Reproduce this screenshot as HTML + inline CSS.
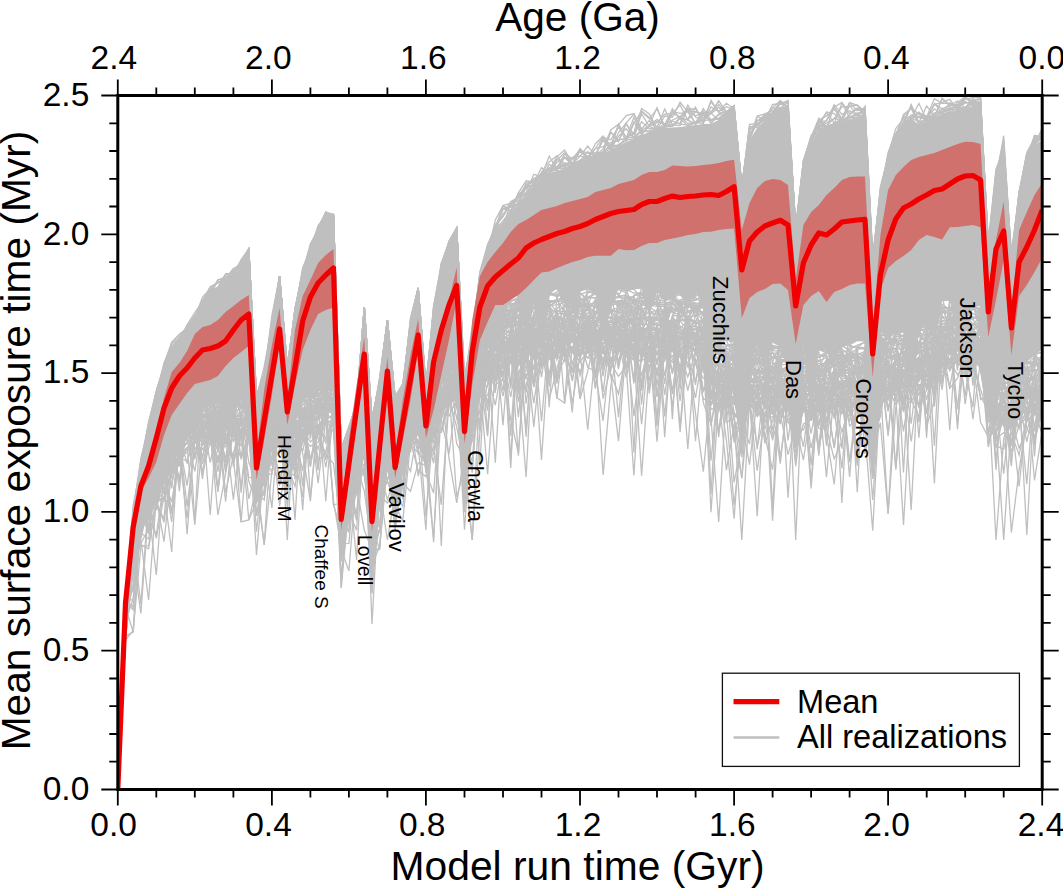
<!DOCTYPE html>
<html><head><meta charset="utf-8"><style>
html,body{margin:0;padding:0;background:#fff;}
svg{display:block;font-family:"Liberation Sans",sans-serif;}
</style></head><body>
<svg width="1063" height="889" viewBox="0 0 1063 889">
<rect width="1063" height="889" fill="#fff"/>
<defs><clipPath id="c"><rect x="117.8" y="95.5" width="924.4000000000001" height="694.0"/></clipPath></defs>
<g clip-path="url(#c)">
<g fill="none" stroke="#bfbfbf" stroke-width="1.3" stroke-linejoin="miter">
<polyline points="117.8,789.5 125.5,599.9 133.2,510.8 140.9,467.0 148.6,426.4 156.3,397.8 164.0,369.0 171.7,348.7 179.4,342.0 187.1,327.3 194.8,318.0 202.5,304.9 210.2,292.4 217.9,281.8 225.6,281.9 233.4,275.6 241.1,263.5 248.8,249.0 256.5,396.7 264.2,374.3 271.9,315.5 279.6,276.0 287.3,366.3 295.0,312.3 302.7,274.8 310.4,249.9 318.1,229.4 325.8,212.0 333.5,215.9 341.2,448.3 348.9,428.0 356.6,406.9 364.3,307.0 372.0,423.0 379.7,381.0 387.4,320.0 395.1,397.7 402.8,388.7 410.5,324.3 418.2,288.0 425.9,387.9 433.6,318.7 441.3,265.0 449.0,244.1 456.7,228.0 464.5,381.7 472.2,335.9 479.9,273.5 487.6,247.0 495.3,228.8 503.0,205.8 510.7,211.8 518.4,201.9 526.1,186.4 533.8,185.7 541.5,174.4 549.2,173.0 556.9,162.5 564.6,157.5 572.3,160.1 580.0,151.3 587.7,157.6 595.4,148.6 603.1,146.6 610.8,142.6 618.5,141.0 626.2,123.0 633.9,114.0 641.6,128.9 649.3,120.5 657.0,129.9 664.7,116.0 672.4,117.2 680.1,102.3 687.8,111.8 695.5,123.1 703.3,120.4 711.0,113.1 718.7,120.0 726.4,111.8 734.1,109.8 741.8,187.9 749.5,139.9 757.2,120.3 764.9,119.8 772.6,113.4 780.3,108.5 788.0,101.9 795.7,230.0 803.4,169.6 811.1,142.0 818.8,120.2 826.5,115.9 834.2,109.1 841.9,120.3 849.6,116.4 857.3,115.6 865.0,106.9 872.7,255.6 880.4,194.8 888.1,159.8 895.8,139.4 903.5,124.2 911.2,114.7 918.9,116.3 926.6,118.6 934.4,117.0 942.1,111.0 949.8,109.8 957.5,105.5 965.2,97.1 972.9,101.2 980.6,102.8 988.3,246.2 996.0,173.1 1003.7,150.9 1011.4,253.9 1019.1,193.9 1026.8,152.4 1034.5,138.6 1042.2,138.1"/>
<polyline points="117.8,789.5 125.5,599.9 133.2,511.0 140.9,467.0 148.6,429.0 156.3,398.6 164.0,368.8 171.7,350.0 179.4,342.0 187.1,329.0 194.8,317.8 202.5,304.9 210.2,292.8 217.9,288.0 225.6,275.1 233.4,272.6 241.1,266.8 248.8,249.0 256.5,398.8 264.2,374.5 271.9,325.8 279.6,276.0 287.3,365.1 295.0,311.3 302.7,273.1 310.4,249.9 318.1,229.9 325.8,215.3 333.5,215.9 341.2,446.6 348.9,429.9 356.6,408.0 364.3,307.0 372.0,421.6 379.7,380.9 387.4,320.0 395.1,400.0 402.8,388.0 410.5,318.3 418.2,288.0 425.9,385.2 433.6,319.0 441.3,268.9 449.0,247.8 456.7,228.0 464.5,382.2 472.2,330.9 479.9,283.4 487.6,254.3 495.3,220.1 503.0,205.6 510.7,203.3 518.4,196.2 526.1,185.0 533.8,178.9 541.5,176.4 549.2,168.2 556.9,168.6 564.6,168.0 572.3,165.0 580.0,160.9 587.7,158.1 595.4,148.7 603.1,136.5 610.8,145.6 618.5,124.9 626.2,115.6 633.9,113.5 641.6,131.4 649.3,130.7 657.0,128.7 664.7,127.2 672.4,126.5 680.1,117.3 687.8,109.0 695.5,108.8 703.3,118.5 711.0,113.6 718.7,107.2 726.4,114.9 734.1,107.2 741.8,184.7 749.5,130.2 757.2,120.7 764.9,117.3 772.6,113.7 780.3,103.8 788.0,107.1 795.7,226.2 803.4,160.7 811.1,143.4 818.8,126.4 826.5,111.9 834.2,113.5 841.9,121.4 849.6,119.7 857.3,117.6 865.0,106.5 872.7,257.4 880.4,194.8 888.1,154.5 895.8,128.5 903.5,118.5 911.2,116.3 918.9,117.5 926.6,119.6 934.4,117.0 942.1,98.0 949.8,105.2 957.5,106.1 965.2,97.5 972.9,104.1 980.6,98.7 988.3,243.2 996.0,179.3 1003.7,149.8 1011.4,261.1 1019.1,199.4 1026.8,156.6 1034.5,144.3 1042.2,137.9"/>
<polyline points="117.8,789.5 125.5,595.9 133.2,513.7 140.9,465.1 148.6,425.9 156.3,391.6 164.0,367.4 171.7,343.4 179.4,339.7 187.1,326.5 194.8,315.5 202.5,305.0 210.2,292.3 217.9,287.7 225.6,282.0 233.4,270.3 241.1,266.7 248.8,249.0 256.5,394.7 264.2,372.6 271.9,324.8 279.6,276.0 287.3,368.5 295.0,308.1 302.7,274.9 310.4,247.8 318.1,229.6 325.8,215.5 333.5,214.8 341.2,448.7 348.9,428.4 356.6,403.4 364.3,307.0 372.0,422.0 379.7,378.7 387.4,320.0 395.1,398.7 402.8,386.6 410.5,323.6 418.2,288.0 425.9,387.7 433.6,306.7 441.3,266.1 449.0,241.9 456.7,228.0 464.5,384.3 472.2,335.3 479.9,271.7 487.6,244.4 495.3,229.7 503.0,224.7 510.7,209.7 518.4,203.9 526.1,194.1 533.8,185.9 541.5,172.1 549.2,161.9 556.9,155.7 564.6,167.6 572.3,157.3 580.0,155.9 587.7,158.7 595.4,143.7 603.1,136.1 610.8,148.9 618.5,124.2 626.2,137.7 633.9,132.4 641.6,108.5 649.3,114.0 657.0,129.3 664.7,123.6 672.4,121.0 680.1,124.1 687.8,125.2 695.5,122.7 703.3,111.5 711.0,123.7 718.7,113.9 726.4,112.1 734.1,110.0 741.8,187.6 749.5,133.8 757.2,124.6 764.9,120.0 772.6,104.3 780.3,103.8 788.0,100.4 795.7,229.9 803.4,171.2 811.1,145.0 818.8,121.9 826.5,126.7 834.2,123.7 841.9,118.1 849.6,102.6 857.3,105.3 865.0,114.3 872.7,261.8 880.4,186.6 888.1,157.4 895.8,134.1 903.5,124.9 911.2,118.0 918.9,113.2 926.6,116.2 934.4,116.9 942.1,99.0 949.8,105.6 957.5,101.0 965.2,107.9 972.9,98.7 980.6,105.0 988.3,242.6 996.0,176.9 1003.7,148.7 1011.4,258.9 1019.1,191.4 1026.8,159.3 1034.5,144.8 1042.2,136.6"/>
<polyline points="117.8,789.5 125.5,599.9 133.2,514.7 140.9,467.0 148.6,428.6 156.3,398.1 164.0,368.2 171.7,345.8 179.4,341.2 187.1,326.7 194.8,317.7 202.5,303.9 210.2,294.0 217.9,287.4 225.6,282.0 233.4,271.2 241.1,264.3 248.8,249.0 256.5,397.7 264.2,366.4 271.9,325.9 279.6,276.0 287.3,369.1 295.0,311.0 302.7,269.4 310.4,248.9 318.1,228.5 325.8,213.2 333.5,214.1 341.2,449.4 348.9,426.5 356.6,404.0 364.3,307.0 372.0,422.2 379.7,380.3 387.4,320.0 395.1,399.9 402.8,390.0 410.5,321.2 418.2,288.0 425.9,389.7 433.6,319.9 441.3,264.3 449.0,241.9 456.7,228.0 464.5,384.2 472.2,339.1 479.9,283.7 487.6,251.8 495.3,229.6 503.0,221.0 510.7,211.2 518.4,192.9 526.1,180.8 533.8,182.1 541.5,176.3 549.2,156.2 556.9,169.2 564.6,165.7 572.3,165.0 580.0,160.0 587.7,155.8 595.4,152.5 603.1,152.3 610.8,144.4 618.5,146.0 626.2,140.1 633.9,138.8 641.6,130.7 649.3,132.0 657.0,130.0 664.7,125.9 672.4,126.2 680.1,118.4 687.8,120.1 695.5,112.0 703.3,113.6 711.0,111.6 718.7,104.5 726.4,112.7 734.1,109.3 741.8,184.1 749.5,139.6 757.2,121.2 764.9,115.0 772.6,114.0 780.3,103.0 788.0,101.6 795.7,227.6 803.4,165.5 811.1,138.4 818.8,127.8 826.5,123.1 834.2,118.9 841.9,106.7 849.6,106.4 857.3,105.0 865.0,111.5 872.7,256.4 880.4,190.3 888.1,156.2 895.8,139.4 903.5,125.0 911.2,117.8 918.9,121.7 926.6,119.8 934.4,103.7 942.1,108.7 949.8,105.7 957.5,104.5 965.2,102.4 972.9,103.6 980.6,105.0 988.3,243.6 996.0,171.6 1003.7,146.0 1011.4,259.1 1019.1,195.7 1026.8,160.0 1034.5,139.6 1042.2,139.2"/>
<polyline points="117.8,789.5 125.5,599.6 133.2,509.7 140.9,466.6 148.6,424.1 156.3,390.4 164.0,366.8 171.7,349.7 179.4,339.9 187.1,324.8 194.8,312.7 202.5,301.6 210.2,290.3 217.9,287.9 225.6,281.8 233.4,275.4 241.1,262.0 248.8,249.0 256.5,396.8 264.2,376.0 271.9,326.0 279.6,276.0 287.3,367.7 295.0,309.2 302.7,271.3 310.4,249.4 318.1,228.4 325.8,214.7 333.5,215.6 341.2,449.9 348.9,426.0 356.6,407.7 364.3,307.0 372.0,418.6 379.7,381.0 387.4,320.0 395.1,396.6 402.8,383.4 410.5,323.6 418.2,288.0 425.9,389.6 433.6,306.6 441.3,269.6 449.0,245.3 456.7,228.0 464.5,382.3 472.2,326.4 479.9,284.7 487.6,244.9 495.3,226.1 503.0,209.3 510.7,206.1 518.4,203.4 526.1,182.9 533.8,182.9 541.5,177.0 549.2,173.0 556.9,166.4 564.6,164.3 572.3,163.6 580.0,161.7 587.7,157.3 595.4,155.0 603.1,140.3 610.8,150.0 618.5,132.5 626.2,123.0 633.9,138.6 641.6,111.8 649.3,118.8 657.0,108.9 664.7,126.1 672.4,124.1 680.1,123.1 687.8,105.1 695.5,117.0 703.3,120.9 711.0,119.4 718.7,118.5 726.4,115.0 734.1,109.9 741.8,185.2 749.5,138.7 757.2,116.6 764.9,119.3 772.6,113.3 780.3,107.4 788.0,107.7 795.7,229.2 803.4,161.0 811.1,137.2 818.8,121.4 826.5,120.8 834.2,107.3 841.9,102.5 849.6,113.7 857.3,108.2 865.0,115.0 872.7,258.2 880.4,193.0 888.1,155.5 895.8,135.0 903.5,123.8 911.2,118.0 918.9,103.5 926.6,119.7 934.4,112.8 942.1,112.0 949.8,110.6 957.5,102.4 965.2,96.6 972.9,105.3 980.6,101.4 988.3,249.1 996.0,175.3 1003.7,148.0 1011.4,261.7 1019.1,199.7 1026.8,159.6 1034.5,136.8 1042.2,137.0"/>
<polyline points="117.8,789.5 125.5,595.9 133.2,505.1 140.9,465.2 148.6,428.8 156.3,398.7 164.0,368.9 171.7,349.9 179.4,341.9 187.1,328.5 194.8,317.4 202.5,302.1 210.2,286.9 217.9,282.9 225.6,280.5 233.4,274.5 241.1,264.5 248.8,249.0 256.5,398.9 264.2,376.0 271.9,325.2 279.6,276.0 287.3,369.9 295.0,311.0 302.7,271.8 310.4,244.8 318.1,229.7 325.8,215.6 333.5,215.9 341.2,449.2 348.9,429.0 356.6,400.7 364.3,307.0 372.0,419.2 379.7,381.0 387.4,320.0 395.1,397.5 402.8,384.4 410.5,323.4 418.2,288.0 425.9,390.0 433.6,317.7 441.3,263.1 449.0,242.5 456.7,228.0 464.5,375.5 472.2,339.1 479.9,284.8 487.6,254.6 495.3,225.9 503.0,215.7 510.7,201.4 518.4,197.7 526.1,188.7 533.8,178.4 541.5,174.7 549.2,167.5 556.9,171.0 564.6,157.0 572.3,164.2 580.0,150.2 587.7,153.2 595.4,155.2 603.1,152.7 610.8,148.6 618.5,136.3 626.2,128.8 633.9,138.6 641.6,134.9 649.3,124.8 657.0,121.2 664.7,124.5 672.4,126.3 680.1,118.0 687.8,126.0 695.5,122.9 703.3,118.9 711.0,101.9 718.7,111.7 726.4,103.3 734.1,108.5 741.8,187.8 749.5,139.0 757.2,116.0 764.9,114.0 772.6,113.1 780.3,110.0 788.0,106.0 795.7,227.3 803.4,169.9 811.1,144.3 818.8,123.5 826.5,112.6 834.2,123.0 841.9,122.0 849.6,117.6 857.3,114.6 865.0,110.2 872.7,261.7 880.4,188.6 888.1,155.6 895.8,136.9 903.5,124.4 911.2,104.8 918.9,122.6 926.6,105.9 934.4,116.0 942.1,113.2 949.8,102.7 957.5,108.8 965.2,97.1 972.9,103.5 980.6,104.7 988.3,249.5 996.0,177.4 1003.7,142.3 1011.4,253.0 1019.1,199.8 1026.8,158.5 1034.5,144.5 1042.2,128.4"/>
<polyline points="117.8,789.5 125.5,600.0 133.2,515.0 140.9,465.6 148.6,421.7 156.3,392.0 164.0,364.2 171.7,342.0 179.4,334.2 187.1,328.0 194.8,317.7 202.5,297.1 210.2,289.0 217.9,288.0 225.6,278.0 233.4,274.7 241.1,265.7 248.8,249.0 256.5,399.7 264.2,376.0 271.9,325.1 279.6,276.0 287.3,365.4 295.0,312.9 302.7,267.6 310.4,249.7 318.1,229.2 325.8,212.0 333.5,214.6 341.2,449.1 348.9,430.0 356.6,406.2 364.3,307.0 372.0,418.8 379.7,380.8 387.4,320.0 395.1,396.0 402.8,390.0 410.5,323.8 418.2,288.0 425.9,384.1 433.6,320.0 441.3,270.0 449.0,248.0 456.7,228.0 464.5,384.3 472.2,331.6 479.9,272.9 487.6,253.3 495.3,228.9 503.0,206.7 510.7,207.4 518.4,203.2 526.1,187.3 533.8,184.7 541.5,176.2 549.2,173.0 556.9,160.2 564.6,152.9 572.3,159.0 580.0,149.5 587.7,159.0 595.4,155.8 603.1,148.9 610.8,129.9 618.5,124.2 626.2,138.0 633.9,137.2 641.6,130.0 649.3,125.7 657.0,107.6 664.7,127.4 672.4,111.7 680.1,113.4 687.8,111.8 695.5,111.3 703.3,115.1 711.0,121.2 718.7,118.0 726.4,113.0 734.1,106.0 741.8,188.0 749.5,139.4 757.2,120.6 764.9,119.3 772.6,114.0 780.3,110.0 788.0,105.6 795.7,229.4 803.4,160.5 811.1,137.2 818.8,118.2 826.5,126.7 834.2,123.9 841.9,121.8 849.6,114.8 857.3,108.4 865.0,112.9 872.7,261.6 880.4,193.3 888.1,156.9 895.8,134.5 903.5,116.6 911.2,108.0 918.9,114.0 926.6,119.7 934.4,103.6 942.1,112.5 949.8,106.9 957.5,108.1 965.2,101.5 972.9,105.6 980.6,104.5 988.3,249.4 996.0,179.6 1003.7,135.7 1011.4,258.7 1019.1,198.9 1026.8,158.4 1034.5,135.2 1042.2,136.9"/>
<polyline points="117.8,789.5 125.5,596.7 133.2,510.7 140.9,458.2 148.6,428.9 156.3,397.0 164.0,363.0 171.7,344.6 179.4,334.5 187.1,329.0 194.8,317.2 202.5,304.9 210.2,293.7 217.9,279.5 225.6,278.9 233.4,268.2 241.1,265.8 248.8,249.0 256.5,398.0 264.2,375.3 271.9,319.3 279.6,276.0 287.3,369.9 295.0,310.2 302.7,271.9 310.4,249.7 318.1,229.2 325.8,215.9 333.5,215.9 341.2,449.7 348.9,428.2 356.6,404.6 364.3,307.0 372.0,423.0 379.7,380.4 387.4,320.0 395.1,399.8 402.8,389.3 410.5,324.7 418.2,288.0 425.9,387.0 433.6,319.9 441.3,269.9 449.0,246.7 456.7,228.0 464.5,380.9 472.2,339.9 479.9,284.6 487.6,247.7 495.3,227.5 503.0,223.4 510.7,210.9 518.4,193.1 526.1,193.5 533.8,181.8 541.5,175.6 549.2,169.9 556.9,156.8 564.6,150.1 572.3,163.0 580.0,161.5 587.7,151.6 595.4,156.0 603.1,153.0 610.8,132.1 618.5,141.7 626.2,123.8 633.9,134.4 641.6,114.0 649.3,126.5 657.0,129.3 664.7,128.2 672.4,120.0 680.1,116.7 687.8,108.6 695.5,124.8 703.3,114.7 711.0,120.4 718.7,114.9 726.4,114.7 734.1,109.5 741.8,186.9 749.5,126.3 757.2,127.8 764.9,117.1 772.6,107.5 780.3,100.7 788.0,107.7 795.7,229.9 803.4,161.3 811.1,135.5 818.8,125.7 826.5,127.9 834.2,106.8 841.9,118.7 849.6,102.8 857.3,110.7 865.0,107.9 872.7,261.8 880.4,188.8 888.1,159.6 895.8,138.0 903.5,114.3 911.2,108.4 918.9,124.2 926.6,119.0 934.4,114.0 942.1,109.4 949.8,109.6 957.5,109.8 965.2,107.3 972.9,100.7 980.6,98.3 988.3,250.0 996.0,175.3 1003.7,139.8 1011.4,262.0 1019.1,193.0 1026.8,159.9 1034.5,141.4 1042.2,136.3"/>
<polyline points="117.8,789.5 125.5,599.5 133.2,513.2 140.9,463.9 148.6,427.4 156.3,395.1 164.0,367.2 171.7,349.3 179.4,342.0 187.1,325.6 194.8,315.8 202.5,304.5 210.2,288.8 217.9,282.5 225.6,280.1 233.4,275.7 241.1,265.0 248.8,249.0 256.5,399.8 264.2,374.0 271.9,325.9 279.6,276.0 287.3,368.7 295.0,313.0 302.7,271.8 310.4,250.0 318.1,226.8 325.8,212.4 333.5,215.5 341.2,450.0 348.9,428.7 356.6,406.9 364.3,307.0 372.0,422.9 379.7,376.6 387.4,320.0 395.1,397.3 402.8,385.4 410.5,324.7 418.2,288.0 425.9,387.6 433.6,306.3 441.3,263.3 449.0,247.8 456.7,228.0 464.5,376.3 472.2,339.9 479.9,283.2 487.6,246.4 495.3,229.6 503.0,208.9 510.7,211.1 518.4,196.0 526.1,194.7 533.8,182.7 541.5,167.7 549.2,172.2 556.9,169.7 564.6,163.4 572.3,163.5 580.0,162.0 587.7,158.5 595.4,156.3 603.1,137.2 610.8,139.8 618.5,126.8 626.2,141.2 633.9,121.8 641.6,134.6 649.3,124.7 657.0,119.5 664.7,125.0 672.4,108.8 680.1,119.3 687.8,118.9 695.5,107.1 703.3,123.7 711.0,100.3 718.7,112.1 726.4,112.7 734.1,105.9 741.8,187.7 749.5,124.3 757.2,123.7 764.9,118.4 772.6,108.2 780.3,108.0 788.0,107.8 795.7,226.7 803.4,172.0 811.1,138.3 818.8,127.4 826.5,120.6 834.2,104.6 841.9,114.4 849.6,110.7 857.3,116.1 865.0,115.0 872.7,262.0 880.4,194.8 888.1,157.0 895.8,137.8 903.5,121.1 911.2,106.8 918.9,124.6 926.6,118.9 934.4,108.9 942.1,114.0 949.8,112.0 957.5,108.2 965.2,107.9 972.9,104.7 980.6,104.6 988.3,246.6 996.0,174.8 1003.7,150.2 1011.4,258.1 1019.1,197.7 1026.8,159.8 1034.5,136.2 1042.2,139.3"/>
<polyline points="117.8,789.5 125.5,600.0 133.2,510.9 140.9,460.2 148.6,423.5 156.3,397.5 164.0,368.4 171.7,351.0 179.4,338.3 187.1,326.2 194.8,316.9 202.5,301.2 210.2,292.2 217.9,280.1 225.6,277.2 233.4,275.4 241.1,259.7 248.8,249.0 256.5,397.2 264.2,374.2 271.9,325.4 279.6,276.0 287.3,367.0 295.0,313.0 302.7,272.6 310.4,243.8 318.1,229.9 325.8,215.8 333.5,215.3 341.2,448.7 348.9,427.9 356.6,402.7 364.3,307.0 372.0,422.5 379.7,380.5 387.4,320.0 395.1,396.0 402.8,385.7 410.5,321.4 418.2,288.0 425.9,382.9 433.6,311.7 441.3,268.3 449.0,243.6 456.7,228.0 464.5,384.5 472.2,339.8 479.9,284.2 487.6,255.0 495.3,228.3 503.0,213.8 510.7,206.2 518.4,195.4 526.1,187.4 533.8,185.1 541.5,173.6 549.2,169.6 556.9,159.2 564.6,163.1 572.3,163.9 580.0,156.2 587.7,146.0 595.4,155.9 603.1,139.1 610.8,150.0 618.5,144.4 626.2,140.5 633.9,123.5 641.6,110.9 649.3,117.5 657.0,127.2 664.7,109.1 672.4,124.9 680.1,125.6 687.8,108.7 695.5,115.9 703.3,112.5 711.0,113.2 718.7,100.8 726.4,111.7 734.1,105.4 741.8,186.1 749.5,128.2 757.2,125.5 764.9,113.7 772.6,110.7 780.3,109.1 788.0,107.6 795.7,227.7 803.4,171.9 811.1,136.7 818.8,127.8 826.5,128.0 834.2,123.8 841.9,103.0 849.6,117.5 857.3,117.6 865.0,115.0 872.7,262.0 880.4,190.2 888.1,156.8 895.8,134.2 903.5,116.9 911.2,117.9 918.9,116.3 926.6,117.2 934.4,104.3 942.1,102.6 949.8,99.3 957.5,109.9 965.2,99.0 972.9,97.6 980.6,97.6 988.3,249.9 996.0,179.4 1003.7,150.8 1011.4,262.0 1019.1,192.8 1026.8,153.4 1034.5,141.0 1042.2,131.7"/>
<polyline points="117.8,789.5 125.5,599.6 133.2,514.9 140.9,466.9 148.6,423.8 156.3,398.6 164.0,368.1 171.7,349.4 179.4,342.0 187.1,328.4 194.8,317.3 202.5,300.4 210.2,292.8 217.9,287.1 225.6,273.6 233.4,273.7 241.1,260.5 248.8,249.0 256.5,400.0 264.2,374.1 271.9,323.9 279.6,276.0 287.3,369.4 295.0,309.0 302.7,272.7 310.4,249.7 318.1,225.5 325.8,216.0 333.5,214.7 341.2,449.9 348.9,430.0 356.6,407.7 364.3,307.0 372.0,418.2 379.7,381.0 387.4,320.0 395.1,398.8 402.8,385.6 410.5,324.8 418.2,288.0 425.9,388.8 433.6,309.6 441.3,269.5 449.0,240.9 456.7,228.0 464.5,384.5 472.2,332.7 479.9,281.3 487.6,254.8 495.3,223.9 503.0,224.9 510.7,204.6 518.4,198.2 526.1,185.7 533.8,180.9 541.5,175.6 549.2,170.1 556.9,168.0 564.6,153.7 572.3,164.9 580.0,150.9 587.7,159.0 595.4,156.0 603.1,151.8 610.8,132.1 618.5,140.0 626.2,138.1 633.9,117.1 641.6,133.5 649.3,126.5 657.0,122.7 664.7,114.1 672.4,113.6 680.1,116.6 687.8,123.4 695.5,122.5 703.3,123.4 711.0,106.9 718.7,111.2 726.4,106.7 734.1,109.8 741.8,187.2 749.5,130.4 757.2,123.6 764.9,119.8 772.6,111.9 780.3,102.2 788.0,107.5 795.7,229.8 803.4,170.9 811.1,140.1 818.8,120.9 826.5,127.6 834.2,123.5 841.9,120.7 849.6,117.8 857.3,112.8 865.0,114.7 872.7,261.2 880.4,194.6 888.1,152.4 895.8,133.6 903.5,124.8 911.2,105.0 918.9,124.7 926.6,116.9 934.4,98.6 942.1,103.3 949.8,103.4 957.5,107.4 965.2,107.5 972.9,101.9 980.6,104.9 988.3,249.6 996.0,177.7 1003.7,151.0 1011.4,260.4 1019.1,193.7 1026.8,155.2 1034.5,142.5 1042.2,135.1"/>
<polyline points="117.8,789.5 125.5,599.9 133.2,511.4 140.9,465.5 148.6,424.1 156.3,391.6 164.0,367.3 171.7,348.0 179.4,336.9 187.1,327.4 194.8,317.5 202.5,300.3 210.2,287.0 217.9,282.6 225.6,277.6 233.4,269.5 241.1,262.8 248.8,249.0 256.5,397.9 264.2,374.9 271.9,321.7 279.6,276.0 287.3,369.1 295.0,308.1 302.7,270.9 310.4,247.2 318.1,229.6 325.8,214.9 333.5,215.6 341.2,448.1 348.9,429.2 356.6,404.4 364.3,307.0 372.0,422.8 379.7,378.4 387.4,320.0 395.1,399.2 402.8,388.3 410.5,318.4 418.2,288.0 425.9,387.0 433.6,319.6 441.3,265.1 449.0,240.9 456.7,228.0 464.5,384.9 472.2,335.0 479.9,280.6 487.6,247.3 495.3,226.1 503.0,216.8 510.7,203.8 518.4,200.7 526.1,192.5 533.8,174.3 541.5,176.5 549.2,164.6 556.9,168.1 564.6,157.5 572.3,164.8 580.0,148.4 587.7,157.2 595.4,156.6 603.1,151.6 610.8,146.5 618.5,146.0 626.2,137.3 633.9,134.0 641.6,121.8 649.3,128.8 657.0,128.2 664.7,127.0 672.4,114.0 680.1,104.9 687.8,120.2 695.5,123.9 703.3,108.6 711.0,120.1 718.7,119.1 726.4,114.7 734.1,106.1 741.8,185.4 749.5,133.6 757.2,125.1 764.9,116.2 772.6,113.5 780.3,100.7 788.0,107.0 795.7,227.6 803.4,164.0 811.1,138.3 818.8,125.8 826.5,126.4 834.2,118.0 841.9,121.7 849.6,105.4 857.3,115.6 865.0,107.5 872.7,261.5 880.4,193.6 888.1,159.5 895.8,137.8 903.5,124.5 911.2,118.0 918.9,112.0 926.6,118.3 934.4,115.9 942.1,112.5 949.8,108.3 957.5,107.4 965.2,103.1 972.9,101.7 980.6,103.9 988.3,241.4 996.0,169.0 1003.7,150.9 1011.4,255.1 1019.1,191.8 1026.8,153.9 1034.5,144.8 1042.2,131.6"/>
<polyline points="117.8,789.5 125.5,606.5 133.2,560.4 140.9,543.3 148.6,528.8 156.3,481.8 164.0,467.1 171.7,452.7 179.4,436.8 187.1,429.4 194.8,423.0 202.5,423.3 210.2,416.9 217.9,415.9 225.6,415.7 233.4,416.9 241.1,487.9 248.8,414.1 256.5,482.1 264.2,495.9 271.9,429.1 279.6,445.8 287.3,447.2 295.0,425.4 302.7,416.3 310.4,458.8 318.1,434.6 325.8,400.6 333.5,398.4 341.2,529.8 348.9,490.9 356.6,482.5 364.3,430.8 372.0,535.1 379.7,483.6 387.4,443.1 395.1,485.3 402.8,451.9 410.5,424.0 418.2,413.2 425.9,444.1 433.6,409.7 441.3,394.8 449.0,385.7 456.7,378.8 464.5,456.9 472.2,398.7 479.9,374.8 487.6,358.1 495.3,344.8 503.0,342.6 510.7,363.3 518.4,337.7 526.1,340.7 533.8,332.4 541.5,333.0 549.2,329.0 556.9,398.8 564.6,331.6 572.3,351.6 580.0,331.7 587.7,333.7 595.4,374.3 603.1,330.0 610.8,328.8 618.5,329.4 626.2,329.5 633.9,383.3 641.6,330.8 649.3,393.3 657.0,333.7 664.7,375.7 672.4,334.2 680.1,382.3 687.8,335.4 695.5,334.7 703.3,350.5 711.0,374.6 718.7,395.6 726.4,380.6 734.1,404.5 741.8,405.6 749.5,390.7 757.2,384.7 764.9,384.7 772.6,520.8 780.3,384.3 788.0,382.4 795.7,413.7 803.4,398.6 811.1,408.4 818.8,390.8 826.5,391.8 834.2,395.4 841.9,385.8 849.6,382.0 857.3,385.8 865.0,411.3 872.7,442.8 880.4,374.6 888.1,370.3 895.8,367.3 903.5,382.7 911.2,367.2 918.9,376.3 926.6,357.7 934.4,352.2 942.1,355.8 949.8,344.3 957.5,342.4 965.2,345.7 972.9,340.7 980.6,345.6 988.3,390.8 996.0,540.0 1003.7,438.7 1011.4,418.4 1019.1,390.5 1026.8,535.0 1034.5,393.1 1042.2,412.7"/>
<polyline points="117.8,789.5 125.5,600.0 133.2,536.1 140.9,499.2 148.6,484.1 156.3,468.6 164.0,490.5 171.7,552.0 179.4,424.6 187.1,417.6 194.8,420.0 202.5,405.2 210.2,409.3 217.9,437.1 225.6,407.1 233.4,402.2 241.1,404.9 248.8,410.2 256.5,470.1 264.2,452.3 271.9,434.2 279.6,421.3 287.3,434.4 295.0,460.2 302.7,496.9 310.4,397.5 318.1,395.7 325.8,387.1 333.5,383.8 341.2,520.6 348.9,502.9 356.6,443.7 364.3,417.9 372.0,524.9 379.7,467.1 387.4,425.1 395.1,472.7 402.8,447.5 410.5,412.9 418.2,396.9 425.9,431.6 433.6,408.8 441.3,383.9 449.0,371.2 456.7,368.3 464.5,473.6 472.2,383.6 479.9,362.8 487.6,343.4 495.3,333.1 503.0,330.5 510.7,324.3 518.4,337.8 526.1,340.6 533.8,323.1 541.5,317.8 549.2,322.1 556.9,319.4 564.6,320.4 572.3,372.8 580.0,318.4 587.7,316.6 595.4,318.0 603.1,320.7 610.8,316.4 618.5,318.7 626.2,342.9 633.9,325.2 641.6,351.0 649.3,319.7 657.0,318.3 664.7,322.1 672.4,319.9 680.1,320.4 687.8,319.1 695.5,323.9 703.3,321.9 711.0,494.2 718.7,366.0 726.4,366.6 734.1,412.1 741.8,427.1 749.5,371.2 757.2,449.3 764.9,376.9 772.6,370.8 780.3,389.5 788.0,369.0 795.7,412.6 803.4,403.6 811.1,387.7 818.8,379.6 826.5,377.3 834.2,377.1 841.9,371.0 849.6,374.3 857.3,373.9 865.0,401.3 872.7,431.1 880.4,371.6 888.1,356.9 895.8,354.2 903.5,360.8 911.2,356.2 918.9,348.0 926.6,345.4 934.4,382.8 942.1,328.7 949.8,328.7 957.5,332.0 965.2,328.6 972.9,329.5 980.6,347.4 988.3,377.0 996.0,394.1 1003.7,387.7 1011.4,393.9 1019.1,384.3 1026.8,379.1 1034.5,379.1 1042.2,379.4"/>
<polyline points="117.8,789.5 125.5,605.1 133.2,542.8 140.9,514.8 148.6,509.6 156.3,507.5 164.0,465.9 171.7,513.6 179.4,438.2 187.1,506.4 194.8,442.6 202.5,419.9 210.2,462.5 217.9,426.0 225.6,417.7 233.4,418.4 241.1,418.9 248.8,416.4 256.5,483.5 264.2,453.7 271.9,508.0 279.6,409.8 287.3,447.7 295.0,429.6 302.7,416.8 310.4,414.1 318.1,406.6 325.8,402.0 333.5,409.6 341.2,553.3 348.9,494.0 356.6,462.0 364.3,430.5 372.0,624.0 379.7,481.4 387.4,438.9 395.1,519.6 402.8,486.4 410.5,427.2 418.2,413.6 425.9,449.7 433.6,412.3 441.3,407.3 449.0,384.5 456.7,380.1 464.5,462.4 472.2,399.6 479.9,379.1 487.6,359.2 495.3,347.9 503.0,341.5 510.7,346.2 518.4,339.6 526.1,429.8 533.8,335.2 541.5,335.7 549.2,336.6 556.9,332.3 564.6,344.6 572.3,403.8 580.0,355.2 587.7,350.1 595.4,355.6 603.1,332.7 610.8,330.7 618.5,347.1 626.2,332.7 633.9,335.0 641.6,331.3 649.3,339.2 657.0,333.7 664.7,334.4 672.4,393.8 680.1,333.5 687.8,338.3 695.5,333.0 703.3,344.0 711.0,460.7 718.7,379.7 726.4,380.9 734.1,482.5 741.8,441.1 749.5,398.7 757.2,386.5 764.9,393.4 772.6,390.5 780.3,386.1 788.0,388.4 795.7,461.4 803.4,390.2 811.1,389.3 818.8,391.6 826.5,389.4 834.2,387.5 841.9,384.7 849.6,388.4 857.3,398.2 865.0,409.2 872.7,443.9 880.4,388.5 888.1,370.4 895.8,368.3 903.5,377.0 911.2,365.4 918.9,358.1 926.6,361.6 934.4,384.6 942.1,341.4 949.8,364.1 957.5,342.7 965.2,350.5 972.9,367.8 980.6,346.4 988.3,390.3 996.0,404.6 1003.7,415.4 1011.4,451.8 1019.1,424.7 1026.8,393.6 1034.5,398.6 1042.2,389.9"/>
<polyline points="117.8,789.5 125.5,633.2 133.2,542.3 140.9,604.1 148.6,499.2 156.3,487.4 164.0,473.2 171.7,464.9 179.4,438.4 187.1,431.3 194.8,423.8 202.5,421.9 210.2,422.1 217.9,491.9 225.6,430.4 233.4,416.7 241.1,416.5 248.8,462.3 256.5,482.5 264.2,456.0 271.9,472.5 279.6,414.0 287.3,449.6 295.0,470.9 302.7,417.6 310.4,466.8 318.1,405.7 325.8,415.6 333.5,402.3 341.2,534.1 348.9,495.4 356.6,474.2 364.3,437.7 372.0,538.1 379.7,490.2 387.4,451.5 395.1,487.2 402.8,453.2 410.5,426.3 418.2,413.5 425.9,449.3 433.6,417.3 441.3,409.0 449.0,384.5 456.7,397.0 464.5,460.4 472.2,540.0 479.9,432.3 487.6,362.4 495.3,346.0 503.0,353.6 510.7,337.5 518.4,338.7 526.1,338.2 533.8,335.8 541.5,331.6 549.2,337.6 556.9,333.7 564.6,356.6 572.3,334.6 580.0,356.6 587.7,343.3 595.4,332.3 603.1,366.8 610.8,333.6 618.5,334.0 626.2,335.5 633.9,338.5 641.6,383.1 649.3,332.4 657.0,338.4 664.7,352.3 672.4,332.4 680.1,337.0 687.8,350.2 695.5,341.6 703.3,335.7 711.0,379.6 718.7,386.5 726.4,385.4 734.1,389.6 741.8,410.4 749.5,386.8 757.2,387.3 764.9,429.4 772.6,397.4 780.3,387.3 788.0,391.6 795.7,422.9 803.4,392.9 811.1,389.9 818.8,391.4 826.5,391.6 834.2,388.0 841.9,384.4 849.6,461.5 857.3,413.5 865.0,384.8 872.7,455.2 880.4,371.1 888.1,392.1 895.8,368.4 903.5,371.1 911.2,369.1 918.9,358.1 926.6,426.5 934.4,400.5 942.1,344.3 949.8,342.2 957.5,348.3 965.2,341.6 972.9,359.8 980.6,347.6 988.3,393.6 996.0,406.3 1003.7,424.0 1011.4,405.2 1019.1,393.9 1026.8,409.8 1034.5,395.2 1042.2,390.7"/>
<polyline points="117.8,789.5 125.5,600.0 133.2,515.0 140.9,474.8 148.6,461.3 156.3,443.1 164.0,428.5 171.7,414.0 179.4,430.6 187.1,393.3 194.8,388.6 202.5,382.9 210.2,382.5 217.9,391.0 225.6,382.9 233.4,380.1 241.1,378.4 248.8,377.5 256.5,460.0 264.2,413.6 271.9,402.2 279.6,374.4 287.3,416.6 295.0,387.6 302.7,401.4 310.4,383.2 318.1,375.4 325.8,376.8 333.5,362.2 341.2,527.1 348.9,456.4 356.6,421.4 364.3,400.4 372.0,501.5 379.7,447.3 387.4,399.1 395.1,451.3 402.8,426.9 410.5,407.7 418.2,374.2 425.9,413.9 433.6,375.8 441.3,355.6 449.0,347.8 456.7,345.0 464.5,423.1 472.2,363.2 479.9,377.8 487.6,330.7 495.3,310.5 503.0,304.3 510.7,301.7 518.4,297.9 526.1,304.2 533.8,299.0 541.5,304.2 549.2,293.6 556.9,296.9 564.6,293.5 572.3,297.4 580.0,293.0 587.7,299.0 595.4,293.5 603.1,296.9 610.8,302.7 618.5,296.3 626.2,294.9 633.9,317.3 641.6,293.6 649.3,295.3 657.0,305.6 664.7,294.3 672.4,297.3 680.1,295.0 687.8,300.0 695.5,316.5 703.3,296.0 711.0,339.7 718.7,342.5 726.4,344.8 734.1,344.2 741.8,368.8 749.5,348.4 757.2,346.1 764.9,349.4 772.6,346.0 780.3,349.4 788.0,346.9 795.7,440.3 803.4,352.7 811.1,357.5 818.8,351.9 826.5,393.7 834.2,350.1 841.9,349.2 849.6,403.6 857.3,346.8 865.0,348.1 872.7,404.3 880.4,367.6 888.1,331.8 895.8,330.4 903.5,330.8 911.2,327.9 918.9,321.6 926.6,322.3 934.4,320.9 942.1,308.9 949.8,307.4 957.5,305.1 965.2,304.6 972.9,304.3 980.6,331.4 988.3,362.3 996.0,368.0 1003.7,363.4 1011.4,368.5 1019.1,355.5 1026.8,353.6 1034.5,354.4 1042.2,384.8"/>
<polyline points="117.8,789.5 125.5,640.0 133.2,559.0 140.9,544.8 148.6,548.8 156.3,501.8 164.0,498.3 171.7,472.2 179.4,455.4 187.1,447.4 194.8,525.0 202.5,437.8 210.2,436.2 217.9,438.5 225.6,456.6 233.4,452.9 241.1,435.7 248.8,481.0 256.5,502.7 264.2,473.9 271.9,474.2 279.6,430.3 287.3,507.0 295.0,446.5 302.7,436.0 310.4,433.1 318.1,432.2 325.8,420.3 333.5,424.6 341.2,549.0 348.9,508.3 356.6,491.1 364.3,453.2 372.0,553.8 379.7,502.2 387.4,453.5 395.1,504.9 402.8,520.8 410.5,443.2 418.2,432.5 425.9,466.2 433.6,429.4 441.3,432.4 449.0,403.2 456.7,398.3 464.5,474.8 472.2,431.2 479.9,394.6 487.6,377.6 495.3,365.8 503.0,396.0 510.7,357.9 518.4,355.9 526.1,376.6 533.8,352.5 541.5,353.4 549.2,372.7 556.9,352.4 564.6,352.9 572.3,371.5 580.0,350.8 587.7,429.8 595.4,351.7 603.1,350.6 610.8,368.0 618.5,350.1 626.2,355.5 633.9,360.1 641.6,360.2 649.3,358.4 657.0,350.8 664.7,350.3 672.4,362.1 680.1,354.4 687.8,377.1 695.5,352.8 703.3,367.3 711.0,404.1 718.7,398.1 726.4,398.2 734.1,417.1 741.8,478.5 749.5,402.1 757.2,402.7 764.9,438.2 772.6,402.5 780.3,413.4 788.0,404.7 795.7,430.7 803.4,411.4 811.1,411.5 818.8,410.6 826.5,411.1 834.2,403.0 841.9,408.8 849.6,405.0 857.3,401.5 865.0,404.8 872.7,458.5 880.4,390.3 888.1,392.0 895.8,395.8 903.5,525.0 911.2,389.9 918.9,376.5 926.6,376.0 934.4,387.1 942.1,363.6 949.8,366.7 957.5,359.5 965.2,361.1 972.9,361.7 980.6,365.1 988.3,409.2 996.0,438.4 1003.7,432.6 1011.4,445.1 1019.1,409.7 1026.8,412.2 1034.5,410.5 1042.2,410.5"/>
<polyline points="117.8,789.5 125.5,600.0 133.2,515.0 140.9,469.4 148.6,456.3 156.3,441.0 164.0,430.2 171.7,447.7 179.4,400.3 187.1,390.4 194.8,382.6 202.5,377.8 210.2,380.2 217.9,447.5 225.6,388.4 233.4,375.7 241.1,374.3 248.8,373.1 256.5,439.3 264.2,413.9 271.9,390.4 279.6,369.6 287.3,404.0 295.0,403.1 302.7,374.1 310.4,369.1 318.1,368.5 325.8,367.1 333.5,359.3 341.2,517.0 348.9,452.8 356.6,421.6 364.3,389.9 372.0,533.9 379.7,438.7 387.4,438.8 395.1,464.6 402.8,429.7 410.5,384.4 418.2,406.0 425.9,404.0 433.6,372.4 441.3,385.5 449.0,342.0 456.7,336.2 464.5,430.5 472.2,396.1 479.9,335.2 487.6,319.9 495.3,393.0 503.0,299.1 510.7,324.7 518.4,294.3 526.1,297.1 533.8,294.4 541.5,290.7 549.2,291.0 556.9,288.6 564.6,290.9 572.3,291.4 580.0,289.7 587.7,289.7 595.4,290.5 603.1,290.0 610.8,288.9 618.5,289.7 626.2,292.7 633.9,302.2 641.6,334.7 649.3,293.1 657.0,291.6 664.7,292.5 672.4,290.5 680.1,294.0 687.8,292.2 695.5,300.5 703.3,295.7 711.0,335.2 718.7,340.5 726.4,339.9 734.1,342.4 741.8,367.3 749.5,341.5 757.2,344.7 764.9,341.0 772.6,389.5 780.3,343.9 788.0,341.2 795.7,373.2 803.4,351.2 811.1,351.5 818.8,349.7 826.5,351.4 834.2,343.0 841.9,344.2 849.6,342.1 857.3,371.0 865.0,351.2 872.7,399.7 880.4,333.0 888.1,352.3 895.8,330.0 903.5,329.5 911.2,365.7 918.9,332.3 926.6,317.7 934.4,311.5 942.1,353.1 949.8,301.6 957.5,305.2 965.2,301.3 972.9,303.9 980.6,304.9 988.3,350.7 996.0,409.2 1003.7,358.7 1011.4,406.7 1019.1,381.2 1026.8,351.6 1034.5,350.5 1042.2,353.3"/>
<polyline points="117.8,789.5 125.5,621.7 133.2,598.5 140.9,530.2 148.6,515.7 156.3,500.7 164.0,522.4 171.7,472.4 179.4,455.3 187.1,448.1 194.8,441.7 202.5,449.4 210.2,438.7 217.9,489.5 225.6,434.4 233.4,436.9 241.1,435.2 248.8,435.4 256.5,515.8 264.2,468.6 271.9,464.8 279.6,448.7 287.3,466.7 295.0,444.3 302.7,434.4 310.4,430.0 318.1,426.2 325.8,467.5 333.5,418.5 341.2,561.3 348.9,512.0 356.6,484.8 364.3,471.1 372.0,554.5 379.7,547.1 387.4,462.9 395.1,513.1 402.8,483.4 410.5,491.3 418.2,462.8 425.9,465.2 433.6,431.1 441.3,432.3 449.0,403.3 456.7,398.3 464.5,509.2 472.2,431.5 479.9,394.2 487.6,375.1 495.3,405.1 503.0,360.3 510.7,357.7 518.4,379.4 526.1,366.0 533.8,354.8 541.5,352.4 549.2,349.9 556.9,358.6 564.6,354.8 572.3,352.3 580.0,350.5 587.7,358.2 595.4,358.0 603.1,352.2 610.8,362.7 618.5,349.3 626.2,352.1 633.9,349.2 641.6,352.5 649.3,353.5 657.0,353.0 664.7,352.8 672.4,350.5 680.1,353.6 687.8,390.6 695.5,358.1 703.3,399.4 711.0,397.8 718.7,396.7 726.4,397.3 734.1,437.2 741.8,424.5 749.5,402.1 757.2,470.7 764.9,414.4 772.6,413.4 780.3,401.0 788.0,401.0 795.7,432.0 803.4,407.1 811.1,407.1 818.8,446.8 826.5,410.5 834.2,402.9 841.9,432.2 849.6,405.9 857.3,465.7 865.0,401.3 872.7,458.6 880.4,391.3 888.1,391.9 895.8,390.5 903.5,387.8 911.2,402.1 918.9,387.4 926.6,376.4 934.4,374.7 942.1,363.5 949.8,369.9 957.5,359.0 965.2,362.5 972.9,362.7 980.6,366.1 988.3,416.8 996.0,422.7 1003.7,421.9 1011.4,427.8 1019.1,411.8 1026.8,412.9 1034.5,411.9 1042.2,416.4"/>
<polyline points="117.8,789.5 125.5,600.0 133.2,538.3 140.9,509.6 148.6,516.8 156.3,479.1 164.0,460.8 171.7,514.0 179.4,435.7 187.1,422.9 194.8,434.2 202.5,415.8 210.2,414.5 217.9,445.6 225.6,446.8 233.4,419.5 241.1,412.6 248.8,411.3 256.5,475.1 264.2,445.0 271.9,426.7 279.6,423.0 287.3,443.2 295.0,420.4 302.7,422.5 310.4,416.6 318.1,403.7 325.8,397.9 333.5,505.0 341.2,530.5 348.9,485.9 356.6,450.8 364.3,429.4 372.0,536.6 379.7,474.8 387.4,430.2 395.1,506.3 402.8,445.5 410.5,420.3 418.2,409.2 425.9,439.7 433.6,407.5 441.3,390.2 449.0,380.7 456.7,406.8 464.5,451.3 472.2,469.8 479.9,373.8 487.6,352.3 495.3,342.4 503.0,339.6 510.7,388.5 518.4,334.0 526.1,333.3 533.8,343.6 541.5,330.6 549.2,329.8 556.9,328.2 564.6,327.3 572.3,326.8 580.0,328.0 587.7,328.4 595.4,329.3 603.1,376.3 610.8,329.0 618.5,369.2 626.2,327.2 633.9,332.5 641.6,351.7 649.3,330.7 657.0,330.7 664.7,330.5 672.4,334.4 680.1,340.0 687.8,331.6 695.5,329.1 703.3,331.6 711.0,373.7 718.7,372.2 726.4,375.3 734.1,376.6 741.8,415.1 749.5,380.0 757.2,415.7 764.9,380.2 772.6,381.9 780.3,392.7 788.0,380.3 795.7,405.6 803.4,387.2 811.1,387.5 818.8,385.4 826.5,391.4 834.2,382.5 841.9,380.7 849.6,380.7 857.3,381.9 865.0,379.9 872.7,435.3 880.4,369.6 888.1,364.8 895.8,376.8 903.5,363.0 911.2,361.9 918.9,352.2 926.6,351.4 934.4,347.9 942.1,336.9 949.8,339.7 957.5,343.9 965.2,355.3 972.9,338.7 980.6,342.1 988.3,404.4 996.0,401.5 1003.7,394.8 1011.4,398.4 1019.1,386.5 1026.8,385.4 1034.5,396.3 1042.2,407.5"/>
<polyline points="117.8,789.5 125.5,600.0 133.2,533.3 140.9,489.4 148.6,472.3 156.3,461.6 164.0,467.6 171.7,435.4 179.4,420.1 187.1,409.9 194.8,400.8 202.5,399.7 210.2,413.9 217.9,396.7 225.6,398.1 233.4,393.2 241.1,397.3 248.8,395.6 256.5,458.4 264.2,429.3 271.9,407.4 279.6,403.9 287.3,540.0 295.0,404.6 302.7,395.3 310.4,387.2 318.1,385.7 325.8,378.2 333.5,377.1 341.2,507.8 348.9,471.8 356.6,469.0 364.3,420.7 372.0,525.4 379.7,457.2 387.4,432.1 395.1,465.0 402.8,429.1 410.5,402.1 418.2,388.2 425.9,424.6 433.6,389.5 441.3,398.3 449.0,361.1 456.7,401.8 464.5,439.5 472.2,397.1 479.9,352.9 487.6,334.0 495.3,323.3 503.0,319.9 510.7,316.5 518.4,318.9 526.1,312.7 533.8,324.7 541.5,308.9 549.2,340.0 556.9,310.4 564.6,351.7 572.3,412.5 580.0,321.9 587.7,308.5 595.4,321.9 603.1,311.3 610.8,310.3 618.5,322.7 626.2,310.2 633.9,312.1 641.6,404.5 649.3,327.5 657.0,316.1 664.7,311.3 672.4,309.3 680.1,312.3 687.8,312.9 695.5,309.8 703.3,313.4 711.0,399.8 718.7,365.9 726.4,368.2 734.1,361.9 741.8,383.2 749.5,360.8 757.2,372.4 764.9,360.6 772.6,367.4 780.3,359.4 788.0,363.8 795.7,388.8 803.4,377.4 811.1,366.1 818.8,412.8 826.5,369.9 834.2,363.3 841.9,363.6 849.6,361.0 857.3,385.7 865.0,363.0 872.7,421.4 880.4,377.1 888.1,350.4 895.8,361.2 903.5,347.6 911.2,345.6 918.9,437.8 926.6,342.6 934.4,340.2 942.1,321.2 949.8,319.8 957.5,321.2 965.2,319.4 972.9,331.2 980.6,323.0 988.3,376.2 996.0,401.2 1003.7,378.2 1011.4,417.6 1019.1,368.0 1026.8,371.1 1034.5,409.6 1042.2,372.9"/>
<polyline points="117.8,789.5 125.5,607.8 133.2,538.5 140.9,506.0 148.6,506.2 156.3,479.3 164.0,470.6 171.7,451.5 179.4,434.0 187.1,428.0 194.8,422.6 202.5,433.3 210.2,413.5 217.9,440.5 225.6,412.8 233.4,415.8 241.1,438.7 248.8,429.1 256.5,478.5 264.2,464.0 271.9,443.7 279.6,416.0 287.3,444.4 295.0,422.7 302.7,415.5 310.4,430.8 318.1,404.6 325.8,400.7 333.5,393.5 341.2,529.9 348.9,489.6 356.6,471.0 364.3,426.3 372.0,551.5 379.7,479.2 387.4,431.7 395.1,487.7 402.8,455.4 410.5,471.4 418.2,425.3 425.9,445.3 433.6,408.2 441.3,400.6 449.0,382.4 456.7,418.0 464.5,451.4 472.2,398.7 479.9,373.2 487.6,353.6 495.3,361.6 503.0,345.1 510.7,336.9 518.4,394.3 526.1,331.9 533.8,359.0 541.5,337.3 549.2,334.4 556.9,360.0 564.6,327.9 572.3,330.3 580.0,327.1 587.7,329.9 595.4,329.5 603.1,344.8 610.8,327.7 618.5,326.5 626.2,327.8 633.9,328.1 641.6,330.9 649.3,327.6 657.0,330.9 664.7,416.5 672.4,330.5 680.1,329.7 687.8,332.2 695.5,333.7 703.3,329.7 711.0,375.8 718.7,373.2 726.4,375.8 734.1,377.8 741.8,419.6 749.5,382.3 757.2,382.3 764.9,379.4 772.6,414.4 780.3,382.0 788.0,410.0 795.7,415.5 803.4,386.7 811.1,481.7 818.8,385.0 826.5,387.0 834.2,409.2 841.9,382.9 849.6,399.7 857.3,412.9 865.0,383.8 872.7,437.7 880.4,375.5 888.1,366.2 895.8,364.3 903.5,364.6 911.2,361.6 918.9,357.8 926.6,388.6 934.4,351.6 942.1,377.3 949.8,360.2 957.5,341.3 965.2,341.6 972.9,341.5 980.6,341.6 988.3,402.8 996.0,407.8 1003.7,398.4 1011.4,415.1 1019.1,389.4 1026.8,397.2 1034.5,386.7 1042.2,402.7"/>
<polyline points="117.8,789.5 125.5,635.8 133.2,632.0 140.9,518.7 148.6,502.7 156.3,484.4 164.0,471.9 171.7,455.4 179.4,444.4 187.1,433.7 194.8,430.7 202.5,427.4 210.2,432.8 217.9,422.7 225.6,422.3 233.4,434.2 241.1,420.5 248.8,420.2 256.5,493.5 264.2,455.5 271.9,463.6 279.6,484.7 287.3,466.3 295.0,441.2 302.7,420.2 310.4,417.0 318.1,419.8 325.8,408.0 333.5,403.6 341.2,535.4 348.9,499.3 356.6,459.3 364.3,451.8 372.0,541.1 379.7,485.5 387.4,440.4 395.1,493.3 402.8,462.9 410.5,431.7 418.2,421.9 425.9,450.5 433.6,422.0 441.3,417.2 449.0,387.7 456.7,388.3 464.5,477.5 472.2,404.3 479.9,383.4 487.6,474.1 495.3,370.2 503.0,349.4 510.7,345.1 518.4,341.7 526.1,342.5 533.8,335.8 541.5,345.3 549.2,334.6 556.9,337.1 564.6,335.5 572.3,340.0 580.0,334.9 587.7,338.7 595.4,336.9 603.1,335.4 610.8,334.0 618.5,361.4 626.2,337.9 633.9,336.5 641.6,344.6 649.3,339.5 657.0,339.6 664.7,342.8 672.4,407.1 680.1,339.8 687.8,336.2 695.5,338.5 703.3,339.5 711.0,380.7 718.7,385.5 726.4,392.4 734.1,385.0 741.8,412.7 749.5,389.8 757.2,409.0 764.9,387.0 772.6,386.5 780.3,424.0 788.0,386.1 795.7,437.5 803.4,395.6 811.1,433.5 818.8,393.1 826.5,394.9 834.2,391.1 841.9,408.7 849.6,415.8 857.3,405.2 865.0,423.4 872.7,448.4 880.4,375.8 888.1,376.5 895.8,373.5 903.5,372.0 911.2,423.6 918.9,361.4 926.6,359.0 934.4,359.4 942.1,345.4 949.8,370.2 957.5,344.9 965.2,345.1 972.9,369.1 980.6,351.0 988.3,435.1 996.0,431.2 1003.7,414.0 1011.4,445.6 1019.1,396.1 1026.8,394.9 1034.5,394.8 1042.2,396.8"/>
<polyline points="117.8,789.5 125.5,613.7 133.2,547.0 140.9,520.5 148.6,513.9 156.3,490.6 164.0,492.2 171.7,461.8 179.4,444.1 187.1,443.3 194.8,431.2 202.5,457.8 210.2,425.7 217.9,440.4 225.6,438.6 233.4,432.3 241.1,436.0 248.8,422.3 256.5,531.7 264.2,459.6 271.9,440.8 279.6,418.3 287.3,453.0 295.0,432.7 302.7,450.8 310.4,417.5 318.1,412.0 325.8,409.8 333.5,408.1 341.2,539.9 348.9,516.5 356.6,478.1 364.3,469.1 372.0,544.4 379.7,489.3 387.4,540.0 395.1,492.8 402.8,506.5 410.5,433.5 418.2,416.8 425.9,516.7 433.6,424.2 441.3,402.8 449.0,394.4 456.7,386.6 464.5,462.3 472.2,438.5 479.9,385.1 487.6,364.2 495.3,365.2 503.0,349.3 510.7,345.5 518.4,364.6 526.1,340.6 533.8,339.7 541.5,365.9 549.2,358.7 556.9,337.6 564.6,340.6 572.3,339.0 580.0,340.5 587.7,338.2 595.4,344.9 603.1,339.0 610.8,342.8 618.5,338.1 626.2,342.8 633.9,416.2 641.6,354.3 649.3,337.8 657.0,396.5 664.7,341.7 672.4,339.2 680.1,340.8 687.8,339.4 695.5,346.3 703.3,389.3 711.0,390.8 718.7,394.0 726.4,388.9 734.1,417.0 741.8,416.4 749.5,389.0 757.2,406.4 764.9,390.9 772.6,389.9 780.3,392.5 788.0,389.2 795.7,417.1 803.4,398.9 811.1,448.1 818.8,414.2 826.5,395.7 834.2,409.7 841.9,391.3 849.6,390.8 857.3,395.3 865.0,393.1 872.7,478.4 880.4,398.2 888.1,380.2 895.8,375.7 903.5,411.2 911.2,375.4 918.9,366.4 926.6,364.7 934.4,372.5 942.1,356.4 949.8,350.0 957.5,358.4 965.2,365.3 972.9,348.4 980.6,352.8 988.3,400.0 996.0,448.4 1003.7,413.8 1011.4,411.5 1019.1,400.6 1026.8,408.5 1034.5,404.5 1042.2,400.2"/>
<polyline points="117.8,789.5 125.5,600.0 133.2,515.0 140.9,499.8 148.6,466.6 156.3,454.0 164.0,441.2 171.7,424.2 179.4,412.4 187.1,406.2 194.8,395.8 202.5,393.9 210.2,393.1 217.9,441.5 225.6,393.1 233.4,391.6 241.1,388.1 248.8,391.8 256.5,457.0 264.2,425.9 271.9,403.4 279.6,400.5 287.3,435.0 295.0,416.1 302.7,389.8 310.4,384.8 318.1,404.9 325.8,388.3 333.5,371.8 341.2,503.0 348.9,464.4 356.6,432.2 364.3,436.0 372.0,507.0 379.7,452.6 387.4,407.6 395.1,528.3 402.8,446.4 410.5,398.8 418.2,385.3 425.9,419.5 433.6,385.6 441.3,366.3 449.0,374.5 456.7,350.6 464.5,426.9 472.2,373.6 479.9,354.8 487.6,347.9 495.3,319.0 503.0,312.2 510.7,338.5 518.4,307.4 526.1,319.5 533.8,307.4 541.5,308.9 549.2,304.7 556.9,329.1 564.6,347.1 572.3,305.7 580.0,304.7 587.7,307.3 595.4,305.3 603.1,324.1 610.8,346.8 618.5,304.8 626.2,304.2 633.9,317.4 641.6,320.2 649.3,303.2 657.0,303.6 664.7,304.6 672.4,304.0 680.1,311.8 687.8,307.2 695.5,307.2 703.3,315.4 711.0,350.5 718.7,360.5 726.4,355.2 734.1,390.6 741.8,376.6 749.5,358.3 757.2,354.7 764.9,354.3 772.6,440.0 780.3,355.6 788.0,356.8 795.7,417.7 803.4,377.7 811.1,397.9 818.8,365.8 826.5,361.8 834.2,358.9 841.9,359.3 849.6,394.9 857.3,358.5 865.0,454.0 872.7,414.2 880.4,362.5 888.1,342.5 895.8,385.0 903.5,339.1 911.2,357.2 918.9,333.8 926.6,341.1 934.4,380.1 942.1,316.1 949.8,320.2 957.5,316.1 965.2,314.4 972.9,313.2 980.6,318.8 988.3,383.3 996.0,376.2 1003.7,386.0 1011.4,388.9 1019.1,362.5 1026.8,361.4 1034.5,362.7 1042.2,364.2"/>
<polyline points="117.8,789.5 125.5,602.8 133.2,542.3 140.9,512.4 148.6,496.7 156.3,499.5 164.0,469.4 171.7,454.9 179.4,436.3 187.1,427.3 194.8,423.0 202.5,418.9 210.2,415.8 217.9,471.6 225.6,417.4 233.4,415.0 241.1,414.9 248.8,412.5 256.5,490.8 264.2,448.7 271.9,443.0 279.6,477.8 287.3,458.0 295.0,425.0 302.7,420.8 310.4,432.4 318.1,416.1 325.8,400.0 333.5,398.8 341.2,533.9 348.9,529.6 356.6,456.4 364.3,433.1 372.0,535.6 379.7,482.2 387.4,443.0 395.1,503.0 402.8,451.2 410.5,437.6 418.2,432.9 425.9,447.8 433.6,408.4 441.3,394.5 449.0,388.7 456.7,378.9 464.5,454.4 472.2,398.6 479.9,373.5 487.6,357.0 495.3,391.7 503.0,339.8 510.7,336.9 518.4,392.6 526.1,331.7 533.8,330.5 541.5,338.2 549.2,332.7 556.9,378.8 564.6,330.3 572.3,329.5 580.0,330.0 587.7,352.2 595.4,331.6 603.1,330.6 610.8,329.4 618.5,334.5 626.2,370.3 633.9,344.9 641.6,355.9 649.3,346.4 657.0,441.6 664.7,348.2 672.4,332.3 680.1,339.8 687.8,335.9 695.5,332.1 703.3,332.0 711.0,379.3 718.7,431.1 726.4,377.8 734.1,380.4 741.8,410.2 749.5,383.8 757.2,393.6 764.9,381.3 772.6,381.8 780.3,396.3 788.0,380.8 795.7,412.5 803.4,389.9 811.1,398.4 818.8,447.3 826.5,391.8 834.2,409.6 841.9,468.4 849.6,384.6 857.3,459.8 865.0,395.6 872.7,439.3 880.4,413.0 888.1,367.6 895.8,369.1 903.5,409.9 911.2,371.9 918.9,358.8 926.6,368.4 934.4,395.7 942.1,344.2 949.8,344.3 957.5,362.6 965.2,342.9 972.9,343.5 980.6,344.7 988.3,397.2 996.0,405.4 1003.7,402.6 1011.4,414.0 1019.1,390.9 1026.8,389.1 1034.5,389.5 1042.2,390.0"/>
<polyline points="117.8,789.5 125.5,600.0 133.2,522.6 140.9,497.1 148.6,520.4 156.3,461.2 164.0,493.6 171.7,430.1 179.4,491.3 187.1,406.4 194.8,404.3 202.5,399.0 210.2,396.4 217.9,399.3 225.6,398.0 233.4,397.7 241.1,396.2 248.8,395.3 256.5,459.9 264.2,444.7 271.9,411.8 279.6,391.5 287.3,427.9 295.0,405.5 302.7,398.7 310.4,391.3 318.1,384.5 325.8,388.0 333.5,419.5 341.2,513.2 348.9,472.2 356.6,434.1 364.3,430.8 372.0,513.3 379.7,460.3 387.4,415.3 395.1,467.1 402.8,438.9 410.5,405.2 418.2,403.8 425.9,434.0 433.6,390.8 441.3,373.4 449.0,364.7 456.7,359.4 464.5,454.5 472.2,376.6 479.9,353.6 487.6,337.1 495.3,380.5 503.0,322.2 510.7,315.8 518.4,317.6 526.1,403.6 533.8,348.9 541.5,313.4 549.2,309.5 556.9,330.2 564.6,322.3 572.3,312.9 580.0,312.8 587.7,339.1 595.4,311.0 603.1,313.1 610.8,310.6 618.5,310.9 626.2,329.5 633.9,378.8 641.6,309.2 649.3,320.1 657.0,310.7 664.7,312.5 672.4,311.8 680.1,315.2 687.8,325.6 695.5,335.7 703.3,312.1 711.0,357.1 718.7,364.8 726.4,387.7 734.1,360.2 741.8,403.1 749.5,366.1 757.2,363.7 764.9,360.9 772.6,386.8 780.3,403.6 788.0,364.3 795.7,392.6 803.4,367.7 811.1,371.1 818.8,371.4 826.5,368.9 834.2,382.0 841.9,364.7 849.6,368.1 857.3,391.4 865.0,382.4 872.7,478.9 880.4,353.5 888.1,348.4 895.8,348.1 903.5,361.6 911.2,348.7 918.9,380.9 926.6,348.9 934.4,344.0 942.1,323.3 949.8,323.2 957.5,323.2 965.2,338.3 972.9,339.5 980.6,329.0 988.3,372.6 996.0,419.3 1003.7,382.9 1011.4,384.1 1019.1,371.1 1026.8,370.8 1034.5,369.0 1042.2,373.2"/>
<polyline points="117.8,789.5 125.5,626.9 133.2,527.3 140.9,507.0 148.6,480.0 156.3,465.9 164.0,453.1 171.7,436.0 179.4,421.3 187.1,414.8 194.8,407.6 202.5,401.7 210.2,429.8 217.9,401.4 225.6,405.2 233.4,403.2 241.1,399.0 248.8,405.2 256.5,466.4 264.2,438.3 271.9,418.0 279.6,396.2 287.3,430.8 295.0,418.2 302.7,399.4 310.4,396.5 318.1,396.0 325.8,386.0 333.5,385.5 341.2,520.8 348.9,475.3 356.6,464.2 364.3,415.8 372.0,523.7 379.7,466.9 387.4,420.5 395.1,473.6 402.8,436.3 410.5,439.1 418.2,393.7 425.9,440.0 433.6,397.5 441.3,380.6 449.0,393.2 456.7,363.5 464.5,440.5 472.2,381.5 479.9,361.9 487.6,360.9 495.3,329.7 503.0,323.6 510.7,324.9 518.4,325.9 526.1,338.1 533.8,317.3 541.5,317.4 549.2,378.8 556.9,313.6 564.6,313.7 572.3,315.5 580.0,336.6 587.7,316.3 595.4,378.0 603.1,314.7 610.8,328.9 618.5,317.4 626.2,316.1 633.9,328.2 641.6,317.4 649.3,321.5 657.0,333.7 664.7,336.5 672.4,316.1 680.1,328.7 687.8,348.8 695.5,340.4 703.3,320.0 711.0,359.8 718.7,380.6 726.4,372.0 734.1,436.7 741.8,477.5 749.5,368.7 757.2,374.9 764.9,366.8 772.6,378.2 780.3,369.4 788.0,367.3 795.7,397.5 803.4,377.0 811.1,377.0 818.8,373.1 826.5,422.8 834.2,367.8 841.9,380.4 849.6,383.7 857.3,368.7 865.0,367.5 872.7,425.5 880.4,354.3 888.1,353.2 895.8,351.5 903.5,363.4 911.2,352.4 918.9,352.3 926.6,390.8 934.4,352.1 942.1,389.7 949.8,328.4 957.5,429.3 965.2,325.1 972.9,344.3 980.6,330.6 988.3,373.8 996.0,388.5 1003.7,385.9 1011.4,388.1 1019.1,373.7 1026.8,374.0 1034.5,428.2 1042.2,378.3"/>
<polyline points="117.8,789.5 125.5,640.0 133.2,515.0 140.9,475.5 148.6,461.2 156.3,441.6 164.0,431.9 171.7,415.5 179.4,408.3 187.1,414.3 194.8,383.2 202.5,379.5 210.2,382.6 217.9,378.0 225.6,379.6 233.4,377.3 241.1,409.2 248.8,379.9 256.5,443.3 264.2,413.8 271.9,393.5 279.6,376.1 287.3,409.5 295.0,479.4 302.7,378.4 310.4,374.5 318.1,388.0 325.8,362.0 333.5,360.9 341.2,516.1 348.9,455.0 356.6,418.1 364.3,394.6 372.0,499.2 379.7,443.5 387.4,400.6 395.1,449.2 402.8,413.4 410.5,413.2 418.2,373.1 425.9,415.7 433.6,423.1 441.3,410.7 449.0,345.9 456.7,344.7 464.5,416.0 472.2,371.4 479.9,431.3 487.6,326.3 495.3,309.5 503.0,307.0 510.7,302.0 518.4,338.1 526.1,298.9 533.8,296.1 541.5,365.1 549.2,294.3 556.9,295.4 564.6,331.3 572.3,330.0 580.0,305.5 587.7,292.7 595.4,292.6 603.1,312.9 610.8,292.6 618.5,308.8 626.2,305.5 633.9,295.2 641.6,292.4 649.3,306.4 657.0,296.8 664.7,293.9 672.4,294.3 680.1,302.0 687.8,300.9 695.5,300.0 703.3,295.9 711.0,338.0 718.7,339.9 726.4,380.1 734.1,342.2 741.8,368.6 749.5,346.9 757.2,364.2 764.9,345.3 772.6,349.7 780.3,346.4 788.0,343.0 795.7,384.6 803.4,351.0 811.1,356.7 818.8,357.4 826.5,353.9 834.2,347.5 841.9,349.0 849.6,355.3 857.3,348.1 865.0,402.1 872.7,405.4 880.4,362.2 888.1,330.3 895.8,330.2 903.5,337.1 911.2,330.0 918.9,321.2 926.6,318.6 934.4,354.9 942.1,311.7 949.8,309.1 957.5,305.1 965.2,333.5 972.9,306.4 980.6,308.5 988.3,353.7 996.0,368.4 1003.7,361.2 1011.4,366.2 1019.1,354.0 1026.8,378.3 1034.5,398.5 1042.2,357.3"/>
<polyline points="117.8,789.5 125.5,623.7 133.2,543.0 140.9,512.3 148.6,533.6 156.3,484.6 164.0,469.1 171.7,454.2 179.4,439.3 187.1,439.9 194.8,471.4 202.5,422.2 210.2,424.2 217.9,420.8 225.6,420.6 233.4,420.0 241.1,424.7 248.8,415.8 256.5,501.2 264.2,452.3 271.9,434.0 279.6,442.3 287.3,450.5 295.0,426.2 302.7,415.4 310.4,412.9 318.1,419.3 325.8,400.7 333.5,413.4 341.2,533.4 348.9,493.7 356.6,465.2 364.3,444.7 372.0,549.6 379.7,484.7 387.4,437.2 395.1,486.6 402.8,454.1 410.5,426.8 418.2,412.7 425.9,447.1 433.6,413.7 441.3,396.0 449.0,385.9 456.7,377.3 464.5,458.8 472.2,407.3 479.9,378.8 487.6,359.1 495.3,354.0 503.0,340.6 510.7,347.2 518.4,335.6 526.1,337.4 533.8,347.4 541.5,333.0 549.2,335.0 556.9,339.9 564.6,355.0 572.3,335.2 580.0,338.5 587.7,331.2 595.4,348.6 603.1,333.0 610.8,331.7 618.5,333.7 626.2,332.9 633.9,358.6 641.6,361.7 649.3,335.7 657.0,335.7 664.7,351.5 672.4,337.3 680.1,346.9 687.8,333.3 695.5,334.7 703.3,337.6 711.0,380.1 718.7,411.1 726.4,382.9 734.1,402.7 741.8,410.2 749.5,387.4 757.2,398.5 764.9,384.0 772.6,386.9 780.3,410.7 788.0,422.7 795.7,423.7 803.4,390.4 811.1,488.5 818.8,389.6 826.5,392.1 834.2,388.2 841.9,385.5 849.6,388.1 857.3,396.1 865.0,388.1 872.7,443.6 880.4,372.3 888.1,400.6 895.8,367.9 903.5,405.1 911.2,374.9 918.9,360.2 926.6,355.7 934.4,377.0 942.1,345.5 949.8,387.0 957.5,344.5 965.2,355.8 972.9,347.2 980.6,356.8 988.3,392.4 996.0,413.9 1003.7,417.9 1011.4,404.9 1019.1,428.7 1026.8,392.5 1034.5,390.8 1042.2,395.5"/>
<polyline points="117.8,789.5 125.5,602.9 133.2,543.5 140.9,509.9 148.6,497.0 156.3,483.9 164.0,465.7 171.7,448.8 179.4,478.7 187.1,427.7 194.8,429.8 202.5,434.4 210.2,417.3 217.9,417.5 225.6,419.9 233.4,413.3 241.1,412.7 248.8,440.9 256.5,479.6 264.2,449.3 271.9,451.4 279.6,413.0 287.3,447.0 295.0,435.9 302.7,471.0 310.4,409.5 318.1,404.6 325.8,402.5 333.5,399.1 341.2,531.5 348.9,491.7 356.6,460.0 364.3,432.1 372.0,538.6 379.7,477.9 387.4,437.1 395.1,484.2 402.8,451.2 410.5,426.5 418.2,412.4 425.9,446.8 433.6,437.3 441.3,391.2 449.0,406.1 456.7,378.6 464.5,457.5 472.2,399.2 479.9,373.0 487.6,361.5 495.3,371.5 503.0,338.2 510.7,337.0 518.4,335.1 526.1,351.3 533.8,333.1 541.5,330.1 549.2,331.2 556.9,329.6 564.6,343.6 572.3,381.2 580.0,331.2 587.7,328.6 595.4,331.7 603.1,328.7 610.8,331.8 618.5,331.9 626.2,336.8 633.9,345.8 641.6,331.1 649.3,333.2 657.0,332.1 664.7,333.1 672.4,334.4 680.1,340.9 687.8,333.6 695.5,345.3 703.3,332.5 711.0,379.3 718.7,382.1 726.4,376.6 734.1,381.2 741.8,434.9 749.5,405.8 757.2,410.4 764.9,397.0 772.6,382.6 780.3,382.7 788.0,382.1 795.7,411.7 803.4,446.8 811.1,390.5 818.8,390.8 826.5,429.2 834.2,381.8 841.9,390.6 849.6,381.0 857.3,386.0 865.0,383.7 872.7,440.2 880.4,382.0 888.1,369.4 895.8,395.9 903.5,376.5 911.2,365.5 918.9,386.4 926.6,411.9 934.4,351.7 942.1,382.1 949.8,351.4 957.5,342.7 965.2,342.4 972.9,342.1 980.6,347.3 988.3,403.1 996.0,424.0 1003.7,398.6 1011.4,420.2 1019.1,391.2 1026.8,392.5 1034.5,388.9 1042.2,390.0"/>
<polyline points="117.8,789.5 125.5,600.0 133.2,537.3 140.9,509.6 148.6,487.3 156.3,467.8 164.0,463.6 171.7,439.3 179.4,427.1 187.1,418.9 194.8,418.3 202.5,410.5 210.2,408.0 217.9,407.7 225.6,408.5 233.4,408.1 241.1,457.5 248.8,402.5 256.5,469.1 264.2,470.9 271.9,428.1 279.6,411.1 287.3,455.9 295.0,416.6 302.7,486.1 310.4,399.5 318.1,395.0 325.8,392.4 333.5,393.6 341.2,522.1 348.9,491.2 356.6,456.0 364.3,422.3 372.0,525.2 379.7,472.0 387.4,499.6 395.1,475.6 402.8,440.2 410.5,415.0 418.2,398.4 425.9,460.5 433.6,402.4 441.3,407.2 449.0,392.0 456.7,379.1 464.5,447.5 472.2,412.5 479.9,365.3 487.6,404.1 495.3,332.7 503.0,328.2 510.7,326.8 518.4,323.8 526.1,325.6 533.8,370.1 541.5,320.5 549.2,317.8 556.9,356.8 564.6,344.7 572.3,325.8 580.0,332.1 587.7,322.5 595.4,387.9 603.1,321.5 610.8,322.7 618.5,320.2 626.2,321.0 633.9,322.9 641.6,327.7 649.3,389.2 657.0,323.5 664.7,361.5 672.4,322.7 680.1,333.0 687.8,328.1 695.5,321.7 703.3,369.9 711.0,377.3 718.7,376.9 726.4,369.6 734.1,383.1 741.8,394.3 749.5,400.2 757.2,371.2 764.9,373.8 772.6,377.0 780.3,372.2 788.0,370.8 795.7,404.3 803.4,380.9 811.1,382.4 818.8,453.6 826.5,388.2 834.2,380.4 841.9,374.6 849.6,382.9 857.3,410.8 865.0,373.5 872.7,430.4 880.4,360.0 888.1,357.8 895.8,359.9 903.5,357.0 911.2,355.8 918.9,347.1 926.6,347.7 934.4,344.2 942.1,331.9 949.8,328.9 957.5,332.9 965.2,404.1 972.9,348.6 980.6,337.3 988.3,380.9 996.0,391.1 1003.7,393.9 1011.4,395.0 1019.1,408.7 1026.8,382.4 1034.5,414.7 1042.2,380.8"/>
<polyline points="117.8,789.5 125.5,600.0 133.2,609.8 140.9,501.4 148.6,532.5 156.3,469.6 164.0,456.4 171.7,456.4 179.4,429.3 187.1,435.7 194.8,421.1 202.5,422.0 210.2,431.7 217.9,432.4 225.6,409.3 233.4,404.6 241.1,406.8 248.8,405.0 256.5,469.6 264.2,466.1 271.9,421.6 279.6,402.3 287.3,435.6 295.0,414.4 302.7,408.7 310.4,429.0 318.1,395.1 325.8,392.0 333.5,414.6 341.2,521.4 348.9,490.3 356.6,520.6 364.3,422.1 372.0,526.4 379.7,485.3 387.4,426.4 395.1,490.5 402.8,440.4 410.5,418.2 418.2,400.1 425.9,435.3 433.6,401.2 441.3,390.1 449.0,458.4 456.7,502.8 464.5,454.7 472.2,388.8 479.9,368.1 487.6,410.7 495.3,337.0 503.0,425.2 510.7,327.5 518.4,342.7 526.1,322.0 533.8,344.4 541.5,324.6 549.2,322.7 556.9,322.3 564.6,322.8 572.3,321.9 580.0,325.1 587.7,323.0 595.4,320.2 603.1,335.7 610.8,319.1 618.5,347.5 626.2,321.7 633.9,321.5 641.6,334.8 649.3,324.4 657.0,322.6 664.7,437.3 672.4,321.3 680.1,321.1 687.8,329.6 695.5,325.2 703.3,334.1 711.0,365.1 718.7,377.8 726.4,369.5 734.1,368.9 741.8,395.5 749.5,372.2 757.2,372.3 764.9,372.1 772.6,372.8 780.3,372.2 788.0,373.5 795.7,403.2 803.4,381.1 811.1,378.6 818.8,379.4 826.5,381.7 834.2,372.4 841.9,397.9 849.6,388.2 857.3,375.0 865.0,413.1 872.7,430.6 880.4,359.2 888.1,368.3 895.8,362.1 903.5,355.6 911.2,356.3 918.9,350.5 926.6,348.4 934.4,483.4 942.1,334.1 949.8,332.8 957.5,343.0 965.2,396.5 972.9,332.6 980.6,335.2 988.3,380.1 996.0,392.8 1003.7,392.7 1011.4,394.2 1019.1,385.7 1026.8,380.2 1034.5,379.9 1042.2,425.7"/>
<polyline points="117.8,789.5 125.5,609.8 133.2,532.8 140.9,501.0 148.6,493.3 156.3,471.7 164.0,472.9 171.7,444.0 179.4,443.1 187.1,425.6 194.8,416.0 202.5,413.7 210.2,515.0 217.9,410.0 225.6,407.2 233.4,416.0 241.1,406.1 248.8,404.8 256.5,471.6 264.2,443.8 271.9,441.6 279.6,402.7 287.3,439.9 295.0,452.1 302.7,410.6 310.4,402.4 318.1,399.1 325.8,394.8 333.5,389.7 341.2,524.0 348.9,485.6 356.6,514.5 364.3,421.2 372.0,546.5 379.7,486.8 387.4,428.5 395.1,478.3 402.8,459.5 410.5,416.3 418.2,405.4 425.9,439.9 433.6,401.2 441.3,388.1 449.0,374.7 456.7,371.8 464.5,455.8 472.2,390.3 479.9,396.2 487.6,353.2 495.3,338.2 503.0,332.6 510.7,467.9 518.4,327.2 526.1,329.5 533.8,350.4 541.5,337.6 549.2,328.4 556.9,325.3 564.6,321.9 572.3,321.3 580.0,357.4 587.7,322.3 595.4,323.8 603.1,326.7 610.8,324.3 618.5,325.7 626.2,323.4 633.9,324.1 641.6,338.9 649.3,323.7 657.0,324.8 664.7,323.2 672.4,349.9 680.1,370.4 687.8,323.4 695.5,384.8 703.3,324.6 711.0,382.6 718.7,368.2 726.4,371.5 734.1,373.2 741.8,434.9 749.5,377.2 757.2,380.8 764.9,387.2 772.6,374.4 780.3,375.6 788.0,373.2 795.7,403.3 803.4,380.9 811.1,381.8 818.8,387.7 826.5,421.5 834.2,376.5 841.9,375.4 849.6,376.1 857.3,374.1 865.0,375.0 872.7,435.7 880.4,394.9 888.1,374.5 895.8,358.3 903.5,388.0 911.2,358.2 918.9,349.2 926.6,413.8 934.4,365.6 942.1,336.0 949.8,332.1 957.5,333.0 965.2,335.2 972.9,336.3 980.6,340.7 988.3,383.6 996.0,406.8 1003.7,397.5 1011.4,398.0 1019.1,384.2 1026.8,383.3 1034.5,406.4 1042.2,394.4"/>
<polyline points="117.8,789.5 125.5,600.0 133.2,515.0 140.9,471.8 148.6,457.3 156.3,445.2 164.0,429.1 171.7,477.8 179.4,398.7 187.1,409.2 194.8,384.1 202.5,378.9 210.2,381.8 217.9,382.7 225.6,378.3 233.4,382.8 241.1,379.6 248.8,406.5 256.5,441.1 264.2,425.4 271.9,395.5 279.6,372.4 287.3,406.8 295.0,392.4 302.7,378.7 310.4,438.8 318.1,369.1 325.8,397.6 333.5,361.4 341.2,517.3 348.9,451.8 356.6,417.5 364.3,393.2 372.0,504.4 379.7,509.6 387.4,416.2 395.1,450.0 402.8,415.4 410.5,399.6 418.2,385.9 425.9,407.9 433.6,388.9 441.3,358.7 449.0,347.5 456.7,337.7 464.5,419.7 472.2,359.0 479.9,465.9 487.6,318.6 495.3,313.4 503.0,319.1 510.7,309.9 518.4,296.6 526.1,296.6 533.8,386.8 541.5,295.4 549.2,293.4 556.9,294.3 564.6,291.9 572.3,322.5 580.0,294.8 587.7,291.5 595.4,293.4 603.1,292.8 610.8,293.9 618.5,293.1 626.2,306.8 633.9,302.1 641.6,292.8 649.3,312.1 657.0,310.4 664.7,326.3 672.4,298.6 680.1,302.7 687.8,295.3 695.5,297.7 703.3,303.8 711.0,341.3 718.7,338.4 726.4,340.1 734.1,358.8 741.8,436.4 749.5,346.3 757.2,360.6 764.9,343.2 772.6,345.8 780.3,350.5 788.0,359.9 795.7,370.9 803.4,353.2 811.1,357.1 818.8,349.7 826.5,352.6 834.2,348.1 841.9,344.9 849.6,351.0 857.3,406.6 865.0,346.2 872.7,406.1 880.4,334.1 888.1,337.6 895.8,329.0 903.5,348.4 911.2,325.7 918.9,318.8 926.6,319.1 934.4,353.3 942.1,363.3 949.8,316.2 957.5,304.7 965.2,304.7 972.9,305.3 980.6,305.7 988.3,359.6 996.0,383.8 1003.7,364.9 1011.4,395.3 1019.1,354.2 1026.8,397.8 1034.5,353.5 1042.2,384.3"/>
<polyline points="117.8,789.5 125.5,600.0 133.2,607.0 140.9,497.9 148.6,527.4 156.3,468.6 164.0,451.3 171.7,438.8 179.4,483.2 187.1,413.1 194.8,430.3 202.5,406.3 210.2,402.8 217.9,490.6 225.6,409.2 233.4,408.9 241.1,403.5 248.8,400.8 256.5,467.1 264.2,435.3 271.9,415.7 279.6,406.0 287.3,436.8 295.0,414.7 302.7,510.1 310.4,396.3 318.1,392.8 325.8,416.8 333.5,383.8 341.2,518.5 348.9,476.3 356.6,454.3 364.3,476.1 372.0,522.0 379.7,468.8 387.4,441.1 395.1,471.0 402.8,437.8 410.5,411.8 418.2,395.1 425.9,430.5 433.6,399.7 441.3,382.2 449.0,370.2 456.7,362.2 464.5,443.2 472.2,413.8 479.9,363.0 487.6,342.9 495.3,358.8 503.0,329.8 510.7,333.0 518.4,334.4 526.1,318.9 533.8,318.8 541.5,318.8 549.2,319.5 556.9,328.9 564.6,316.6 572.3,315.2 580.0,327.6 587.7,319.9 595.4,316.8 603.1,319.8 610.8,339.6 618.5,317.4 626.2,319.9 633.9,319.0 641.6,316.5 649.3,371.6 657.0,326.3 664.7,316.9 672.4,332.2 680.1,374.5 687.8,320.4 695.5,338.0 703.3,392.4 711.0,361.7 718.7,366.1 726.4,366.5 734.1,378.9 741.8,390.1 749.5,369.3 757.2,381.2 764.9,367.5 772.6,398.9 780.3,376.3 788.0,376.3 795.7,436.0 803.4,379.3 811.1,420.8 818.8,378.4 826.5,403.1 834.2,379.7 841.9,371.7 849.6,369.6 857.3,372.6 865.0,370.4 872.7,434.0 880.4,356.0 888.1,356.7 895.8,356.4 903.5,352.8 911.2,380.0 918.9,342.7 926.6,342.2 934.4,341.3 942.1,328.9 949.8,330.9 957.5,409.1 965.2,326.3 972.9,330.7 980.6,334.7 988.3,378.7 996.0,440.8 1003.7,418.4 1011.4,418.6 1019.1,378.1 1026.8,379.1 1034.5,377.3 1042.2,376.8"/>
<polyline points="117.8,789.5 125.5,640.0 133.2,630.5 140.9,546.1 148.6,545.7 156.3,501.3 164.0,480.2 171.7,501.9 179.4,453.1 187.1,442.5 194.8,435.3 202.5,433.3 210.2,431.1 217.9,515.0 225.6,473.7 233.4,430.7 241.1,431.7 248.8,430.2 256.5,555.0 264.2,464.1 271.9,446.5 279.6,436.7 287.3,489.3 295.0,440.4 302.7,429.2 310.4,442.2 318.1,432.5 325.8,414.9 333.5,417.8 341.2,588.0 348.9,505.0 356.6,487.1 364.3,530.0 372.0,550.5 379.7,498.4 387.4,460.1 395.1,498.9 402.8,466.0 410.5,441.3 418.2,422.9 425.9,459.9 433.6,453.8 441.3,406.7 449.0,395.5 456.7,391.7 464.5,473.7 472.2,413.0 479.9,425.4 487.6,383.0 495.3,359.4 503.0,368.1 510.7,350.4 518.4,348.9 526.1,351.1 533.8,347.1 541.5,363.9 549.2,347.3 556.9,344.6 564.6,343.2 572.3,346.9 580.0,375.7 587.7,346.0 595.4,342.9 603.1,342.6 610.8,346.5 618.5,346.2 626.2,351.5 633.9,347.1 641.6,424.1 649.3,345.7 657.0,345.4 664.7,349.1 672.4,356.4 680.1,348.7 687.8,348.7 695.5,349.4 703.3,350.3 711.0,417.9 718.7,522.0 726.4,393.1 734.1,414.0 741.8,420.9 749.5,464.6 757.2,398.3 764.9,397.3 772.6,397.0 780.3,396.9 788.0,419.2 795.7,424.4 803.4,403.4 811.1,406.2 818.8,411.4 826.5,434.5 834.2,484.5 841.9,398.4 849.6,399.1 857.3,401.0 865.0,399.8 872.7,465.8 880.4,394.5 888.1,383.6 895.8,383.1 903.5,404.0 911.2,379.4 918.9,372.3 926.6,369.0 934.4,367.4 942.1,356.0 949.8,358.6 957.5,358.0 965.2,356.7 972.9,419.1 980.6,359.5 988.3,414.3 996.0,424.8 1003.7,540.0 1011.4,419.5 1019.1,426.0 1026.8,416.6 1034.5,430.4 1042.2,405.7"/>
<polyline points="117.8,789.5 125.5,616.0 133.2,559.7 140.9,511.0 148.6,498.4 156.3,483.4 164.0,467.1 171.7,451.9 179.4,436.2 187.1,463.5 194.8,425.6 202.5,417.2 210.2,418.6 217.9,446.2 225.6,417.5 233.4,425.8 241.1,423.6 248.8,414.0 256.5,480.9 264.2,481.1 271.9,433.5 279.6,506.1 287.3,455.0 295.0,440.1 302.7,418.6 310.4,412.9 318.1,407.1 325.8,402.5 333.5,398.2 341.2,546.6 348.9,501.9 356.6,462.3 364.3,442.2 372.0,535.6 379.7,507.0 387.4,435.1 395.1,491.2 402.8,481.9 410.5,428.5 418.2,411.1 425.9,445.2 433.6,436.0 441.3,393.1 449.0,383.7 456.7,376.4 464.5,456.7 472.2,399.8 479.9,388.2 487.6,356.4 495.3,347.8 503.0,374.9 510.7,344.4 518.4,337.6 526.1,392.6 533.8,346.3 541.5,333.1 549.2,333.3 556.9,343.1 564.6,331.9 572.3,329.3 580.0,358.4 587.7,332.0 595.4,332.9 603.1,350.8 610.8,330.0 618.5,336.4 626.2,330.3 633.9,332.0 641.6,330.1 649.3,334.0 657.0,333.8 664.7,351.7 672.4,336.5 680.1,380.3 687.8,335.4 695.5,354.2 703.3,336.7 711.0,378.4 718.7,378.7 726.4,380.5 734.1,417.3 741.8,457.1 749.5,384.6 757.2,386.5 764.9,436.4 772.6,469.7 780.3,381.5 788.0,409.3 795.7,411.3 803.4,391.0 811.1,409.3 818.8,391.8 826.5,388.3 834.2,387.4 841.9,382.5 849.6,382.7 857.3,384.2 865.0,388.7 872.7,441.3 880.4,373.5 888.1,411.1 895.8,370.1 903.5,369.4 911.2,367.3 918.9,356.8 926.6,364.5 934.4,394.1 942.1,341.6 949.8,342.7 957.5,341.7 965.2,343.8 972.9,344.9 980.6,347.9 988.3,404.1 996.0,402.8 1003.7,425.1 1011.4,406.4 1019.1,391.4 1026.8,394.1 1034.5,480.3 1042.2,430.3"/>
<polyline points="117.8,789.5 125.5,600.0 133.2,515.6 140.9,485.5 148.6,467.9 156.3,455.3 164.0,453.0 171.7,430.9 179.4,408.3 187.1,399.1 194.8,393.6 202.5,389.1 210.2,405.0 217.9,390.1 225.6,387.7 233.4,390.3 241.1,416.4 248.8,383.8 256.5,453.1 264.2,487.0 271.9,411.2 279.6,444.4 287.3,424.7 295.0,406.2 302.7,389.3 310.4,384.8 318.1,383.6 325.8,406.1 333.5,505.0 341.2,502.6 348.9,478.3 356.6,427.4 364.3,404.5 372.0,506.5 379.7,461.1 387.4,408.6 395.1,455.7 402.8,422.9 410.5,439.9 418.2,382.1 425.9,421.4 433.6,384.4 441.3,366.4 449.0,374.7 456.7,384.3 464.5,427.1 472.2,370.5 479.9,350.0 487.6,329.4 495.3,318.5 503.0,312.6 510.7,308.6 518.4,311.1 526.1,303.8 533.8,328.0 541.5,304.3 549.2,301.3 556.9,301.4 564.6,301.2 572.3,302.4 580.0,304.9 587.7,305.4 595.4,302.6 603.1,309.9 610.8,303.2 618.5,301.1 626.2,304.2 633.9,310.4 641.6,305.0 649.3,305.2 657.0,421.4 664.7,303.2 672.4,304.7 680.1,304.9 687.8,317.5 695.5,307.7 703.3,312.4 711.0,355.2 718.7,357.9 726.4,353.3 734.1,362.7 741.8,388.2 749.5,383.5 757.2,352.9 764.9,353.0 772.6,369.1 780.3,357.8 788.0,353.6 795.7,383.6 803.4,377.9 811.1,362.4 818.8,376.8 826.5,364.1 834.2,396.3 841.9,355.2 849.6,359.4 857.3,357.2 865.0,359.1 872.7,432.3 880.4,343.0 888.1,358.8 895.8,340.4 903.5,340.8 911.2,359.9 918.9,408.1 926.6,326.3 934.4,333.7 942.1,328.4 949.8,430.3 957.5,316.7 965.2,313.4 972.9,343.4 980.6,324.8 988.3,362.8 996.0,377.4 1003.7,394.7 1011.4,390.0 1019.1,360.8 1026.8,384.5 1034.5,375.4 1042.2,362.3"/>
<polyline points="117.8,789.5 125.5,600.0 133.2,525.8 140.9,495.9 148.6,481.0 156.3,465.0 164.0,450.5 171.7,436.0 179.4,435.2 187.1,416.8 194.8,410.2 202.5,430.2 210.2,404.7 217.9,402.4 225.6,470.3 233.4,403.6 241.1,403.3 248.8,399.0 256.5,468.6 264.2,436.3 271.9,414.3 279.6,398.3 287.3,431.4 295.0,413.3 302.7,415.2 310.4,400.3 318.1,389.2 325.8,386.5 333.5,381.3 341.2,532.6 348.9,476.5 356.6,440.2 364.3,417.3 372.0,521.1 379.7,466.0 387.4,442.3 395.1,473.2 402.8,434.2 410.5,413.4 418.2,421.3 425.9,441.4 433.6,412.1 441.3,381.3 449.0,387.5 456.7,361.8 464.5,442.5 472.2,433.9 479.9,359.9 487.6,343.7 495.3,329.7 503.0,327.9 510.7,322.0 518.4,321.0 526.1,361.9 533.8,318.3 541.5,350.4 549.2,315.8 556.9,352.3 564.6,315.3 572.3,315.1 580.0,317.8 587.7,351.5 595.4,314.5 603.1,316.9 610.8,318.2 618.5,318.3 626.2,366.9 633.9,318.0 641.6,317.5 649.3,321.9 657.0,320.2 664.7,320.2 672.4,327.7 680.1,340.3 687.8,317.8 695.5,342.7 703.3,318.3 711.0,369.4 718.7,362.4 726.4,367.8 734.1,387.0 741.8,392.8 749.5,370.9 757.2,376.7 764.9,385.9 772.6,378.5 780.3,370.6 788.0,366.7 795.7,395.3 803.4,375.2 811.1,385.8 818.8,388.9 826.5,390.2 834.2,369.2 841.9,369.9 849.6,370.0 857.3,375.4 865.0,424.4 872.7,426.7 880.4,362.7 888.1,433.7 895.8,354.2 903.5,360.6 911.2,351.3 918.9,343.4 926.6,344.1 934.4,339.7 942.1,327.6 949.8,327.2 957.5,330.1 965.2,354.6 972.9,350.6 980.6,330.4 988.3,375.5 996.0,460.7 1003.7,391.9 1011.4,389.9 1019.1,385.0 1026.8,397.4 1034.5,390.2 1042.2,374.8"/>
<polyline points="117.8,789.5 125.5,603.3 133.2,542.3 140.9,531.4 148.6,514.2 156.3,483.4 164.0,465.7 171.7,454.1 179.4,441.2 187.1,433.2 194.8,427.8 202.5,457.2 210.2,419.0 217.9,417.7 225.6,492.7 233.4,455.2 241.1,416.4 248.8,442.4 256.5,483.7 264.2,454.9 271.9,430.2 279.6,429.7 287.3,445.7 295.0,447.6 302.7,415.5 310.4,413.4 318.1,408.9 325.8,414.6 333.5,400.9 341.2,533.4 348.9,490.3 356.6,457.7 364.3,432.4 372.0,534.7 379.7,483.1 387.4,436.7 395.1,513.7 402.8,451.0 410.5,428.7 418.2,435.4 425.9,446.4 433.6,412.2 441.3,407.7 449.0,383.4 456.7,382.9 464.5,459.0 472.2,400.1 479.9,393.9 487.6,373.5 495.3,345.7 503.0,355.5 510.7,344.6 518.4,347.7 526.1,335.5 533.8,336.0 541.5,421.1 549.2,334.2 556.9,333.7 564.6,340.9 572.3,333.1 580.0,334.0 587.7,334.6 595.4,331.7 603.1,333.8 610.8,359.9 618.5,342.7 626.2,377.4 633.9,343.0 641.6,333.8 649.3,335.9 657.0,340.7 664.7,333.2 672.4,332.9 680.1,368.6 687.8,336.3 695.5,335.8 703.3,372.4 711.0,376.3 718.7,381.6 726.4,382.7 734.1,387.8 741.8,452.6 749.5,382.0 757.2,381.9 764.9,386.4 772.6,429.6 780.3,406.8 788.0,393.1 795.7,413.4 803.4,393.2 811.1,395.3 818.8,424.7 826.5,392.6 834.2,388.8 841.9,386.7 849.6,426.0 857.3,418.3 865.0,386.7 872.7,448.7 880.4,382.7 888.1,399.2 895.8,369.3 903.5,399.5 911.2,364.7 918.9,359.7 926.6,355.7 934.4,357.4 942.1,345.2 949.8,342.4 957.5,342.6 965.2,349.8 972.9,343.3 980.6,362.0 988.3,421.7 996.0,405.6 1003.7,401.2 1011.4,407.3 1019.1,407.1 1026.8,393.2 1034.5,410.6 1042.2,392.8"/>
<polyline points="117.8,789.5 125.5,640.0 133.2,536.8 140.9,506.1 148.6,493.2 156.3,479.6 164.0,472.9 171.7,456.2 179.4,431.7 187.1,424.4 194.8,418.3 202.5,445.8 210.2,412.9 217.9,413.3 225.6,426.3 233.4,434.5 241.1,411.3 248.8,411.0 256.5,484.5 264.2,457.7 271.9,439.8 279.6,408.6 287.3,443.2 295.0,420.2 302.7,409.4 310.4,420.4 318.1,401.2 325.8,397.8 333.5,407.1 341.2,526.4 348.9,486.8 356.6,452.5 364.3,426.6 372.0,532.1 379.7,475.7 387.4,434.0 395.1,484.7 402.8,454.1 410.5,420.4 418.2,454.3 425.9,446.7 433.6,404.3 441.3,402.9 449.0,382.6 456.7,373.7 464.5,452.7 472.2,407.0 479.9,374.2 487.6,352.5 495.3,373.5 503.0,345.7 510.7,335.6 518.4,336.6 526.1,436.6 533.8,329.2 541.5,328.0 549.2,327.7 556.9,328.5 564.6,336.6 572.3,327.2 580.0,328.5 587.7,325.6 595.4,342.4 603.1,325.3 610.8,328.1 618.5,326.0 626.2,368.9 633.9,329.5 641.6,329.5 649.3,328.5 657.0,327.6 664.7,336.0 672.4,333.6 680.1,427.6 687.8,331.6 695.5,329.4 703.3,330.6 711.0,382.3 718.7,387.9 726.4,403.4 734.1,378.0 741.8,412.4 749.5,380.3 757.2,377.3 764.9,389.7 772.6,379.8 780.3,378.4 788.0,380.0 795.7,407.8 803.4,385.3 811.1,387.3 818.8,387.2 826.5,383.3 834.2,379.4 841.9,414.4 849.6,377.6 857.3,383.3 865.0,381.2 872.7,435.6 880.4,365.1 888.1,365.9 895.8,364.7 903.5,363.9 911.2,362.1 918.9,375.0 926.6,353.2 934.4,350.6 942.1,337.1 949.8,338.4 957.5,343.4 965.2,335.4 972.9,338.0 980.6,341.6 988.3,385.5 996.0,400.9 1003.7,412.8 1011.4,400.0 1019.1,419.8 1026.8,401.9 1034.5,415.1 1042.2,386.4"/>
<polyline points="117.8,789.5 125.5,600.0 133.2,529.4 140.9,502.0 148.6,469.2 156.3,503.9 164.0,440.6 171.7,426.3 179.4,411.3 187.1,400.5 194.8,394.8 202.5,391.7 210.2,400.0 217.9,402.8 225.6,444.5 233.4,403.0 241.1,396.7 248.8,388.6 256.5,454.1 264.2,422.5 271.9,413.8 279.6,385.5 287.3,419.4 295.0,399.1 302.7,418.3 310.4,392.6 318.1,400.6 325.8,387.9 333.5,389.8 341.2,504.6 348.9,466.5 356.6,488.1 364.3,402.5 372.0,507.8 379.7,525.1 387.4,409.5 395.1,461.8 402.8,423.1 410.5,398.9 418.2,388.6 425.9,447.3 433.6,383.8 441.3,369.0 449.0,355.7 456.7,353.6 464.5,428.6 472.2,392.1 479.9,350.4 487.6,333.7 495.3,321.1 503.0,313.7 510.7,309.0 518.4,307.4 526.1,349.7 533.8,311.8 541.5,306.8 549.2,342.3 556.9,311.7 564.6,306.4 572.3,303.9 580.0,321.6 587.7,305.7 595.4,307.0 603.1,316.5 610.8,304.8 618.5,303.4 626.2,303.9 633.9,303.0 641.6,302.8 649.3,304.1 657.0,304.3 664.7,304.9 672.4,307.8 680.1,309.0 687.8,311.9 695.5,307.2 703.3,305.2 711.0,348.6 718.7,350.3 726.4,361.7 734.1,442.5 741.8,392.9 749.5,354.1 757.2,355.0 764.9,356.1 772.6,383.8 780.3,357.7 788.0,357.6 795.7,392.6 803.4,361.2 811.1,361.5 818.8,405.0 826.5,364.1 834.2,358.0 841.9,377.4 849.6,356.0 857.3,356.9 865.0,391.0 872.7,422.1 880.4,363.5 888.1,341.8 895.8,339.8 903.5,349.1 911.2,341.5 918.9,330.4 926.6,346.1 934.4,353.7 942.1,324.3 949.8,320.5 957.5,315.6 965.2,322.7 972.9,317.9 980.6,317.0 988.3,364.7 996.0,377.4 1003.7,408.8 1011.4,466.2 1019.1,363.3 1026.8,362.6 1034.5,364.5 1042.2,362.9"/>
<polyline points="117.8,789.5 125.5,611.5 133.2,546.5 140.9,518.8 148.6,502.5 156.3,496.4 164.0,475.1 171.7,513.1 179.4,451.7 187.1,434.5 194.8,431.8 202.5,434.9 210.2,444.1 217.9,427.9 225.6,501.8 233.4,425.1 241.1,433.2 248.8,429.2 256.5,486.2 264.2,460.0 271.9,436.5 279.6,416.4 287.3,458.0 295.0,431.4 302.7,421.5 310.4,419.9 318.1,437.6 325.8,453.1 333.5,403.5 341.2,536.7 348.9,499.1 356.6,484.0 364.3,440.4 372.0,543.9 379.7,489.0 387.4,445.6 395.1,499.2 402.8,459.4 410.5,435.1 418.2,432.5 425.9,451.4 433.6,432.1 441.3,402.0 449.0,389.1 456.7,386.3 464.5,463.9 472.2,407.3 479.9,385.0 487.6,366.4 495.3,360.9 503.0,350.0 510.7,346.7 518.4,375.3 526.1,348.4 533.8,338.5 541.5,343.6 549.2,399.3 556.9,369.0 564.6,340.4 572.3,339.5 580.0,338.4 587.7,338.8 595.4,336.7 603.1,339.6 610.8,347.0 618.5,338.7 626.2,337.3 633.9,339.7 641.6,338.1 649.3,341.4 657.0,340.7 664.7,340.6 672.4,338.7 680.1,342.9 687.8,342.3 695.5,363.1 703.3,390.1 711.0,381.4 718.7,384.2 726.4,385.2 734.1,387.1 741.8,412.5 749.5,388.0 757.2,391.0 764.9,443.3 772.6,420.7 780.3,392.2 788.0,401.5 795.7,435.3 803.4,396.2 811.1,396.2 818.8,398.5 826.5,422.5 834.2,393.4 841.9,401.0 849.6,398.3 857.3,450.7 865.0,393.1 872.7,450.3 880.4,422.8 888.1,513.8 895.8,407.8 903.5,375.1 911.2,393.0 918.9,363.9 926.6,385.2 934.4,361.1 942.1,351.4 949.8,369.9 957.5,348.5 965.2,348.5 972.9,348.1 980.6,370.2 988.3,402.6 996.0,409.9 1003.7,409.2 1011.4,422.5 1019.1,408.7 1026.8,397.1 1034.5,396.9 1042.2,414.5"/>
<polyline points="117.8,789.5 125.5,600.0 133.2,529.0 140.9,498.6 148.6,482.7 156.3,466.8 164.0,455.1 171.7,437.5 179.4,423.1 187.1,429.4 194.8,417.2 202.5,404.7 210.2,406.2 217.9,406.7 225.6,411.1 233.4,403.8 241.1,403.1 248.8,401.3 256.5,475.3 264.2,436.1 271.9,419.0 279.6,396.8 287.3,430.4 295.0,413.8 302.7,401.5 310.4,398.6 318.1,391.2 325.8,387.0 333.5,384.8 341.2,517.3 348.9,479.2 356.6,560.0 364.3,417.5 372.0,522.0 379.7,465.8 387.4,440.8 395.1,474.1 402.8,461.6 410.5,420.9 418.2,417.0 425.9,431.5 433.6,463.1 441.3,381.6 449.0,380.5 456.7,365.9 464.5,442.7 472.2,461.2 479.9,367.0 487.6,345.2 495.3,334.1 503.0,327.9 510.7,459.8 518.4,322.6 526.1,318.0 533.8,317.9 541.5,318.8 549.2,329.3 556.9,320.3 564.6,325.6 572.3,318.4 580.0,318.4 587.7,318.2 595.4,351.6 603.1,317.4 610.8,371.4 618.5,316.8 626.2,315.6 633.9,321.7 641.6,317.5 649.3,317.9 657.0,316.9 664.7,318.5 672.4,350.1 680.1,320.1 687.8,319.8 695.5,322.2 703.3,327.5 711.0,364.1 718.7,366.2 726.4,365.8 734.1,368.4 741.8,398.0 749.5,384.9 757.2,394.2 764.9,371.2 772.6,371.5 780.3,371.5 788.0,369.6 795.7,416.3 803.4,376.4 811.1,374.4 818.8,376.6 826.5,445.8 834.2,375.2 841.9,371.8 849.6,368.1 857.3,370.4 865.0,369.6 872.7,457.2 880.4,357.4 888.1,356.2 895.8,356.4 903.5,351.7 911.2,355.5 918.9,344.9 926.6,341.0 934.4,343.2 942.1,329.3 949.8,328.9 957.5,334.3 965.2,326.9 972.9,334.5 980.6,333.6 988.3,374.7 996.0,388.0 1003.7,389.2 1011.4,397.1 1019.1,382.8 1026.8,381.1 1034.5,375.2 1042.2,375.7"/>
<polyline points="117.8,789.5 125.5,609.1 133.2,588.1 140.9,515.2 148.6,498.1 156.3,484.5 164.0,475.0 171.7,469.4 179.4,443.8 187.1,432.3 194.8,428.5 202.5,424.4 210.2,419.7 217.9,421.7 225.6,472.3 233.4,423.6 241.1,422.1 248.8,416.9 256.5,486.3 264.2,460.3 271.9,434.7 279.6,415.2 287.3,448.1 295.0,431.7 302.7,421.1 310.4,414.4 318.1,410.6 325.8,404.8 333.5,403.6 341.2,534.0 348.9,494.9 356.6,458.4 364.3,433.4 372.0,544.8 379.7,482.9 387.4,442.2 395.1,490.1 402.8,460.3 410.5,428.3 418.2,414.1 425.9,454.5 433.6,415.5 441.3,403.9 449.0,392.5 456.7,382.8 464.5,466.7 472.2,411.8 479.9,384.2 487.6,363.6 495.3,355.1 503.0,390.5 510.7,343.9 518.4,402.0 526.1,350.8 533.8,353.6 541.5,337.7 549.2,334.1 556.9,336.5 564.6,336.8 572.3,352.6 580.0,350.8 587.7,342.1 595.4,336.8 603.1,360.2 610.8,335.2 618.5,361.3 626.2,334.7 633.9,341.0 641.6,333.2 649.3,338.0 657.0,362.7 664.7,338.9 672.4,391.7 680.1,337.9 687.8,334.9 695.5,340.0 703.3,340.1 711.0,392.6 718.7,380.0 726.4,407.1 734.1,384.9 741.8,408.2 749.5,392.6 757.2,389.0 764.9,387.5 772.6,385.2 780.3,458.4 788.0,400.8 795.7,419.5 803.4,403.6 811.1,417.3 818.8,404.6 826.5,395.9 834.2,388.0 841.9,389.5 849.6,421.6 857.3,388.2 865.0,385.9 872.7,444.6 880.4,389.0 888.1,387.7 895.8,376.0 903.5,386.4 911.2,371.2 918.9,364.3 926.6,358.4 934.4,368.8 942.1,353.2 949.8,345.3 957.5,356.1 965.2,344.3 972.9,343.8 980.6,347.2 988.3,400.7 996.0,407.7 1003.7,418.6 1011.4,441.7 1019.1,393.3 1026.8,421.9 1034.5,395.3 1042.2,395.6"/>
<polyline points="117.8,789.5 125.5,607.2 133.2,632.0 140.9,512.2 148.6,509.0 156.3,575.0 164.0,468.3 171.7,455.1 179.4,450.4 187.1,429.7 194.8,426.0 202.5,464.0 210.2,433.4 217.9,422.1 225.6,417.9 233.4,418.3 241.1,418.7 248.8,417.8 256.5,482.0 264.2,452.0 271.9,431.2 279.6,411.9 287.3,494.5 295.0,426.0 302.7,440.9 310.4,411.0 318.1,405.9 325.8,501.2 333.5,400.3 341.2,537.3 348.9,500.2 356.6,457.4 364.3,441.5 372.0,542.1 379.7,487.7 387.4,445.3 395.1,489.7 402.8,455.3 410.5,435.6 418.2,411.5 425.9,449.9 433.6,412.4 441.3,413.6 449.0,384.3 456.7,400.3 464.5,484.3 472.2,397.8 479.9,379.7 487.6,370.2 495.3,348.0 503.0,341.3 510.7,342.6 518.4,337.4 526.1,344.9 533.8,337.1 541.5,363.8 549.2,359.2 556.9,352.1 564.6,335.7 572.3,333.1 580.0,339.1 587.7,344.6 595.4,331.6 603.1,391.8 610.8,334.5 618.5,335.2 626.2,350.1 633.9,334.8 641.6,334.3 649.3,338.6 657.0,426.3 664.7,336.7 672.4,333.7 680.1,351.1 687.8,335.9 695.5,337.0 703.3,336.2 711.0,378.5 718.7,410.0 726.4,380.6 734.1,381.5 741.8,419.2 749.5,384.1 757.2,399.6 764.9,383.0 772.6,400.7 780.3,384.7 788.0,410.6 795.7,411.0 803.4,394.2 811.1,393.6 818.8,389.9 826.5,389.5 834.2,418.3 841.9,387.3 849.6,386.0 857.3,386.1 865.0,384.4 872.7,456.3 880.4,371.2 888.1,369.9 895.8,369.0 903.5,371.3 911.2,366.9 918.9,357.8 926.6,364.6 934.4,392.7 942.1,368.6 949.8,341.5 957.5,424.0 965.2,344.7 972.9,344.6 980.6,346.1 988.3,394.9 996.0,406.6 1003.7,411.6 1011.4,406.5 1019.1,394.2 1026.8,393.9 1034.5,391.5 1042.2,392.3"/>
<polyline points="117.8,789.5 125.5,600.0 133.2,517.6 140.9,495.8 148.6,471.6 156.3,458.2 164.0,443.5 171.7,440.8 179.4,435.1 187.1,432.4 194.8,433.9 202.5,407.5 210.2,405.5 217.9,390.8 225.6,404.6 233.4,393.9 241.1,391.7 248.8,390.4 256.5,468.5 264.2,427.3 271.9,412.7 279.6,386.9 287.3,425.7 295.0,401.8 302.7,389.6 310.4,386.3 318.1,382.1 325.8,375.5 333.5,373.8 341.2,506.9 348.9,465.4 356.6,429.3 364.3,406.1 372.0,512.1 379.7,461.0 387.4,415.2 395.1,463.7 402.8,428.7 410.5,452.4 418.2,388.9 425.9,423.5 433.6,384.1 441.3,369.4 449.0,358.9 456.7,350.7 464.5,429.9 472.2,371.8 479.9,350.3 487.6,334.2 495.3,325.8 503.0,329.8 510.7,312.2 518.4,308.7 526.1,325.7 533.8,306.7 541.5,305.5 549.2,312.1 556.9,310.0 564.6,315.5 572.3,311.3 580.0,310.7 587.7,304.6 595.4,326.0 603.1,311.3 610.8,327.4 618.5,322.7 626.2,304.1 633.9,307.3 641.6,331.4 649.3,381.0 657.0,344.2 664.7,305.8 672.4,312.0 680.1,308.4 687.8,306.3 695.5,309.5 703.3,307.1 711.0,350.2 718.7,355.2 726.4,355.2 734.1,355.3 741.8,389.6 749.5,359.9 757.2,359.3 764.9,366.8 772.6,358.2 780.3,359.3 788.0,360.3 795.7,414.6 803.4,367.2 811.1,366.5 818.8,365.3 826.5,367.4 834.2,359.5 841.9,357.4 849.6,361.3 857.3,359.6 865.0,357.5 872.7,429.8 880.4,347.9 888.1,343.7 895.8,345.4 903.5,342.4 911.2,351.2 918.9,376.3 926.6,328.9 934.4,327.7 942.1,326.5 949.8,323.8 957.5,315.0 965.2,319.5 972.9,316.7 980.6,319.4 988.3,385.2 996.0,377.3 1003.7,373.7 1011.4,377.0 1019.1,364.6 1026.8,367.2 1034.5,385.6 1042.2,374.5"/>
<polyline points="117.8,789.5 125.5,621.0 133.2,584.3 140.9,525.8 148.6,518.8 156.3,534.6 164.0,481.0 171.7,465.6 179.4,455.0 187.1,518.2 194.8,440.2 202.5,434.6 210.2,436.3 217.9,433.2 225.6,434.3 233.4,435.3 241.1,458.7 248.8,434.6 256.5,516.0 264.2,469.1 271.9,447.1 279.6,434.2 287.3,461.6 295.0,444.5 302.7,431.9 310.4,426.9 318.1,449.1 325.8,419.4 333.5,432.1 341.2,549.3 348.9,513.6 356.6,479.4 364.3,466.7 372.0,579.0 379.7,499.6 387.4,454.6 395.1,529.6 402.8,466.3 410.5,441.8 418.2,470.5 425.9,476.5 433.6,445.8 441.3,504.8 449.0,402.9 456.7,397.3 464.5,473.1 472.2,415.0 479.9,395.1 487.6,373.3 495.3,362.4 503.0,359.9 510.7,352.7 518.4,350.9 526.1,352.4 533.8,387.1 541.5,350.7 549.2,345.6 556.9,354.0 564.6,361.4 572.3,347.9 580.0,349.1 587.7,357.6 595.4,348.6 603.1,369.4 610.8,350.1 618.5,348.4 626.2,350.3 633.9,350.0 641.6,375.0 649.3,347.8 657.0,354.4 664.7,347.9 672.4,358.6 680.1,374.9 687.8,350.7 695.5,413.3 703.3,471.6 711.0,391.8 718.7,394.9 726.4,470.1 734.1,424.5 741.8,421.2 749.5,400.9 757.2,446.5 764.9,413.6 772.6,439.3 780.3,413.7 788.0,454.7 795.7,426.7 803.4,404.4 811.1,415.0 818.8,410.0 826.5,405.3 834.2,398.8 841.9,399.0 849.6,462.1 857.3,399.6 865.0,401.6 872.7,500.0 880.4,388.7 888.1,386.0 895.8,383.1 903.5,384.3 911.2,391.0 918.9,376.2 926.6,375.3 934.4,369.2 942.1,372.5 949.8,361.0 957.5,374.9 965.2,364.0 972.9,358.4 980.6,364.8 988.3,406.6 996.0,419.4 1003.7,418.2 1011.4,420.6 1019.1,418.6 1026.8,407.3 1034.5,409.9 1042.2,434.7"/>
<polyline points="117.8,789.5 125.5,600.0 133.2,515.0 140.9,469.9 148.6,455.8 156.3,441.2 164.0,425.2 171.7,413.9 179.4,406.7 187.1,389.2 194.8,382.4 202.5,378.2 210.2,426.7 217.9,391.4 225.6,379.2 233.4,375.8 241.1,392.8 248.8,395.3 256.5,439.9 264.2,410.5 271.9,389.2 279.6,372.4 287.3,405.5 295.0,393.1 302.7,373.8 310.4,372.1 318.1,366.8 325.8,399.1 333.5,359.5 341.2,490.2 348.9,465.0 356.6,457.4 364.3,397.0 372.0,494.6 379.7,452.3 387.4,396.9 395.1,458.8 402.8,411.1 410.5,389.9 418.2,371.4 425.9,406.5 433.6,384.9 441.3,355.2 449.0,341.1 456.7,346.2 464.5,418.0 472.2,357.8 479.9,337.4 487.6,319.6 495.3,305.1 503.0,327.5 510.7,321.3 518.4,300.5 526.1,292.9 533.8,290.8 541.5,289.9 549.2,289.5 556.9,288.7 564.6,301.4 572.3,288.5 580.0,323.7 587.7,289.0 595.4,291.8 603.1,297.0 610.8,292.8 618.5,331.9 626.2,289.4 633.9,293.2 641.6,292.8 649.3,311.3 657.0,289.5 664.7,292.0 672.4,293.9 680.1,293.8 687.8,304.3 695.5,292.1 703.3,295.7 711.0,336.9 718.7,348.0 726.4,357.5 734.1,342.4 741.8,365.2 749.5,340.7 757.2,340.1 764.9,341.8 772.6,386.1 780.3,342.0 788.0,343.4 795.7,371.4 803.4,363.6 811.1,356.7 818.8,377.5 826.5,368.5 834.2,379.3 841.9,346.1 849.6,349.5 857.3,345.2 865.0,342.4 872.7,402.2 880.4,328.3 888.1,330.1 895.8,334.0 903.5,325.9 911.2,327.8 918.9,319.4 926.6,325.6 934.4,317.3 942.1,311.9 949.8,313.3 957.5,344.9 965.2,372.6 972.9,407.1 980.6,306.0 988.3,395.6 996.0,365.2 1003.7,366.9 1011.4,365.4 1019.1,348.7 1026.8,351.7 1034.5,352.9 1042.2,365.0"/>
<polyline points="117.8,789.5 125.5,600.0 133.2,530.7 140.9,511.4 148.6,479.3 156.3,461.8 164.0,454.6 171.7,455.7 179.4,418.1 187.1,410.8 194.8,407.9 202.5,397.9 210.2,431.0 217.9,397.5 225.6,397.5 233.4,395.4 241.1,395.5 248.8,393.1 256.5,466.4 264.2,434.9 271.9,411.3 279.6,413.5 287.3,427.2 295.0,404.8 302.7,398.1 310.4,389.2 318.1,395.5 325.8,381.6 333.5,376.8 341.2,516.9 348.9,469.1 356.6,435.4 364.3,409.0 372.0,588.7 379.7,463.2 387.4,421.5 395.1,473.2 402.8,432.6 410.5,426.9 418.2,419.4 425.9,424.9 433.6,392.1 441.3,372.1 449.0,388.5 456.7,356.6 464.5,434.0 472.2,377.6 479.9,357.0 487.6,337.5 495.3,325.4 503.0,323.1 510.7,319.9 518.4,325.4 526.1,313.6 533.8,383.5 541.5,314.0 549.2,326.7 556.9,311.5 564.6,311.7 572.3,309.8 580.0,311.1 587.7,309.7 595.4,312.4 603.1,313.9 610.8,309.7 618.5,308.2 626.2,313.5 633.9,311.4 641.6,314.9 649.3,313.4 657.0,314.0 664.7,313.8 672.4,339.9 680.1,432.2 687.8,344.4 695.5,315.5 703.3,312.9 711.0,365.9 718.7,377.7 726.4,358.6 734.1,360.2 741.8,426.3 749.5,370.1 757.2,362.5 764.9,363.6 772.6,362.3 780.3,373.7 788.0,364.8 795.7,389.1 803.4,377.5 811.1,367.2 818.8,368.2 826.5,370.7 834.2,364.4 841.9,391.9 849.6,373.0 857.3,366.9 865.0,366.4 872.7,419.2 880.4,384.9 888.1,359.9 895.8,469.7 903.5,387.4 911.2,352.7 918.9,348.9 926.6,338.4 934.4,332.9 942.1,330.4 949.8,325.6 957.5,322.4 965.2,343.5 972.9,323.4 980.6,324.0 988.3,368.4 996.0,382.2 1003.7,382.3 1011.4,384.7 1019.1,372.5 1026.8,387.3 1034.5,368.8 1042.2,410.4"/>
<polyline points="117.8,789.5 125.5,600.0 133.2,599.6 140.9,500.2 148.6,482.9 156.3,470.9 164.0,453.5 171.7,436.8 179.4,423.6 187.1,416.1 194.8,408.6 202.5,416.4 210.2,433.7 217.9,417.0 225.6,403.3 233.4,403.9 241.1,405.0 248.8,403.4 256.5,468.3 264.2,472.5 271.9,430.8 279.6,398.4 287.3,464.0 295.0,413.6 302.7,405.0 310.4,398.9 318.1,395.9 325.8,390.4 333.5,387.1 341.2,517.4 348.9,479.6 356.6,444.1 364.3,427.9 372.0,525.8 379.7,549.9 387.4,422.5 395.1,479.9 402.8,437.6 410.5,412.8 418.2,450.3 425.9,432.7 433.6,416.1 441.3,402.4 449.0,371.0 456.7,365.0 464.5,444.1 472.2,392.2 479.9,374.2 487.6,436.2 495.3,332.7 503.0,327.5 510.7,325.4 518.4,323.4 526.1,319.8 533.8,346.8 541.5,318.8 549.2,354.4 556.9,382.0 564.6,321.1 572.3,320.4 580.0,354.4 587.7,317.3 595.4,340.3 603.1,321.2 610.8,321.2 618.5,316.5 626.2,318.4 633.9,319.5 641.6,318.2 649.3,317.7 657.0,325.9 664.7,322.7 672.4,321.8 680.1,319.2 687.8,323.1 695.5,323.2 703.3,366.2 711.0,368.4 718.7,363.8 726.4,396.5 734.1,366.5 741.8,392.2 749.5,370.0 757.2,369.7 764.9,372.0 772.6,399.8 780.3,393.1 788.0,379.2 795.7,402.0 803.4,378.0 811.1,377.8 818.8,378.6 826.5,379.3 834.2,375.3 841.9,391.5 849.6,379.5 857.3,372.6 865.0,373.7 872.7,429.7 880.4,361.2 888.1,357.8 895.8,356.9 903.5,376.8 911.2,363.4 918.9,346.5 926.6,347.5 934.4,352.5 942.1,328.3 949.8,353.6 957.5,330.2 965.2,327.7 972.9,330.6 980.6,335.6 988.3,380.4 996.0,391.1 1003.7,386.9 1011.4,390.0 1019.1,380.2 1026.8,428.6 1034.5,438.7 1042.2,396.5"/>
<polyline points="117.8,789.5 125.5,614.2 133.2,556.6 140.9,613.5 148.6,507.7 156.3,509.8 164.0,477.1 171.7,465.5 179.4,446.6 187.1,436.7 194.8,437.1 202.5,442.0 210.2,429.0 217.9,431.6 225.6,428.7 233.4,426.9 241.1,446.0 248.8,423.9 256.5,489.1 264.2,460.1 271.9,440.9 279.6,433.8 287.3,455.1 295.0,433.6 302.7,431.9 310.4,421.3 318.1,416.9 325.8,409.6 333.5,406.6 341.2,543.1 348.9,499.0 356.6,473.8 364.3,442.2 372.0,543.8 379.7,488.0 387.4,444.3 395.1,492.9 402.8,462.3 410.5,439.3 418.2,422.4 425.9,467.1 433.6,447.7 441.3,401.3 449.0,392.7 456.7,389.1 464.5,529.7 472.2,419.4 479.9,386.4 487.6,367.4 495.3,377.2 503.0,363.5 510.7,346.9 518.4,364.8 526.1,361.7 533.8,341.0 541.5,347.2 549.2,344.2 556.9,339.3 564.6,342.2 572.3,340.5 580.0,342.1 587.7,341.4 595.4,341.0 603.1,339.7 610.8,338.1 618.5,349.4 626.2,341.2 633.9,340.7 641.6,339.5 649.3,339.4 657.0,341.3 664.7,348.4 672.4,343.1 680.1,349.6 687.8,342.3 695.5,342.2 703.3,345.1 711.0,403.9 718.7,385.8 726.4,388.4 734.1,399.5 741.8,423.7 749.5,394.3 757.2,394.7 764.9,390.3 772.6,393.2 780.3,390.6 788.0,390.7 795.7,466.3 803.4,399.7 811.1,399.8 818.8,403.1 826.5,399.7 834.2,395.1 841.9,392.2 849.6,390.9 857.3,394.6 865.0,400.3 872.7,450.7 880.4,403.4 888.1,398.6 895.8,381.5 903.5,374.3 911.2,375.3 918.9,368.1 926.6,399.9 934.4,361.1 942.1,351.0 949.8,350.0 957.5,351.1 965.2,353.2 972.9,353.7 980.6,352.8 988.3,401.9 996.0,413.2 1003.7,413.6 1011.4,413.7 1019.1,398.3 1026.8,402.5 1034.5,400.8 1042.2,400.1"/>
<polyline points="117.8,789.5 125.5,617.5 133.2,543.2 140.9,512.9 148.6,497.6 156.3,482.8 164.0,467.4 171.7,453.8 179.4,456.5 187.1,431.5 194.8,439.2 202.5,422.6 210.2,423.3 217.9,421.2 225.6,421.5 233.4,421.3 241.1,419.7 248.8,416.2 256.5,486.9 264.2,454.4 271.9,435.1 279.6,421.4 287.3,449.4 295.0,430.0 302.7,419.2 310.4,414.4 318.1,411.8 325.8,406.0 333.5,400.8 341.2,536.3 348.9,492.6 356.6,466.3 364.3,436.2 372.0,538.1 379.7,482.4 387.4,443.5 395.1,488.9 402.8,455.9 410.5,430.9 418.2,416.4 425.9,470.2 433.6,412.9 441.3,396.1 449.0,403.8 456.7,388.3 464.5,460.5 472.2,402.6 479.9,382.2 487.6,361.5 495.3,349.1 503.0,345.1 510.7,343.4 518.4,341.8 526.1,338.8 533.8,336.8 541.5,361.5 549.2,335.1 556.9,337.1 564.6,339.3 572.3,335.0 580.0,399.1 587.7,371.5 595.4,334.8 603.1,352.5 610.8,335.7 618.5,417.1 626.2,337.8 633.9,358.9 641.6,339.7 649.3,334.0 657.0,365.1 664.7,336.0 672.4,335.8 680.1,401.0 687.8,336.8 695.5,363.8 703.3,378.3 711.0,381.1 718.7,381.3 726.4,382.1 734.1,383.3 741.8,432.8 749.5,387.0 757.2,385.5 764.9,387.6 772.6,406.8 780.3,385.6 788.0,406.8 795.7,419.8 803.4,395.2 811.1,393.2 818.8,423.4 826.5,393.9 834.2,398.5 841.9,407.7 849.6,388.0 857.3,387.8 865.0,385.9 872.7,467.3 880.4,373.0 888.1,371.9 895.8,370.5 903.5,369.6 911.2,370.3 918.9,360.0 926.6,380.5 934.4,376.7 942.1,344.9 949.8,348.0 957.5,354.3 965.2,357.7 972.9,351.5 980.6,399.5 988.3,395.7 996.0,409.9 1003.7,406.0 1011.4,409.3 1019.1,392.3 1026.8,392.5 1034.5,392.7 1042.2,420.4"/>
<polyline points="117.8,789.5 125.5,600.0 133.2,516.1 140.9,487.1 148.6,487.0 156.3,505.6 164.0,518.6 171.7,428.2 179.4,416.2 187.1,406.6 194.8,398.7 202.5,399.3 210.2,430.7 217.9,429.0 225.6,396.9 233.4,394.7 241.1,391.1 248.8,390.2 256.5,486.3 264.2,433.3 271.9,409.1 279.6,416.2 287.3,422.9 295.0,520.0 302.7,389.4 310.4,386.7 318.1,384.1 325.8,374.8 333.5,373.9 341.2,533.8 348.9,485.9 356.6,430.8 364.3,408.7 372.0,513.5 379.7,527.9 387.4,450.4 395.1,487.7 402.8,424.9 410.5,400.5 418.2,385.0 425.9,422.2 433.6,442.9 441.3,371.6 449.0,358.5 456.7,374.3 464.5,433.2 472.2,374.8 479.9,392.9 487.6,332.0 495.3,319.5 503.0,315.5 510.7,313.7 518.4,363.4 526.1,322.6 533.8,308.2 541.5,305.7 549.2,308.2 556.9,358.0 564.6,316.1 572.3,305.4 580.0,306.7 587.7,305.6 595.4,312.5 603.1,304.8 610.8,311.8 618.5,343.7 626.2,311.7 633.9,309.8 641.6,306.2 649.3,332.5 657.0,308.9 664.7,310.5 672.4,309.5 680.1,309.1 687.8,310.4 695.5,311.5 703.3,320.6 711.0,352.4 718.7,352.8 726.4,354.3 734.1,358.2 741.8,382.1 749.5,360.3 757.2,357.9 764.9,366.7 772.6,356.4 780.3,356.9 788.0,440.5 795.7,386.0 803.4,367.0 811.1,365.8 818.8,378.3 826.5,368.2 834.2,361.3 841.9,362.2 849.6,389.0 857.3,360.0 865.0,367.0 872.7,430.4 880.4,347.2 888.1,376.6 895.8,468.4 903.5,344.3 911.2,341.0 918.9,335.6 926.6,336.1 934.4,329.5 942.1,316.6 949.8,325.9 957.5,315.5 965.2,316.5 972.9,343.5 980.6,337.3 988.3,368.0 996.0,379.1 1003.7,377.7 1011.4,381.0 1019.1,368.1 1026.8,370.0 1034.5,381.3 1042.2,365.1"/>
<polyline points="117.8,789.5 125.5,600.0 133.2,515.0 140.9,485.3 148.6,483.9 156.3,451.2 164.0,450.5 171.7,429.0 179.4,433.0 187.1,417.9 194.8,397.9 202.5,409.0 210.2,390.5 217.9,428.7 225.6,390.6 233.4,396.1 241.1,393.1 248.8,386.1 256.5,494.8 264.2,447.0 271.9,439.0 279.6,390.3 287.3,483.5 295.0,399.9 302.7,388.0 310.4,383.4 318.1,377.5 325.8,385.8 333.5,371.8 341.2,502.5 348.9,494.8 356.6,438.2 364.3,407.5 372.0,528.9 379.7,457.9 387.4,410.4 395.1,457.3 402.8,448.9 410.5,399.4 418.2,417.5 425.9,417.8 433.6,385.0 441.3,366.6 449.0,358.3 456.7,371.3 464.5,426.9 472.2,383.4 479.9,350.3 487.6,340.4 495.3,318.0 503.0,315.2 510.7,435.7 518.4,320.6 526.1,357.5 533.8,324.8 541.5,306.0 549.2,305.3 556.9,304.9 564.6,302.0 572.3,309.1 580.0,304.6 587.7,319.3 595.4,313.6 603.1,306.6 610.8,304.3 618.5,304.0 626.2,303.0 633.9,303.7 641.6,309.8 649.3,306.1 657.0,303.2 664.7,329.3 672.4,306.3 680.1,389.4 687.8,305.0 695.5,307.9 703.3,307.6 711.0,350.0 718.7,352.5 726.4,351.5 734.1,379.6 741.8,378.6 749.5,360.7 757.2,357.3 764.9,355.1 772.6,353.1 780.3,363.7 788.0,355.3 795.7,406.7 803.4,393.4 811.1,363.6 818.8,369.8 826.5,362.5 834.2,354.8 841.9,356.3 849.6,357.5 857.3,356.0 865.0,360.4 872.7,412.0 880.4,343.8 888.1,343.4 895.8,341.0 903.5,339.8 911.2,343.3 918.9,330.5 926.6,328.6 934.4,328.8 942.1,330.0 949.8,314.8 957.5,370.3 965.2,312.3 972.9,319.4 980.6,332.7 988.3,363.0 996.0,376.7 1003.7,411.4 1011.4,373.9 1019.1,362.3 1026.8,369.1 1034.5,362.6 1042.2,364.4"/>
<polyline points="117.8,789.5 125.5,621.0 133.2,561.0 140.9,529.6 148.6,513.1 156.3,499.4 164.0,497.9 171.7,467.8 179.4,456.4 187.1,452.5 194.8,440.3 202.5,445.7 210.2,434.8 217.9,458.3 225.6,436.7 233.4,433.6 241.1,432.5 248.8,435.0 256.5,500.3 264.2,468.9 271.9,447.7 279.6,426.5 287.3,466.0 295.0,443.5 302.7,433.1 310.4,427.3 318.1,424.7 325.8,459.9 333.5,413.9 341.2,546.3 348.9,510.3 356.6,475.7 364.3,450.9 372.0,592.3 379.7,499.7 387.4,480.8 395.1,505.2 402.8,466.3 410.5,443.3 418.2,427.3 425.9,465.0 433.6,538.1 441.3,409.5 449.0,402.0 456.7,394.3 464.5,512.2 472.2,415.3 479.9,395.7 487.6,375.7 495.3,363.8 503.0,356.8 510.7,356.4 518.4,386.4 526.1,351.3 533.8,379.7 541.5,347.6 549.2,348.1 556.9,350.6 564.6,350.2 572.3,346.8 580.0,350.7 587.7,346.2 595.4,351.0 603.1,346.3 610.8,374.0 618.5,394.0 626.2,352.7 633.9,359.5 641.6,348.4 649.3,361.1 657.0,370.4 664.7,349.3 672.4,349.3 680.1,352.4 687.8,362.9 695.5,397.8 703.3,351.3 711.0,395.4 718.7,400.4 726.4,407.2 734.1,401.5 741.8,424.5 749.5,398.2 757.2,402.5 764.9,401.6 772.6,401.5 780.3,402.7 788.0,402.6 795.7,427.9 803.4,406.6 811.1,408.4 818.8,406.5 826.5,407.9 834.2,399.7 841.9,399.7 849.6,411.1 857.3,402.3 865.0,404.1 872.7,460.4 880.4,406.7 888.1,388.2 895.8,384.0 903.5,388.3 911.2,385.4 918.9,406.8 926.6,390.1 934.4,370.6 942.1,357.6 949.8,359.2 957.5,357.4 965.2,361.7 972.9,359.1 980.6,397.1 988.3,409.4 996.0,421.5 1003.7,425.2 1011.4,441.9 1019.1,406.8 1026.8,411.3 1034.5,437.9 1042.2,408.5"/>
<polyline points="117.8,789.5 125.5,600.0 133.2,519.4 140.9,500.9 148.6,478.9 156.3,463.3 164.0,445.4 171.7,433.1 179.4,419.0 187.1,409.0 194.8,401.9 202.5,419.6 210.2,400.5 217.9,413.5 225.6,396.2 233.4,413.7 241.1,396.9 248.8,394.5 256.5,468.6 264.2,430.2 271.9,425.9 279.6,392.2 287.3,424.6 295.0,415.0 302.7,395.4 310.4,407.6 318.1,387.6 325.8,381.0 333.5,379.5 341.2,517.4 348.9,532.2 356.6,434.9 364.3,410.6 372.0,524.9 379.7,460.8 387.4,465.5 395.1,465.2 402.8,433.2 410.5,407.0 418.2,393.3 425.9,427.4 433.6,399.5 441.3,376.6 449.0,364.3 456.7,360.3 464.5,440.9 472.2,379.8 479.9,378.7 487.6,347.9 495.3,327.8 503.0,323.7 510.7,318.8 518.4,314.5 526.1,352.0 533.8,315.3 541.5,315.2 549.2,386.7 556.9,314.3 564.6,321.7 572.3,309.9 580.0,314.3 587.7,315.0 595.4,320.9 603.1,324.8 610.8,311.4 618.5,311.8 626.2,314.1 633.9,316.2 641.6,332.1 649.3,315.0 657.0,332.5 664.7,384.0 672.4,315.0 680.1,316.5 687.8,316.5 695.5,323.7 703.3,320.0 711.0,358.2 718.7,358.7 726.4,362.7 734.1,375.6 741.8,388.4 749.5,362.0 757.2,362.2 764.9,404.9 772.6,363.4 780.3,363.0 788.0,388.3 795.7,391.9 803.4,372.4 811.1,370.5 818.8,378.6 826.5,372.2 834.2,363.3 841.9,369.7 849.6,364.1 857.3,368.1 865.0,364.5 872.7,424.0 880.4,361.8 888.1,372.6 895.8,348.7 903.5,373.3 911.2,357.5 918.9,340.9 926.6,337.2 934.4,332.5 942.1,320.9 949.8,320.4 957.5,321.6 965.2,323.5 972.9,324.5 980.6,334.2 988.3,377.3 996.0,386.1 1003.7,383.4 1011.4,402.2 1019.1,370.0 1026.8,371.6 1034.5,369.6 1042.2,371.3"/>
<polyline points="117.8,789.5 125.5,600.0 133.2,515.0 140.9,488.4 148.6,474.6 156.3,458.4 164.0,440.2 171.7,426.3 179.4,466.7 187.1,405.2 194.8,397.4 202.5,392.0 210.2,394.4 217.9,393.4 225.6,391.9 233.4,392.2 241.1,390.2 248.8,405.6 256.5,453.6 264.2,442.9 271.9,415.1 279.6,388.2 287.3,420.3 295.0,447.5 302.7,392.6 310.4,385.5 318.1,419.5 325.8,377.8 333.5,373.3 341.2,542.0 348.9,467.3 356.6,464.2 364.3,408.2 372.0,530.5 379.7,454.1 387.4,408.6 395.1,475.1 402.8,426.9 410.5,408.9 418.2,411.6 425.9,422.5 433.6,391.3 441.3,546.0 449.0,377.3 456.7,394.3 464.5,461.1 472.2,371.7 479.9,351.7 487.6,335.1 495.3,321.9 503.0,317.9 510.7,313.0 518.4,316.7 526.1,309.6 533.8,307.7 541.5,318.2 549.2,307.3 556.9,313.3 564.6,326.2 572.3,331.3 580.0,304.5 587.7,333.0 595.4,325.8 603.1,306.0 610.8,339.9 618.5,305.0 626.2,304.6 633.9,307.8 641.6,304.6 649.3,305.4 657.0,306.4 664.7,306.0 672.4,342.7 680.1,309.7 687.8,322.3 695.5,310.5 703.3,336.2 711.0,350.0 718.7,353.9 726.4,357.3 734.1,358.6 741.8,379.7 749.5,405.4 757.2,358.9 764.9,360.0 772.6,374.1 780.3,361.8 788.0,360.3 795.7,387.8 803.4,362.7 811.1,365.2 818.8,363.3 826.5,364.7 834.2,359.5 841.9,357.1 849.6,360.9 857.3,360.6 865.0,358.4 872.7,416.7 880.4,343.7 888.1,344.2 895.8,342.8 903.5,352.6 911.2,342.7 918.9,332.3 926.6,335.6 934.4,406.7 942.1,332.8 949.8,318.8 957.5,315.4 965.2,317.8 972.9,317.2 980.6,320.6 988.3,373.0 996.0,389.4 1003.7,374.7 1011.4,423.1 1019.1,385.7 1026.8,370.2 1034.5,371.1 1042.2,368.4"/>
<polyline points="117.8,789.5 125.5,615.7 133.2,539.4 140.9,518.7 148.6,502.2 156.3,477.9 164.0,461.1 171.7,444.1 179.4,434.3 187.1,427.4 194.8,420.2 202.5,412.7 210.2,423.9 217.9,412.9 225.6,410.4 233.4,415.4 241.1,425.6 248.8,477.3 256.5,478.2 264.2,447.2 271.9,427.9 279.6,408.8 287.3,440.7 295.0,458.1 302.7,409.2 310.4,408.8 318.1,400.2 325.8,394.2 333.5,397.5 341.2,531.4 348.9,522.6 356.6,451.4 364.3,425.6 372.0,532.8 379.7,475.9 387.4,442.9 395.1,479.2 402.8,444.4 410.5,433.4 418.2,407.3 425.9,444.6 433.6,409.0 441.3,400.1 449.0,390.5 456.7,375.9 464.5,453.1 472.2,394.8 479.9,371.0 487.6,362.3 495.3,339.7 503.0,341.8 510.7,349.2 518.4,455.8 526.1,327.6 533.8,330.9 541.5,338.2 549.2,327.9 556.9,325.7 564.6,327.9 572.3,325.7 580.0,337.2 587.7,324.0 595.4,336.7 603.1,326.9 610.8,347.3 618.5,325.7 626.2,326.8 633.9,338.6 641.6,389.9 649.3,328.1 657.0,329.2 664.7,327.2 672.4,327.6 680.1,370.7 687.8,328.0 695.5,329.8 703.3,330.1 711.0,371.8 718.7,381.1 726.4,376.9 734.1,374.0 741.8,415.3 749.5,377.4 757.2,382.4 764.9,378.2 772.6,379.5 780.3,378.3 788.0,378.8 795.7,405.1 803.4,387.0 811.1,387.8 818.8,387.8 826.5,422.6 834.2,380.8 841.9,384.7 849.6,377.4 857.3,389.7 865.0,381.7 872.7,441.8 880.4,366.3 888.1,436.0 895.8,361.5 903.5,365.1 911.2,378.4 918.9,377.9 926.6,353.3 934.4,391.4 942.1,336.6 949.8,335.1 957.5,346.7 965.2,338.4 972.9,336.4 980.6,342.5 988.3,445.4 996.0,401.7 1003.7,473.7 1011.4,399.4 1019.1,388.9 1026.8,388.6 1034.5,384.4 1042.2,388.2"/>
<polyline points="117.8,789.5 125.5,600.0 133.2,563.6 140.9,506.8 148.6,508.5 156.3,494.2 164.0,461.4 171.7,445.3 179.4,431.8 187.1,421.7 194.8,415.6 202.5,413.6 210.2,421.3 217.9,412.8 225.6,440.3 233.4,411.7 241.1,408.9 248.8,405.6 256.5,474.3 264.2,450.5 271.9,429.0 279.6,440.6 287.3,442.6 295.0,420.7 302.7,408.8 310.4,406.9 318.1,402.0 325.8,397.1 333.5,406.1 341.2,527.1 348.9,487.1 356.6,450.7 364.3,425.9 372.0,531.6 379.7,501.1 387.4,454.0 395.1,481.2 402.8,470.5 410.5,420.6 418.2,476.1 425.9,442.2 433.6,417.3 441.3,399.5 449.0,375.6 456.7,373.6 464.5,474.2 472.2,393.3 479.9,382.6 487.6,353.4 495.3,340.7 503.0,338.3 510.7,333.6 518.4,334.6 526.1,336.2 533.8,332.4 541.5,323.5 549.2,323.8 556.9,333.0 564.6,325.6 572.3,324.9 580.0,331.3 587.7,344.3 595.4,336.9 603.1,334.8 610.8,348.9 618.5,325.6 626.2,322.9 633.9,323.5 641.6,390.7 649.3,331.2 657.0,355.1 664.7,325.3 672.4,325.9 680.1,326.0 687.8,331.1 695.5,327.9 703.3,327.7 711.0,368.0 718.7,376.9 726.4,373.1 734.1,374.7 741.8,421.7 749.5,444.1 757.2,378.7 764.9,376.8 772.6,379.2 780.3,374.5 788.0,375.3 795.7,406.2 803.4,383.7 811.1,383.9 818.8,386.2 826.5,382.9 834.2,417.5 841.9,379.1 849.6,377.2 857.3,389.2 865.0,378.5 872.7,442.5 880.4,366.9 888.1,375.1 895.8,360.1 903.5,361.7 911.2,358.9 918.9,351.0 926.6,361.7 934.4,347.1 942.1,342.5 949.8,338.0 957.5,336.9 965.2,347.2 972.9,336.5 980.6,342.0 988.3,389.6 996.0,423.2 1003.7,393.5 1011.4,396.8 1019.1,382.8 1026.8,410.0 1034.5,395.6 1042.2,384.0"/>
<polyline points="117.8,789.5 125.5,600.0 133.2,515.0 140.9,481.1 148.6,468.0 156.3,453.7 164.0,437.4 171.7,431.7 179.4,421.3 187.1,399.2 194.8,393.4 202.5,390.6 210.2,402.3 217.9,388.7 225.6,429.6 233.4,398.4 241.1,388.5 248.8,384.8 256.5,451.1 264.2,420.6 271.9,403.3 279.6,390.6 287.3,434.6 295.0,398.2 302.7,386.6 310.4,379.6 318.1,381.5 325.8,371.8 333.5,406.5 341.2,504.3 348.9,464.5 356.6,428.9 364.3,459.3 372.0,514.0 379.7,449.4 387.4,434.2 395.1,457.7 402.8,420.5 410.5,396.0 418.2,433.4 425.9,420.0 433.6,379.5 441.3,367.0 449.0,376.9 456.7,354.5 464.5,425.6 472.2,368.7 479.9,347.7 487.6,374.6 495.3,315.5 503.0,312.2 510.7,309.8 518.4,308.4 526.1,325.6 533.8,303.1 541.5,303.1 549.2,301.7 556.9,299.8 564.6,312.4 572.3,302.2 580.0,299.8 587.7,353.3 595.4,301.0 603.1,302.1 610.8,301.9 618.5,301.4 626.2,302.5 633.9,300.7 641.6,300.3 649.3,305.1 657.0,301.7 664.7,315.5 672.4,303.4 680.1,301.9 687.8,304.7 695.5,309.2 703.3,306.5 711.0,346.3 718.7,349.3 726.4,350.8 734.1,396.3 741.8,379.1 749.5,355.4 757.2,355.4 764.9,355.2 772.6,353.2 780.3,352.9 788.0,356.0 795.7,384.1 803.4,359.3 811.1,358.5 818.8,373.3 826.5,359.4 834.2,388.5 841.9,360.1 849.6,353.5 857.3,378.8 865.0,353.6 872.7,424.1 880.4,404.8 888.1,342.3 895.8,341.4 903.5,355.0 911.2,335.5 918.9,330.8 926.6,329.1 934.4,326.8 942.1,369.4 949.8,345.8 957.5,334.8 965.2,314.2 972.9,324.4 980.6,315.7 988.3,366.4 996.0,388.4 1003.7,370.7 1011.4,376.7 1019.1,360.8 1026.8,363.8 1034.5,361.1 1042.2,371.0"/>
<polyline points="117.8,789.5 125.5,609.7 133.2,573.8 140.9,533.5 148.6,505.2 156.3,490.9 164.0,472.9 171.7,459.5 179.4,446.7 187.1,436.8 194.8,458.3 202.5,426.4 210.2,428.8 217.9,426.3 225.6,438.9 233.4,425.5 241.1,422.0 248.8,421.5 256.5,487.2 264.2,460.8 271.9,443.5 279.6,428.1 287.3,453.0 295.0,444.4 302.7,421.6 310.4,419.4 318.1,483.2 325.8,420.2 333.5,422.4 341.2,543.7 348.9,543.4 356.6,462.0 364.3,440.8 372.0,568.2 379.7,490.8 387.4,444.6 395.1,492.3 402.8,457.6 410.5,431.3 418.2,442.2 425.9,454.8 433.6,420.6 441.3,401.4 449.0,405.0 456.7,385.4 464.5,465.6 472.2,403.5 479.9,397.7 487.6,363.2 495.3,380.4 503.0,347.5 510.7,346.5 518.4,365.9 526.1,350.7 533.8,338.4 541.5,341.1 549.2,337.8 556.9,340.9 564.6,338.5 572.3,338.9 580.0,346.0 587.7,338.7 595.4,388.6 603.1,342.6 610.8,341.1 618.5,338.2 626.2,337.6 633.9,337.1 641.6,341.7 649.3,361.4 657.0,338.9 664.7,394.8 672.4,341.8 680.1,347.9 687.8,366.9 695.5,340.7 703.3,350.7 711.0,398.6 718.7,390.6 726.4,402.7 734.1,387.4 741.8,429.7 749.5,396.1 757.2,414.7 764.9,408.4 772.6,389.4 780.3,392.7 788.0,397.3 795.7,429.3 803.4,409.6 811.1,397.1 818.8,403.1 826.5,399.5 834.2,401.7 841.9,395.2 849.6,390.1 857.3,391.6 865.0,390.3 872.7,465.8 880.4,386.1 888.1,513.8 895.8,377.6 903.5,374.2 911.2,373.9 918.9,390.3 926.6,373.3 934.4,360.2 942.1,359.8 949.8,348.0 957.5,349.3 965.2,355.8 972.9,371.9 980.6,352.2 988.3,447.0 996.0,410.9 1003.7,411.0 1011.4,414.1 1019.1,400.1 1026.8,397.7 1034.5,400.8 1042.2,397.7"/>
<polyline points="117.8,789.5 125.5,601.0 133.2,515.0 140.9,476.6 148.6,470.4 156.3,462.7 164.0,429.7 171.7,449.7 179.4,405.7 187.1,438.7 194.8,395.5 202.5,386.1 210.2,384.4 217.9,383.4 225.6,383.0 233.4,379.7 241.1,383.5 248.8,380.5 256.5,460.6 264.2,414.9 271.9,403.6 279.6,375.3 287.3,437.1 295.0,391.3 302.7,380.9 310.4,497.8 318.1,424.4 325.8,439.0 333.5,363.0 341.2,504.4 348.9,457.9 356.6,422.3 364.3,396.9 372.0,508.0 379.7,469.3 387.4,403.2 395.1,522.3 402.8,453.7 410.5,392.5 418.2,377.6 425.9,410.8 433.6,375.4 441.3,357.6 449.0,350.5 456.7,387.2 464.5,419.2 472.2,364.1 479.9,342.3 487.6,322.4 495.3,312.0 503.0,305.9 510.7,304.2 518.4,302.1 526.1,347.4 533.8,297.4 541.5,298.7 549.2,306.3 556.9,301.4 564.6,294.1 572.3,295.8 580.0,305.4 587.7,297.4 595.4,297.9 603.1,294.8 610.8,297.4 618.5,296.7 626.2,297.2 633.9,300.3 641.6,297.5 649.3,299.2 657.0,299.6 664.7,301.2 672.4,296.0 680.1,306.0 687.8,318.1 695.5,322.8 703.3,298.6 711.0,356.4 718.7,342.8 726.4,350.9 734.1,355.5 741.8,370.1 749.5,408.3 757.2,372.3 764.9,347.6 772.6,350.8 780.3,350.9 788.0,350.4 795.7,377.6 803.4,379.5 811.1,358.0 818.8,357.2 826.5,355.1 834.2,393.2 841.9,351.6 849.6,365.0 857.3,492.3 865.0,348.8 872.7,406.0 880.4,335.2 888.1,357.8 895.8,332.6 903.5,330.5 911.2,330.8 918.9,321.4 926.6,328.6 934.4,445.6 942.1,306.7 949.8,309.1 957.5,308.1 965.2,307.2 972.9,385.8 980.6,309.7 988.3,388.5 996.0,367.2 1003.7,368.8 1011.4,371.6 1019.1,357.7 1026.8,361.3 1034.5,445.2 1042.2,356.2"/>
<polyline points="117.8,789.5 125.5,600.0 133.2,587.9 140.9,497.7 148.6,468.4 156.3,447.7 164.0,430.7 171.7,421.0 179.4,407.0 187.1,394.7 194.8,522.7 202.5,385.6 210.2,383.6 217.9,385.1 225.6,384.4 233.4,382.3 241.1,379.6 248.8,391.7 256.5,446.3 264.2,426.9 271.9,394.5 279.6,377.8 287.3,425.5 295.0,389.2 302.7,381.0 310.4,374.0 318.1,371.4 325.8,363.9 333.5,364.5 341.2,525.8 348.9,490.5 356.6,419.9 364.3,393.9 372.0,504.5 379.7,447.4 387.4,480.4 395.1,452.1 402.8,417.0 410.5,389.5 418.2,373.8 425.9,412.6 433.6,387.6 441.3,361.2 449.0,379.6 456.7,343.2 464.5,424.9 472.2,361.6 479.9,395.7 487.6,342.0 495.3,311.2 503.0,307.8 510.7,300.5 518.4,299.5 526.1,333.4 533.8,314.4 541.5,299.9 549.2,407.2 556.9,295.8 564.6,294.1 572.3,295.6 580.0,304.8 587.7,297.3 595.4,293.5 603.1,295.4 610.8,298.3 618.5,305.1 626.2,309.4 633.9,311.6 641.6,324.1 649.3,295.2 657.0,295.1 664.7,296.4 672.4,298.6 680.1,307.6 687.8,298.8 695.5,311.9 703.3,296.9 711.0,340.4 718.7,387.4 726.4,345.7 734.1,348.2 741.8,400.2 749.5,377.3 757.2,348.0 764.9,383.1 772.6,345.4 780.3,347.4 788.0,350.3 795.7,390.2 803.4,360.6 811.1,361.2 818.8,354.2 826.5,357.3 834.2,368.5 841.9,349.8 849.6,374.9 857.3,400.3 865.0,347.4 872.7,407.7 880.4,335.3 888.1,332.9 895.8,331.6 903.5,472.5 911.2,330.9 918.9,325.0 926.6,320.6 934.4,318.9 942.1,308.2 949.8,308.0 957.5,313.2 965.2,308.3 972.9,307.2 980.6,319.2 988.3,353.8 996.0,387.4 1003.7,367.1 1011.4,367.3 1019.1,356.4 1026.8,361.6 1034.5,368.1 1042.2,354.9"/>
<polyline points="117.8,789.5 125.5,600.0 133.2,529.1 140.9,501.0 148.6,484.5 156.3,467.0 164.0,452.7 171.7,447.0 179.4,427.5 187.1,419.3 194.8,414.2 202.5,405.9 210.2,415.9 217.9,406.6 225.6,404.8 233.4,406.5 241.1,404.8 248.8,404.2 256.5,470.4 264.2,436.9 271.9,418.7 279.6,419.8 287.3,434.9 295.0,435.8 302.7,417.4 310.4,400.3 318.1,402.7 325.8,418.9 333.5,384.2 341.2,588.0 348.9,481.5 356.6,444.8 364.3,421.4 372.0,526.7 379.7,478.3 387.4,422.6 395.1,475.7 402.8,499.0 410.5,413.4 418.2,397.0 425.9,442.7 433.6,542.1 441.3,381.4 449.0,369.4 456.7,365.8 464.5,451.6 472.2,388.2 479.9,368.2 487.6,344.4 495.3,334.7 503.0,369.0 510.7,327.9 518.4,323.2 526.1,320.6 533.8,321.1 541.5,322.3 549.2,325.6 556.9,318.9 564.6,330.1 572.3,319.5 580.0,337.9 587.7,319.6 595.4,320.9 603.1,319.4 610.8,317.7 618.5,321.7 626.2,321.4 633.9,318.5 641.6,317.6 649.3,318.8 657.0,318.9 664.7,321.5 672.4,322.8 680.1,328.0 687.8,321.1 695.5,336.1 703.3,319.9 711.0,363.2 718.7,364.6 726.4,381.3 734.1,370.3 741.8,394.3 749.5,372.8 757.2,369.4 764.9,371.5 772.6,368.9 780.3,373.0 788.0,402.8 795.7,411.2 803.4,387.7 811.1,377.8 818.8,385.5 826.5,376.3 834.2,371.4 841.9,370.3 849.6,372.8 857.3,372.2 865.0,372.5 872.7,426.8 880.4,363.7 888.1,398.0 895.8,355.4 903.5,353.3 911.2,399.9 918.9,417.1 926.6,346.1 934.4,340.7 942.1,327.5 949.8,331.5 957.5,335.4 965.2,328.0 972.9,330.4 980.6,335.2 988.3,387.6 996.0,391.8 1003.7,394.2 1011.4,459.4 1019.1,405.8 1026.8,377.3 1034.5,413.4 1042.2,415.7"/>
<polyline points="117.8,789.5 125.5,600.0 133.2,523.3 140.9,501.4 148.6,491.0 156.3,462.7 164.0,447.0 171.7,430.9 179.4,416.8 187.1,410.3 194.8,458.5 202.5,426.0 210.2,412.2 217.9,427.7 225.6,430.9 233.4,397.2 241.1,396.3 248.8,406.5 256.5,465.7 264.2,434.6 271.9,410.5 279.6,394.2 287.3,463.7 295.0,408.7 302.7,397.1 310.4,394.9 318.1,470.3 325.8,384.0 333.5,378.3 341.2,517.5 348.9,499.5 356.6,439.4 364.3,413.3 372.0,517.0 379.7,471.5 387.4,415.1 395.1,468.4 402.8,431.8 410.5,408.5 418.2,411.9 425.9,425.2 433.6,392.3 441.3,374.3 449.0,365.3 456.7,359.9 464.5,442.0 472.2,387.2 479.9,377.7 487.6,340.4 495.3,327.5 503.0,322.7 510.7,318.4 518.4,317.3 526.1,329.3 533.8,320.8 541.5,317.5 549.2,313.2 556.9,344.0 564.6,312.0 572.3,312.1 580.0,317.0 587.7,312.9 595.4,313.5 603.1,313.1 610.8,311.7 618.5,320.7 626.2,328.1 633.9,313.7 641.6,316.1 649.3,310.9 657.0,315.1 664.7,315.1 672.4,328.6 680.1,315.8 687.8,316.7 695.5,316.1 703.3,313.5 711.0,357.9 718.7,357.4 726.4,363.3 734.1,364.4 741.8,411.2 749.5,365.4 757.2,370.5 764.9,363.5 772.6,367.3 780.3,364.9 788.0,364.2 795.7,391.5 803.4,370.2 811.1,370.3 818.8,371.0 826.5,370.5 834.2,365.8 841.9,366.9 849.6,365.1 857.3,367.4 865.0,367.4 872.7,440.8 880.4,351.1 888.1,349.7 895.8,349.2 903.5,348.6 911.2,346.0 918.9,346.9 926.6,340.5 934.4,336.2 942.1,332.2 949.8,328.1 957.5,323.5 965.2,325.1 972.9,323.7 980.6,327.0 988.3,370.3 996.0,386.6 1003.7,380.2 1011.4,387.4 1019.1,370.6 1026.8,416.4 1034.5,373.2 1042.2,373.9"/>
<polyline points="117.8,789.5 125.5,604.4 133.2,542.9 140.9,529.1 148.6,498.4 156.3,482.7 164.0,465.7 171.7,469.3 179.4,440.3 187.1,431.3 194.8,425.5 202.5,478.8 210.2,420.2 217.9,443.0 225.6,416.3 233.4,416.3 241.1,492.7 248.8,422.5 256.5,482.9 264.2,451.5 271.9,434.2 279.6,412.6 287.3,444.9 295.0,455.3 302.7,416.3 310.4,411.2 318.1,410.8 325.8,401.3 333.5,399.7 341.2,578.6 348.9,493.9 356.6,459.0 364.3,432.1 372.0,560.9 379.7,528.7 387.4,434.9 395.1,488.3 402.8,451.6 410.5,425.2 418.2,414.5 425.9,446.5 433.6,410.2 441.3,396.5 449.0,386.0 456.7,443.9 464.5,458.6 472.2,441.2 479.9,410.4 487.6,360.6 495.3,346.4 503.0,348.1 510.7,340.6 518.4,336.7 526.1,337.4 533.8,334.0 541.5,332.5 549.2,358.0 556.9,334.8 564.6,334.2 572.3,333.3 580.0,344.4 587.7,332.4 595.4,330.1 603.1,353.0 610.8,332.7 618.5,342.4 626.2,330.1 633.9,351.4 641.6,330.7 649.3,350.5 657.0,335.5 664.7,352.4 672.4,332.7 680.1,333.3 687.8,333.4 695.5,336.9 703.3,332.7 711.0,397.0 718.7,381.7 726.4,379.3 734.1,384.4 741.8,411.2 749.5,382.9 757.2,411.8 764.9,413.3 772.6,395.7 780.3,384.0 788.0,385.6 795.7,410.4 803.4,403.1 811.1,390.4 818.8,389.1 826.5,390.4 834.2,384.9 841.9,386.6 849.6,476.9 857.3,387.3 865.0,388.2 872.7,441.8 880.4,372.4 888.1,369.9 895.8,371.3 903.5,383.3 911.2,510.0 918.9,357.8 926.6,358.5 934.4,353.1 942.1,344.9 949.8,354.1 957.5,345.4 965.2,341.2 972.9,340.9 980.6,371.5 988.3,417.0 996.0,406.5 1003.7,402.2 1011.4,405.2 1019.1,394.4 1026.8,400.1 1034.5,392.9 1042.2,392.2"/>
<polyline points="117.8,789.5 125.5,612.9 133.2,548.8 140.9,538.6 148.6,504.4 156.3,538.3 164.0,496.4 171.7,511.3 179.4,443.5 187.1,485.6 194.8,430.8 202.5,425.3 210.2,431.6 217.9,462.9 225.6,425.0 233.4,460.4 241.1,522.0 248.8,520.0 256.5,487.9 264.2,472.3 271.9,455.7 279.6,417.7 287.3,452.9 295.0,462.3 302.7,423.1 310.4,459.5 318.1,430.4 325.8,409.5 333.5,405.7 341.2,540.2 348.9,503.5 356.6,465.0 364.3,491.4 372.0,548.5 379.7,530.5 387.4,449.2 395.1,509.6 402.8,461.1 410.5,431.3 418.2,418.8 425.9,453.2 433.6,416.0 441.3,400.5 449.0,399.1 456.7,386.7 464.5,471.2 472.2,405.4 479.9,384.2 487.6,386.8 495.3,354.8 503.0,373.2 510.7,345.4 518.4,362.2 526.1,349.7 533.8,358.0 541.5,340.2 549.2,344.8 556.9,340.5 564.6,337.3 572.3,336.5 580.0,340.6 587.7,335.9 595.4,350.6 603.1,475.0 610.8,386.1 618.5,348.1 626.2,343.5 633.9,336.6 641.6,354.4 649.3,339.4 657.0,338.4 664.7,341.2 672.4,340.6 680.1,338.2 687.8,347.0 695.5,342.2 703.3,402.7 711.0,424.2 718.7,386.5 726.4,440.2 734.1,518.7 741.8,411.3 749.5,391.4 757.2,389.9 764.9,389.1 772.6,390.0 780.3,423.3 788.0,392.3 795.7,426.2 803.4,396.8 811.1,399.4 818.8,399.7 826.5,399.8 834.2,447.6 841.9,389.0 849.6,390.3 857.3,392.5 865.0,392.7 872.7,446.5 880.4,380.8 888.1,377.6 895.8,373.9 903.5,411.0 911.2,399.6 918.9,365.6 926.6,361.8 934.4,361.0 942.1,356.1 949.8,347.4 957.5,347.2 965.2,355.0 972.9,349.3 980.6,362.2 988.3,398.5 996.0,411.6 1003.7,417.4 1011.4,532.4 1019.1,469.8 1026.8,419.8 1034.5,397.4 1042.2,399.8"/>
<polyline points="117.8,789.5 125.5,613.0 133.2,515.0 140.9,479.1 148.6,471.3 156.3,463.0 164.0,437.5 171.7,440.5 179.4,420.8 187.1,401.1 194.8,390.9 202.5,386.6 210.2,387.2 217.9,389.6 225.6,428.0 233.4,387.2 241.1,388.1 248.8,391.8 256.5,452.5 264.2,426.8 271.9,404.4 279.6,426.2 287.3,428.6 295.0,397.5 302.7,386.2 310.4,419.4 318.1,406.9 325.8,410.6 333.5,368.5 341.2,505.6 348.9,511.8 356.6,530.2 364.3,405.1 372.0,506.8 379.7,465.3 387.4,426.4 395.1,466.5 402.8,418.9 410.5,400.8 418.2,382.8 425.9,431.7 433.6,414.1 441.3,363.9 449.0,358.7 456.7,346.6 464.5,438.5 472.2,365.3 479.9,347.8 487.6,328.1 495.3,314.8 503.0,309.4 510.7,306.9 518.4,341.1 526.1,302.3 533.8,300.2 541.5,304.0 549.2,303.2 556.9,300.7 564.6,299.1 572.3,299.0 580.0,302.0 587.7,325.3 595.4,302.8 603.1,308.8 610.8,301.8 618.5,301.2 626.2,300.9 633.9,358.2 641.6,300.4 649.3,301.4 657.0,302.4 664.7,333.2 672.4,300.4 680.1,305.1 687.8,303.5 695.5,306.6 703.3,302.7 711.0,353.0 718.7,346.9 726.4,351.9 734.1,383.5 741.8,378.1 749.5,352.4 757.2,351.0 764.9,352.6 772.6,510.1 780.3,354.9 788.0,355.0 795.7,540.0 803.4,362.9 811.1,361.6 818.8,392.8 826.5,361.9 834.2,356.0 841.9,354.0 849.6,360.1 857.3,353.9 865.0,413.6 872.7,439.2 880.4,352.9 888.1,341.1 895.8,340.4 903.5,335.0 911.2,388.4 918.9,325.6 926.6,324.3 934.4,322.4 942.1,310.1 949.8,313.8 957.5,310.1 965.2,310.2 972.9,318.4 980.6,318.2 988.3,435.0 996.0,384.4 1003.7,368.3 1011.4,375.0 1019.1,363.1 1026.8,380.5 1034.5,358.2 1042.2,362.1"/>
<polyline points="117.8,789.5 125.5,600.0 133.2,515.0 140.9,476.9 148.6,475.2 156.3,448.8 164.0,439.6 171.7,456.7 179.4,407.5 187.1,432.0 194.8,387.8 202.5,385.2 210.2,391.2 217.9,419.0 225.6,462.6 233.4,383.1 241.1,383.4 248.8,399.7 256.5,466.8 264.2,417.4 271.9,398.3 279.6,384.4 287.3,410.9 295.0,393.0 302.7,380.9 310.4,375.4 318.1,376.9 325.8,393.3 333.5,364.2 341.2,495.7 348.9,455.1 356.6,431.1 364.3,396.4 372.0,523.0 379.7,446.2 387.4,403.9 395.1,454.2 402.8,471.9 410.5,394.1 418.2,406.9 425.9,413.3 433.6,378.9 441.3,361.9 449.0,352.1 456.7,348.8 464.5,420.7 472.2,390.9 479.9,383.3 487.6,322.2 495.3,311.0 503.0,307.6 510.7,305.5 518.4,301.8 526.1,298.5 533.8,297.1 541.5,303.5 549.2,307.1 556.9,299.7 564.6,299.1 572.3,330.8 580.0,296.8 587.7,310.5 595.4,299.3 603.1,328.5 610.8,362.1 618.5,339.6 626.2,301.9 633.9,452.5 641.6,298.7 649.3,296.2 657.0,296.8 664.7,297.9 672.4,419.1 680.1,300.0 687.8,297.4 695.5,316.2 703.3,301.6 711.0,344.1 718.7,346.6 726.4,345.9 734.1,345.1 741.8,374.1 749.5,350.7 757.2,348.2 764.9,346.9 772.6,348.2 780.3,347.7 788.0,348.8 795.7,380.2 803.4,358.2 811.1,358.6 818.8,455.6 826.5,361.2 834.2,351.7 841.9,372.1 849.6,362.4 857.3,374.2 865.0,381.2 872.7,409.7 880.4,367.1 888.1,341.3 895.8,336.7 903.5,335.6 911.2,374.8 918.9,328.6 926.6,323.4 934.4,324.0 942.1,307.1 949.8,327.9 957.5,306.1 965.2,310.6 972.9,309.3 980.6,313.3 988.3,360.8 996.0,370.3 1003.7,366.7 1011.4,368.4 1019.1,359.3 1026.8,363.8 1034.5,357.1 1042.2,358.3"/>
<polyline points="117.8,789.5 125.5,600.0 133.2,520.5 140.9,482.9 148.6,464.9 156.3,485.0 164.0,436.7 171.7,422.3 179.4,410.8 187.1,400.1 194.8,392.7 202.5,397.9 210.2,390.8 217.9,390.2 225.6,386.5 233.4,385.3 241.1,399.7 248.8,385.4 256.5,497.0 264.2,421.9 271.9,405.8 279.6,383.0 287.3,415.5 295.0,413.8 302.7,387.8 310.4,382.7 318.1,374.2 325.8,373.9 333.5,370.2 341.2,499.4 348.9,461.6 356.6,465.7 364.3,401.7 372.0,505.6 379.7,457.1 387.4,407.4 395.1,456.4 402.8,426.7 410.5,397.8 418.2,386.4 425.9,414.5 433.6,379.3 441.3,362.6 449.0,397.0 456.7,346.1 464.5,428.0 472.2,378.3 479.9,347.6 487.6,329.1 495.3,316.8 503.0,310.2 510.7,318.7 518.4,307.9 526.1,318.6 533.8,317.8 541.5,300.4 549.2,302.8 556.9,311.5 564.6,403.3 572.3,302.9 580.0,299.3 587.7,299.6 595.4,330.1 603.1,301.4 610.8,302.6 618.5,301.0 626.2,300.2 633.9,299.8 641.6,300.7 649.3,307.4 657.0,302.8 664.7,341.7 672.4,317.4 680.1,302.8 687.8,305.4 695.5,302.8 703.3,351.1 711.0,358.8 718.7,351.5 726.4,348.1 734.1,353.6 741.8,377.6 749.5,365.0 757.2,353.9 764.9,355.5 772.6,408.5 780.3,354.6 788.0,352.3 795.7,411.3 803.4,360.4 811.1,360.5 818.8,451.3 826.5,362.2 834.2,355.3 841.9,369.4 849.6,355.0 857.3,353.8 865.0,354.9 872.7,464.3 880.4,340.4 888.1,338.5 895.8,342.8 903.5,338.2 911.2,338.3 918.9,328.4 926.6,326.8 934.4,365.8 942.1,311.4 949.8,313.6 957.5,311.4 965.2,311.8 972.9,337.5 980.6,333.9 988.3,361.2 996.0,470.0 1003.7,370.3 1011.4,385.0 1019.1,362.9 1026.8,361.0 1034.5,366.1 1042.2,362.2"/>
<polyline points="117.8,789.5 125.5,600.0 133.2,515.8 140.9,493.9 148.6,504.0 156.3,461.1 164.0,440.5 171.7,488.5 179.4,412.1 187.1,401.3 194.8,394.3 202.5,391.0 210.2,393.4 217.9,389.4 225.6,394.0 233.4,387.0 241.1,402.4 248.8,393.2 256.5,459.8 264.2,423.5 271.9,405.2 279.6,383.5 287.3,416.5 295.0,466.6 302.7,387.8 310.4,381.5 318.1,385.2 325.8,375.1 333.5,378.6 341.2,514.4 348.9,465.4 356.6,428.1 364.3,408.9 372.0,521.6 379.7,456.2 387.4,480.6 395.1,457.4 402.8,461.6 410.5,445.6 418.2,385.7 425.9,435.6 433.6,384.4 441.3,367.5 449.0,354.3 456.7,352.2 464.5,432.5 472.2,389.1 479.9,422.8 487.6,331.7 495.3,372.1 503.0,338.1 510.7,311.0 518.4,324.8 526.1,306.7 533.8,308.1 541.5,303.8 549.2,303.0 556.9,330.0 564.6,304.2 572.3,323.3 580.0,305.2 587.7,306.5 595.4,322.8 603.1,305.8 610.8,307.2 618.5,365.3 626.2,321.5 633.9,321.0 641.6,302.2 649.3,306.7 657.0,311.9 664.7,323.2 672.4,374.0 680.1,311.1 687.8,319.1 695.5,304.8 703.3,307.4 711.0,350.2 718.7,437.2 726.4,353.4 734.1,357.5 741.8,380.7 749.5,355.2 757.2,362.8 764.9,355.7 772.6,409.8 780.3,356.7 788.0,497.6 795.7,382.6 803.4,364.8 811.1,361.6 818.8,375.1 826.5,365.1 834.2,357.2 841.9,355.5 849.6,354.6 857.3,357.3 865.0,355.0 872.7,429.1 880.4,341.9 888.1,343.2 895.8,338.9 903.5,347.5 911.2,339.3 918.9,329.9 926.6,329.0 934.4,348.2 942.1,384.0 949.8,314.9 957.5,328.0 965.2,314.1 972.9,329.9 980.6,316.5 988.3,361.6 996.0,378.2 1003.7,376.2 1011.4,420.4 1019.1,372.2 1026.8,397.0 1034.5,361.9 1042.2,363.7"/>
<polyline points="117.8,789.5 125.5,600.0 133.2,515.0 140.9,472.2 148.6,469.2 156.3,443.4 164.0,451.9 171.7,412.0 179.4,417.6 187.1,390.8 194.8,383.8 202.5,384.2 210.2,382.2 217.9,381.3 225.6,382.1 233.4,383.5 241.1,416.1 248.8,374.7 256.5,442.6 264.2,415.7 271.9,392.0 279.6,373.4 287.3,407.6 295.0,388.8 302.7,400.9 310.4,377.8 318.1,369.7 325.8,362.3 333.5,368.0 341.2,510.4 348.9,461.3 356.6,418.8 364.3,394.0 372.0,496.6 379.7,444.2 387.4,397.6 395.1,451.4 402.8,433.0 410.5,403.7 418.2,374.9 425.9,407.5 433.6,373.8 441.3,356.2 449.0,347.5 456.7,342.0 464.5,420.7 472.2,472.6 479.9,358.0 487.6,319.3 495.3,306.7 503.0,305.4 510.7,301.1 518.4,297.5 526.1,333.6 533.8,298.1 541.5,310.8 549.2,294.1 556.9,294.2 564.6,295.7 572.3,293.9 580.0,336.1 587.7,292.0 595.4,291.8 603.1,312.3 610.8,297.8 618.5,302.8 626.2,327.4 633.9,295.5 641.6,294.7 649.3,295.0 657.0,300.6 664.7,356.2 672.4,342.7 680.1,300.7 687.8,319.9 695.5,294.8 703.3,296.5 711.0,339.1 718.7,347.9 726.4,354.7 734.1,362.5 741.8,410.8 749.5,354.4 757.2,351.6 764.9,378.5 772.6,347.9 780.3,347.3 788.0,346.6 795.7,412.6 803.4,353.5 811.1,354.3 818.8,357.3 826.5,351.2 834.2,364.1 841.9,502.9 849.6,362.1 857.3,349.0 865.0,348.7 872.7,433.8 880.4,331.7 888.1,331.6 895.8,329.2 903.5,342.2 911.2,329.8 918.9,320.0 926.6,437.7 934.4,315.4 942.1,352.8 949.8,306.5 957.5,337.0 965.2,307.2 972.9,302.5 980.6,314.1 988.3,359.1 996.0,374.7 1003.7,381.6 1011.4,364.5 1019.1,352.9 1026.8,352.7 1034.5,354.7 1042.2,352.1"/>
<polyline points="117.8,789.5 125.5,612.1 133.2,540.1 140.9,512.7 148.6,525.1 156.3,507.3 164.0,467.5 171.7,463.8 179.4,439.7 187.1,427.6 194.8,422.6 202.5,472.3 210.2,434.2 217.9,415.8 225.6,414.2 233.4,466.6 241.1,414.9 248.8,418.1 256.5,480.8 264.2,451.2 271.9,431.6 279.6,484.5 287.3,448.7 295.0,433.9 302.7,413.7 310.4,411.6 318.1,468.8 325.8,401.8 333.5,396.8 341.2,531.8 348.9,488.1 356.6,516.0 364.3,432.3 372.0,535.6 379.7,478.3 387.4,434.3 395.1,487.6 402.8,457.2 410.5,436.1 418.2,408.0 425.9,445.9 433.6,408.0 441.3,399.8 449.0,385.0 456.7,378.9 464.5,491.8 472.2,395.6 479.9,373.6 487.6,358.1 495.3,344.4 503.0,342.4 510.7,340.8 518.4,381.3 526.1,477.0 533.8,332.2 541.5,329.8 549.2,332.6 556.9,329.3 564.6,339.0 572.3,329.3 580.0,346.8 587.7,331.6 595.4,328.2 603.1,365.1 610.8,332.4 618.5,332.6 626.2,329.4 633.9,351.9 641.6,328.8 649.3,329.1 657.0,376.3 664.7,332.3 672.4,338.9 680.1,334.6 687.8,334.7 695.5,342.3 703.3,353.1 711.0,425.9 718.7,377.7 726.4,377.8 734.1,387.9 741.8,403.8 749.5,387.6 757.2,395.9 764.9,387.4 772.6,380.4 780.3,380.2 788.0,380.2 795.7,411.8 803.4,408.8 811.1,419.7 818.8,394.8 826.5,394.5 834.2,395.1 841.9,383.4 849.6,381.6 857.3,385.1 865.0,381.4 872.7,473.7 880.4,369.6 888.1,369.7 895.8,369.6 903.5,366.2 911.2,364.9 918.9,358.8 926.6,353.8 934.4,357.3 942.1,342.8 949.8,343.9 957.5,342.8 965.2,342.6 972.9,343.7 980.6,345.4 988.3,405.7 996.0,405.0 1003.7,405.7 1011.4,410.5 1019.1,404.7 1026.8,390.0 1034.5,388.1 1042.2,400.4"/>
<polyline points="117.8,789.5 125.5,609.5 133.2,548.2 140.9,515.7 148.6,500.3 156.3,493.7 164.0,473.0 171.7,522.0 179.4,445.2 187.1,432.6 194.8,429.9 202.5,428.5 210.2,426.0 217.9,429.0 225.6,422.9 233.4,423.1 241.1,421.8 248.8,421.0 256.5,488.3 264.2,456.2 271.9,437.1 279.6,417.5 287.3,469.8 295.0,430.7 302.7,420.4 310.4,416.8 318.1,412.8 325.8,405.0 333.5,416.2 341.2,545.6 348.9,495.2 356.6,461.4 364.3,438.4 372.0,543.3 379.7,487.5 387.4,449.2 395.1,505.2 402.8,455.8 410.5,434.5 418.2,416.5 425.9,449.0 433.6,433.8 441.3,420.2 449.0,389.4 456.7,385.3 464.5,459.6 472.2,426.6 479.9,383.8 487.6,380.0 495.3,361.7 503.0,348.3 510.7,342.7 518.4,417.1 526.1,341.4 533.8,336.8 541.5,341.2 549.2,337.8 556.9,346.7 564.6,338.0 572.3,363.9 580.0,336.9 587.7,335.2 595.4,375.2 603.1,343.5 610.8,335.0 618.5,334.9 626.2,348.6 633.9,339.3 641.6,337.9 649.3,338.1 657.0,337.2 664.7,338.1 672.4,336.5 680.1,338.0 687.8,339.3 695.5,341.3 703.3,339.7 711.0,382.8 718.7,386.2 726.4,385.1 734.1,435.8 741.8,418.4 749.5,386.3 757.2,396.8 764.9,387.9 772.6,386.9 780.3,395.0 788.0,401.6 795.7,417.6 803.4,394.9 811.1,393.6 818.8,398.3 826.5,399.5 834.2,448.1 841.9,389.6 849.6,398.8 857.3,386.8 865.0,388.4 872.7,446.4 880.4,374.8 888.1,389.5 895.8,371.3 903.5,372.2 911.2,372.5 918.9,381.6 926.6,361.9 934.4,358.4 942.1,348.9 949.8,348.3 957.5,348.1 965.2,345.1 972.9,345.1 980.6,350.6 988.3,407.8 996.0,410.6 1003.7,406.6 1011.4,433.3 1019.1,455.0 1026.8,415.7 1034.5,397.3 1042.2,397.6"/>
<polyline points="117.8,789.5 125.5,630.0 133.2,570.1 140.9,532.9 148.6,538.9 156.3,500.1 164.0,492.5 171.7,472.6 179.4,464.6 187.1,447.7 194.8,449.5 202.5,436.1 210.2,437.0 217.9,439.4 225.6,437.2 233.4,434.0 241.1,436.1 248.8,434.6 256.5,502.2 264.2,474.6 271.9,461.0 279.6,439.9 287.3,466.5 295.0,486.6 302.7,437.0 310.4,446.1 318.1,442.4 325.8,419.8 333.5,415.1 341.2,549.5 348.9,570.9 356.6,475.4 364.3,463.6 372.0,557.8 379.7,500.2 387.4,467.9 395.1,505.9 402.8,470.2 410.5,445.9 418.2,439.6 425.9,463.3 433.6,430.6 441.3,411.5 449.0,416.1 456.7,399.4 464.5,474.1 472.2,416.9 479.9,393.5 487.6,377.8 495.3,384.9 503.0,379.3 510.7,418.7 518.4,453.3 526.1,351.5 533.8,426.9 541.5,350.8 549.2,352.0 556.9,352.4 564.6,351.0 572.3,348.4 580.0,362.5 587.7,349.8 595.4,351.6 603.1,353.0 610.8,363.5 618.5,376.3 626.2,366.2 633.9,475.5 641.6,350.6 649.3,359.0 657.0,352.7 664.7,350.2 672.4,372.1 680.1,354.9 687.8,356.9 695.5,382.3 703.3,351.3 711.0,512.2 718.7,398.9 726.4,422.2 734.1,418.8 741.8,540.0 749.5,400.9 757.2,401.6 764.9,416.4 772.6,417.1 780.3,404.3 788.0,403.2 795.7,448.4 803.4,407.9 811.1,410.9 818.8,409.4 826.5,409.3 834.2,401.5 841.9,403.1 849.6,401.5 857.3,405.8 865.0,404.8 872.7,462.0 880.4,389.2 888.1,388.1 895.8,385.9 903.5,386.4 911.2,441.5 918.9,384.6 926.6,384.9 934.4,374.0 942.1,361.4 949.8,362.5 957.5,363.7 965.2,366.7 972.9,360.1 980.6,389.7 988.3,412.4 996.0,425.4 1003.7,420.4 1011.4,421.4 1019.1,486.5 1026.8,411.8 1034.5,442.4 1042.2,409.1"/>
<polyline points="117.8,789.5 125.5,610.2 133.2,543.0 140.9,534.9 148.6,498.5 156.3,489.0 164.0,480.7 171.7,457.3 179.4,443.3 187.1,432.9 194.8,433.2 202.5,473.7 210.2,441.6 217.9,423.3 225.6,423.4 233.4,440.9 241.1,419.8 248.8,426.4 256.5,485.4 264.2,545.0 271.9,471.5 279.6,417.4 287.3,448.9 295.0,446.1 302.7,420.1 310.4,430.9 318.1,435.1 325.8,406.5 333.5,415.6 341.2,533.9 348.9,494.7 356.6,461.5 364.3,445.6 372.0,544.9 379.7,494.3 387.4,503.2 395.1,490.8 402.8,454.2 410.5,430.3 418.2,414.9 425.9,452.6 433.6,413.2 441.3,397.1 449.0,390.8 456.7,496.9 464.5,469.6 472.2,401.1 479.9,378.9 487.6,364.3 495.3,358.5 503.0,375.4 510.7,340.6 518.4,341.7 526.1,339.4 533.8,336.4 541.5,336.7 549.2,333.4 556.9,373.6 564.6,359.7 572.3,338.0 580.0,337.5 587.7,367.2 595.4,371.3 603.1,334.9 610.8,332.9 618.5,334.1 626.2,357.1 633.9,335.7 641.6,358.6 649.3,338.9 657.0,373.0 664.7,344.0 672.4,337.7 680.1,338.7 687.8,339.3 695.5,441.2 703.3,350.5 711.0,381.8 718.7,384.5 726.4,412.3 734.1,505.2 741.8,434.8 749.5,396.7 757.2,516.1 764.9,387.1 772.6,388.9 780.3,384.9 788.0,386.5 795.7,422.4 803.4,392.9 811.1,394.7 818.8,395.6 826.5,477.1 834.2,390.8 841.9,385.8 849.6,413.6 857.3,419.6 865.0,390.0 872.7,447.5 880.4,391.4 888.1,372.4 895.8,390.9 903.5,373.4 911.2,376.3 918.9,360.1 926.6,375.1 934.4,371.5 942.1,349.5 949.8,347.7 957.5,355.0 965.2,347.4 972.9,346.8 980.6,351.3 988.3,394.5 996.0,408.5 1003.7,402.8 1011.4,408.3 1019.1,394.1 1026.8,396.2 1034.5,396.3 1042.2,406.2"/>
<polyline points="117.8,789.5 125.5,600.0 133.2,515.0 140.9,467.0 148.6,491.3 156.3,435.7 164.0,428.0 171.7,406.3 179.4,395.7 187.1,382.8 194.8,377.2 202.5,374.3 210.2,381.4 217.9,374.7 225.6,369.3 233.4,373.4 241.1,368.0 248.8,367.2 256.5,435.1 264.2,405.8 271.9,387.9 279.6,364.5 287.3,397.3 295.0,390.6 302.7,382.5 310.4,364.1 318.1,368.3 325.8,362.9 333.5,352.6 341.2,485.4 348.9,444.0 356.6,428.1 364.3,381.4 372.0,518.0 379.7,433.2 387.4,390.7 395.1,438.2 402.8,406.1 410.5,380.2 418.2,366.1 425.9,397.5 433.6,377.9 441.3,346.2 449.0,339.0 456.7,339.7 464.5,409.0 472.2,350.9 479.9,328.1 487.6,310.7 495.3,299.2 503.0,293.2 510.7,386.4 518.4,291.2 526.1,286.1 533.8,289.7 541.5,283.5 549.2,284.9 556.9,283.4 564.6,310.3 572.3,331.8 580.0,281.6 587.7,283.4 595.4,285.1 603.1,289.4 610.8,285.1 618.5,295.8 626.2,282.7 633.9,337.2 641.6,285.4 649.3,314.5 657.0,285.9 664.7,286.8 672.4,286.7 680.1,284.1 687.8,290.6 695.5,296.7 703.3,289.1 711.0,331.2 718.7,331.1 726.4,331.0 734.1,351.1 741.8,356.6 749.5,370.0 757.2,349.4 764.9,333.8 772.6,338.0 780.3,334.1 788.0,336.5 795.7,364.3 803.4,352.4 811.1,341.1 818.8,369.7 826.5,374.8 834.2,338.8 841.9,376.6 849.6,337.0 857.3,337.6 865.0,337.8 872.7,466.2 880.4,349.5 888.1,333.0 895.8,319.7 903.5,321.2 911.2,328.6 918.9,344.8 926.6,326.5 934.4,305.3 942.1,293.0 949.8,342.5 957.5,297.2 965.2,316.3 972.9,304.3 980.6,310.2 988.3,343.8 996.0,358.3 1003.7,352.1 1011.4,357.8 1019.1,351.2 1026.8,345.4 1034.5,343.5 1042.2,346.3"/>
<polyline points="117.8,789.5 125.5,600.0 133.2,536.6 140.9,506.9 148.6,494.8 156.3,480.4 164.0,462.1 171.7,446.9 179.4,434.3 187.1,428.0 194.8,456.3 202.5,416.9 210.2,417.0 217.9,413.1 225.6,425.1 233.4,413.6 241.1,522.0 248.8,428.5 256.5,476.6 264.2,461.4 271.9,430.2 279.6,406.5 287.3,442.9 295.0,425.6 302.7,414.1 310.4,407.8 318.1,459.7 325.8,454.3 333.5,463.5 341.2,529.6 348.9,493.1 356.6,455.0 364.3,427.6 372.0,552.8 379.7,528.1 387.4,434.4 395.1,486.0 402.8,455.9 410.5,425.3 418.2,410.9 425.9,442.6 433.6,423.5 441.3,399.6 449.0,383.6 456.7,384.9 464.5,452.4 472.2,393.1 479.9,372.4 487.6,356.0 495.3,341.1 503.0,337.6 510.7,339.8 518.4,331.6 526.1,363.3 533.8,328.3 541.5,330.9 549.2,376.5 556.9,347.1 564.6,329.4 572.3,327.0 580.0,336.7 587.7,337.9 595.4,329.7 603.1,328.7 610.8,327.7 618.5,331.0 626.2,348.0 633.9,328.0 641.6,330.0 649.3,330.2 657.0,385.4 664.7,329.0 672.4,330.7 680.1,332.0 687.8,332.4 695.5,335.7 703.3,345.3 711.0,375.5 718.7,383.6 726.4,395.9 734.1,417.1 741.8,405.1 749.5,380.3 757.2,381.2 764.9,407.6 772.6,381.0 780.3,381.1 788.0,380.0 795.7,410.3 803.4,389.7 811.1,385.1 818.8,385.1 826.5,387.0 834.2,380.9 841.9,383.2 849.6,380.5 857.3,380.9 865.0,392.8 872.7,438.0 880.4,416.6 888.1,368.0 895.8,365.1 903.5,366.8 911.2,362.3 918.9,360.8 926.6,352.8 934.4,362.9 942.1,346.1 949.8,364.4 957.5,339.5 965.2,341.3 972.9,342.4 980.6,343.5 988.3,411.5 996.0,418.6 1003.7,399.6 1011.4,427.8 1019.1,406.3 1026.8,392.6 1034.5,388.8 1042.2,397.5"/>
<polyline points="117.8,789.5 125.5,600.0 133.2,529.7 140.9,499.4 148.6,482.3 156.3,466.7 164.0,468.0 171.7,437.1 179.4,428.9 187.1,440.4 194.8,416.3 202.5,409.4 210.2,410.3 217.9,429.4 225.6,403.4 233.4,434.9 241.1,429.1 248.8,498.9 256.5,468.2 264.2,435.9 271.9,416.4 279.6,435.9 287.3,435.0 295.0,411.5 302.7,401.5 310.4,400.4 318.1,405.4 325.8,387.8 333.5,395.4 341.2,524.5 348.9,479.4 356.6,441.8 364.3,420.0 372.0,521.6 379.7,478.8 387.4,424.8 395.1,496.0 402.8,443.3 410.5,446.8 418.2,410.3 425.9,432.6 433.6,405.1 441.3,399.1 449.0,369.9 456.7,368.0 464.5,444.1 472.2,383.2 479.9,364.0 487.6,349.5 495.3,331.1 503.0,326.1 510.7,325.9 518.4,372.8 526.1,370.9 533.8,326.6 541.5,320.9 549.2,347.8 556.9,317.7 564.6,318.5 572.3,320.0 580.0,328.1 587.7,319.7 595.4,344.2 603.1,319.3 610.8,348.1 618.5,318.0 626.2,320.8 633.9,318.1 641.6,330.4 649.3,326.5 657.0,319.0 664.7,332.2 672.4,322.6 680.1,320.5 687.8,318.4 695.5,320.9 703.3,320.5 711.0,372.7 718.7,364.9 726.4,375.1 734.1,368.0 741.8,392.0 749.5,369.9 757.2,377.7 764.9,369.2 772.6,368.3 780.3,371.1 788.0,368.2 795.7,398.7 803.4,401.5 811.1,377.6 818.8,387.1 826.5,430.5 834.2,373.1 841.9,372.0 849.6,379.3 857.3,372.7 865.0,372.3 872.7,429.4 880.4,356.2 888.1,361.2 895.8,400.9 903.5,355.5 911.2,353.9 918.9,347.0 926.6,341.3 934.4,345.9 942.1,329.6 949.8,327.6 957.5,334.3 965.2,332.5 972.9,355.9 980.6,358.8 988.3,379.4 996.0,394.8 1003.7,392.9 1011.4,398.7 1019.1,377.6 1026.8,378.2 1034.5,377.4 1042.2,426.1"/>
<polyline points="117.8,789.5 125.5,600.0 133.2,539.5 140.9,504.5 148.6,493.1 156.3,473.9 164.0,483.1 171.7,443.2 179.4,431.6 187.1,534.1 194.8,434.2 202.5,415.3 210.2,419.2 217.9,452.9 225.6,411.0 233.4,408.7 241.1,432.9 248.8,416.1 256.5,474.1 264.2,447.0 271.9,427.3 279.6,403.7 287.3,439.6 295.0,418.8 302.7,408.0 310.4,405.1 318.1,398.1 325.8,396.4 333.5,393.5 341.2,551.5 348.9,483.9 356.6,451.0 364.3,449.3 372.0,528.6 379.7,475.6 387.4,445.7 395.1,480.6 402.8,446.1 410.5,420.0 418.2,404.5 425.9,438.4 433.6,403.6 441.3,390.2 449.0,380.3 456.7,373.3 464.5,451.3 472.2,389.8 479.9,373.5 487.6,355.2 495.3,341.2 503.0,335.7 510.7,330.7 518.4,386.9 526.1,331.2 533.8,327.6 541.5,377.1 549.2,325.8 556.9,322.9 564.6,359.5 572.3,327.1 580.0,326.8 587.7,325.4 595.4,323.0 603.1,334.9 610.8,327.2 618.5,326.4 626.2,324.7 633.9,328.8 641.6,324.0 649.3,324.6 657.0,324.6 664.7,328.6 672.4,326.0 680.1,328.8 687.8,329.1 695.5,329.7 703.3,328.2 711.0,372.7 718.7,370.4 726.4,419.3 734.1,375.7 741.8,398.2 749.5,377.3 757.2,388.3 764.9,375.9 772.6,378.5 780.3,378.3 788.0,421.1 795.7,438.4 803.4,390.3 811.1,384.5 818.8,386.3 826.5,382.4 834.2,384.3 841.9,448.8 849.6,377.5 857.3,406.3 865.0,430.0 872.7,442.4 880.4,365.2 888.1,363.3 895.8,384.1 903.5,361.5 911.2,358.0 918.9,369.6 926.6,348.4 934.4,362.2 942.1,338.2 949.8,340.4 957.5,337.8 965.2,335.9 972.9,334.0 980.6,339.0 988.3,383.1 996.0,435.6 1003.7,393.8 1011.4,398.5 1019.1,406.9 1026.8,484.3 1034.5,386.5 1042.2,390.6"/>
<polyline points="117.8,789.5 125.5,640.0 133.2,559.4 140.9,529.6 148.6,516.8 156.3,499.8 164.0,501.3 171.7,472.1 179.4,464.3 187.1,447.8 194.8,440.5 202.5,435.4 210.2,436.7 217.9,449.3 225.6,433.5 233.4,462.9 241.1,430.5 248.8,429.4 256.5,513.7 264.2,489.1 271.9,445.6 279.6,427.3 287.3,463.9 295.0,452.3 302.7,443.1 310.4,429.7 318.1,424.6 325.8,442.9 333.5,414.0 341.2,556.8 348.9,505.7 356.6,474.1 364.3,445.1 372.0,550.1 379.7,504.4 387.4,461.5 395.1,529.5 402.8,469.5 410.5,444.5 418.2,452.7 425.9,463.8 433.6,426.1 441.3,420.2 449.0,454.0 456.7,395.0 464.5,500.8 472.2,417.0 479.9,391.2 487.6,376.7 495.3,361.0 503.0,358.0 510.7,397.0 518.4,352.6 526.1,352.6 533.8,403.1 541.5,350.9 549.2,347.1 556.9,397.7 564.6,403.0 572.3,349.3 580.0,372.4 587.7,350.1 595.4,372.6 603.1,420.8 610.8,345.9 618.5,346.3 626.2,348.5 633.9,347.0 641.6,346.3 649.3,356.2 657.0,346.5 664.7,352.2 672.4,349.9 680.1,351.0 687.8,347.6 695.5,348.7 703.3,360.2 711.0,405.2 718.7,392.5 726.4,396.4 734.1,396.2 741.8,421.2 749.5,401.6 757.2,397.6 764.9,401.0 772.6,413.8 780.3,421.4 788.0,400.4 795.7,425.9 803.4,460.1 811.1,408.1 818.8,428.3 826.5,429.2 834.2,458.7 841.9,441.9 849.6,398.3 857.3,401.6 865.0,433.1 872.7,530.7 880.4,387.2 888.1,388.1 895.8,404.3 903.5,389.6 911.2,381.3 918.9,377.8 926.6,380.9 934.4,368.3 942.1,359.1 949.8,358.8 957.5,356.9 965.2,370.1 972.9,356.6 980.6,364.1 988.3,409.7 996.0,419.2 1003.7,416.3 1011.4,421.9 1019.1,427.0 1026.8,409.8 1034.5,405.5 1042.2,420.5"/>
<polyline points="117.8,789.5 125.5,618.2 133.2,568.4 140.9,521.7 148.6,508.3 156.3,494.5 164.0,480.4 171.7,461.7 179.4,451.5 187.1,442.8 194.8,437.3 202.5,431.0 210.2,438.0 217.9,460.5 225.6,429.1 233.4,429.3 241.1,428.9 248.8,426.3 256.5,492.3 264.2,500.0 271.9,444.4 279.6,422.4 287.3,471.8 295.0,475.7 302.7,441.7 310.4,425.3 318.1,416.6 325.8,413.7 333.5,409.7 341.2,542.4 348.9,522.0 356.6,470.6 364.3,443.2 372.0,549.0 379.7,492.2 387.4,481.4 395.1,498.9 402.8,464.4 410.5,440.7 418.2,442.8 425.9,459.5 433.6,429.8 441.3,429.2 449.0,396.8 456.7,390.5 464.5,499.4 472.2,411.1 479.9,388.0 487.6,376.4 495.3,361.4 503.0,379.6 510.7,360.6 518.4,347.9 526.1,379.3 533.8,347.7 541.5,367.7 549.2,343.4 556.9,344.0 564.6,343.3 572.3,341.8 580.0,345.7 587.7,343.0 595.4,354.3 603.1,361.7 610.8,345.5 618.5,343.5 626.2,345.6 633.9,349.1 641.6,387.5 649.3,349.5 657.0,344.4 664.7,343.9 672.4,348.4 680.1,343.8 687.8,349.7 695.5,363.6 703.3,347.4 711.0,390.1 718.7,432.6 726.4,394.5 734.1,392.9 741.8,420.6 749.5,408.8 757.2,394.6 764.9,407.4 772.6,409.5 780.3,463.7 788.0,393.0 795.7,445.9 803.4,400.1 811.1,400.7 818.8,426.0 826.5,403.3 834.2,396.0 841.9,395.3 849.6,396.6 857.3,397.1 865.0,398.6 872.7,465.8 880.4,399.0 888.1,387.5 895.8,391.1 903.5,379.2 911.2,379.4 918.9,422.2 926.6,369.2 934.4,365.6 942.1,352.0 949.8,353.8 957.5,354.7 965.2,353.3 972.9,353.0 980.6,358.3 988.3,403.6 996.0,445.9 1003.7,449.0 1011.4,418.5 1019.1,401.2 1026.8,441.8 1034.5,405.1 1042.2,405.6"/>
<polyline points="117.8,789.5 125.5,601.1 133.2,515.0 140.9,476.5 148.6,469.4 156.3,448.6 164.0,432.6 171.7,442.1 179.4,403.9 187.1,395.6 194.8,389.6 202.5,386.4 210.2,386.4 217.9,386.7 225.6,409.7 233.4,385.7 241.1,395.3 248.8,423.4 256.5,446.4 264.2,418.5 271.9,400.5 279.6,379.3 287.3,414.7 295.0,392.6 302.7,382.1 310.4,378.5 318.1,375.7 325.8,391.3 333.5,365.1 341.2,499.7 348.9,457.6 356.6,453.4 364.3,429.4 372.0,504.0 379.7,482.7 387.4,451.7 395.1,451.9 402.8,423.1 410.5,408.1 418.2,445.3 425.9,530.0 433.6,378.4 441.3,363.1 449.0,352.8 456.7,347.9 464.5,429.9 472.2,366.5 479.9,358.2 487.6,325.3 495.3,314.3 503.0,311.0 510.7,325.2 518.4,305.6 526.1,300.7 533.8,300.2 541.5,299.1 549.2,300.5 556.9,300.8 564.6,296.7 572.3,323.6 580.0,299.7 587.7,297.1 595.4,298.1 603.1,338.0 610.8,297.8 618.5,297.3 626.2,298.8 633.9,296.9 641.6,314.0 649.3,299.3 657.0,396.7 664.7,336.6 672.4,298.2 680.1,302.2 687.8,325.8 695.5,309.5 703.3,300.9 711.0,341.7 718.7,345.8 726.4,353.7 734.1,360.6 741.8,374.0 749.5,348.5 757.2,351.4 764.9,350.5 772.6,357.5 780.3,350.5 788.0,350.5 795.7,379.6 803.4,360.2 811.1,374.3 818.8,360.0 826.5,368.4 834.2,352.2 841.9,352.3 849.6,350.3 857.3,359.3 865.0,352.5 872.7,408.5 880.4,340.7 888.1,338.1 895.8,338.7 903.5,388.0 911.2,334.5 918.9,327.6 926.6,334.5 934.4,330.7 942.1,310.6 949.8,311.0 957.5,308.7 965.2,309.5 972.9,319.8 980.6,311.5 988.3,414.0 996.0,370.6 1003.7,369.4 1011.4,369.8 1019.1,357.3 1026.8,371.5 1034.5,360.9 1042.2,358.4"/>
<polyline points="117.8,789.5 125.5,607.7 133.2,515.0 140.9,490.5 148.6,487.0 156.3,444.6 164.0,432.8 171.7,417.1 179.4,399.9 187.1,406.3 194.8,385.0 202.5,383.1 210.2,387.8 217.9,383.3 225.6,380.7 233.4,380.1 241.1,376.8 248.8,379.3 256.5,445.8 264.2,419.5 271.9,394.7 279.6,374.8 287.3,408.5 295.0,389.7 302.7,380.2 310.4,375.6 318.1,366.9 325.8,363.0 333.5,369.7 341.2,491.9 348.9,459.8 356.6,429.2 364.3,391.8 372.0,515.5 379.7,442.9 387.4,402.6 395.1,448.0 402.8,487.2 410.5,387.5 418.2,399.5 425.9,417.2 433.6,415.9 441.3,359.4 449.0,373.7 456.7,346.1 464.5,422.2 472.2,358.7 479.9,336.9 487.6,328.7 495.3,321.8 503.0,304.1 510.7,314.1 518.4,297.5 526.1,329.0 533.8,297.4 541.5,292.8 549.2,295.8 556.9,291.9 564.6,291.8 572.3,311.5 580.0,292.9 587.7,301.7 595.4,306.2 603.1,295.4 610.8,342.0 618.5,312.7 626.2,296.9 633.9,296.9 641.6,323.4 649.3,299.6 657.0,298.7 664.7,296.2 672.4,348.1 680.1,318.5 687.8,296.3 695.5,306.6 703.3,297.6 711.0,338.4 718.7,354.3 726.4,411.1 734.1,352.1 741.8,378.9 749.5,356.1 757.2,348.1 764.9,348.3 772.6,374.8 780.3,343.8 788.0,346.6 795.7,399.2 803.4,383.6 811.1,355.3 818.8,368.8 826.5,351.0 834.2,347.8 841.9,375.5 849.6,346.2 857.3,348.1 865.0,347.6 872.7,406.5 880.4,334.9 888.1,368.4 895.8,335.1 903.5,330.9 911.2,330.0 918.9,323.3 926.6,319.7 934.4,318.2 942.1,304.1 949.8,309.6 957.5,304.9 965.2,305.4 972.9,303.7 980.6,311.3 988.3,354.5 996.0,403.3 1003.7,365.8 1011.4,369.3 1019.1,353.1 1026.8,353.6 1034.5,456.5 1042.2,354.5"/>
<polyline points="117.8,789.5 125.5,600.0 133.2,515.0 140.9,477.7 148.6,451.8 156.3,437.4 164.0,427.9 171.7,408.9 179.4,425.1 187.1,429.3 194.8,391.5 202.5,376.2 210.2,387.2 217.9,382.0 225.6,385.2 233.4,389.4 241.1,375.3 248.8,370.5 256.5,439.8 264.2,426.5 271.9,386.0 279.6,372.7 287.3,403.4 295.0,395.4 302.7,375.2 310.4,373.5 318.1,365.1 325.8,356.5 333.5,353.3 341.2,489.3 348.9,485.4 356.6,411.0 364.3,395.7 372.0,593.8 379.7,437.5 387.4,427.6 395.1,448.5 402.8,422.1 410.5,383.9 418.2,365.9 425.9,402.2 433.6,366.2 441.3,353.0 449.0,402.5 456.7,357.6 464.5,411.0 472.2,378.9 479.9,335.3 487.6,433.5 495.3,301.8 503.0,305.8 510.7,330.4 518.4,305.9 526.1,293.2 533.8,288.1 541.5,287.6 549.2,286.6 556.9,287.3 564.6,290.7 572.3,287.6 580.0,298.9 587.7,305.2 595.4,286.7 603.1,290.4 610.8,290.3 618.5,287.9 626.2,290.2 633.9,289.0 641.6,298.9 649.3,288.7 657.0,292.2 664.7,323.2 672.4,290.0 680.1,317.9 687.8,303.8 695.5,292.8 703.3,291.5 711.0,332.3 718.7,347.6 726.4,337.9 734.1,339.6 741.8,364.4 749.5,346.8 757.2,338.7 764.9,341.9 772.6,362.1 780.3,344.2 788.0,341.8 795.7,445.4 803.4,349.6 811.1,348.8 818.8,349.8 826.5,347.8 834.2,342.7 841.9,340.2 849.6,345.3 857.3,347.6 865.0,341.3 872.7,422.1 880.4,333.4 888.1,411.3 895.8,376.7 903.5,340.3 911.2,324.0 918.9,315.3 926.6,431.2 934.4,310.7 942.1,361.4 949.8,298.1 957.5,299.8 965.2,298.2 972.9,299.3 980.6,326.0 988.3,350.1 996.0,360.7 1003.7,357.1 1011.4,359.5 1019.1,378.4 1026.8,346.9 1034.5,350.3 1042.2,349.7"/>
<polyline points="117.8,789.5 125.5,616.5 133.2,555.6 140.9,522.8 148.6,507.7 156.3,497.5 164.0,480.0 171.7,483.1 179.4,454.1 187.1,442.2 194.8,435.4 202.5,432.9 210.2,432.8 217.9,429.5 225.6,432.6 233.4,499.7 241.1,432.0 248.8,520.0 256.5,501.3 264.2,473.4 271.9,458.4 279.6,427.1 287.3,485.8 295.0,458.6 302.7,430.3 310.4,423.7 318.1,419.6 325.8,413.7 333.5,410.0 341.2,580.3 348.9,506.9 356.6,473.9 364.3,443.2 372.0,565.0 379.7,546.0 387.4,461.7 395.1,516.8 402.8,465.1 410.5,437.4 418.2,424.6 425.9,466.5 433.6,423.2 441.3,411.8 449.0,398.3 456.7,426.9 464.5,468.5 472.2,540.0 479.9,388.1 487.6,371.5 495.3,360.7 503.0,356.6 510.7,362.2 518.4,349.9 526.1,346.4 533.8,347.7 541.5,459.9 549.2,343.1 556.9,383.5 564.6,345.2 572.3,379.3 580.0,345.9 587.7,343.2 595.4,343.4 603.1,347.0 610.8,375.6 618.5,441.1 626.2,346.0 633.9,348.4 641.6,344.2 649.3,347.0 657.0,344.5 664.7,345.3 672.4,372.0 680.1,347.2 687.8,448.9 695.5,349.7 703.3,349.3 711.0,397.0 718.7,389.8 726.4,403.0 734.1,395.7 741.8,421.9 749.5,397.2 757.2,397.6 764.9,422.6 772.6,398.9 780.3,396.8 788.0,394.8 795.7,428.1 803.4,430.0 811.1,408.7 818.8,450.4 826.5,403.3 834.2,417.0 841.9,396.5 849.6,408.5 857.3,399.3 865.0,403.3 872.7,455.4 880.4,383.0 888.1,390.5 895.8,380.9 903.5,431.3 911.2,379.8 918.9,395.3 926.6,367.7 934.4,369.6 942.1,357.4 949.8,388.4 957.5,378.2 965.2,354.9 972.9,367.4 980.6,359.2 988.3,433.3 996.0,417.7 1003.7,422.2 1011.4,418.4 1019.1,448.0 1026.8,431.2 1034.5,403.3 1042.2,402.9"/>
<polyline points="117.8,789.5 125.5,638.8 133.2,569.2 140.9,539.8 148.6,600.0 156.3,498.3 164.0,541.6 171.7,469.9 179.4,458.2 187.1,460.9 194.8,440.1 202.5,437.6 210.2,435.8 217.9,434.9 225.6,434.4 233.4,458.7 241.1,436.7 248.8,435.6 256.5,502.9 264.2,472.4 271.9,460.2 279.6,428.4 287.3,463.8 295.0,468.2 302.7,432.9 310.4,465.8 318.1,425.5 325.8,419.3 333.5,500.8 341.2,547.7 348.9,510.1 356.6,494.2 364.3,449.5 372.0,555.5 379.7,500.0 387.4,456.3 395.1,503.9 402.8,468.8 410.5,442.8 418.2,427.4 425.9,464.5 433.6,430.8 441.3,414.4 449.0,401.5 456.7,397.4 464.5,507.9 472.2,425.4 479.9,395.6 487.6,395.4 495.3,362.4 503.0,376.0 510.7,356.1 518.4,382.7 526.1,386.2 533.8,350.8 541.5,364.8 549.2,352.0 556.9,350.3 564.6,350.8 572.3,347.3 580.0,350.3 587.7,347.5 595.4,347.8 603.1,351.5 610.8,347.1 618.5,347.8 626.2,352.2 633.9,352.1 641.6,475.8 649.3,365.2 657.0,359.8 664.7,351.2 672.4,349.3 680.1,354.8 687.8,351.7 695.5,350.4 703.3,358.0 711.0,409.4 718.7,407.5 726.4,406.4 734.1,397.9 741.8,442.0 749.5,401.5 757.2,416.5 764.9,406.7 772.6,410.9 780.3,408.1 788.0,411.4 795.7,452.6 803.4,424.0 811.1,419.5 818.8,406.5 826.5,408.3 834.2,405.6 841.9,400.6 849.6,402.5 857.3,401.8 865.0,427.9 872.7,464.6 880.4,390.6 888.1,406.7 895.8,387.3 903.5,401.5 911.2,382.3 918.9,376.3 926.6,375.8 934.4,370.3 942.1,362.0 949.8,359.6 957.5,359.7 965.2,376.4 972.9,360.5 980.6,422.4 988.3,437.1 996.0,430.9 1003.7,421.5 1011.4,424.3 1019.1,411.2 1026.8,411.3 1034.5,407.3 1042.2,408.7"/>
<polyline points="117.8,789.5 125.5,600.0 133.2,515.0 140.9,481.6 148.6,462.2 156.3,475.8 164.0,448.4 171.7,418.7 179.4,426.0 187.1,398.2 194.8,416.3 202.5,387.9 210.2,386.3 217.9,387.7 225.6,387.6 233.4,383.3 241.1,385.1 248.8,393.5 256.5,448.7 264.2,417.3 271.9,401.2 279.6,380.8 287.3,413.7 295.0,393.1 302.7,441.9 310.4,381.9 318.1,375.5 325.8,390.7 333.5,403.4 341.2,499.6 348.9,459.1 356.6,426.5 364.3,399.2 372.0,511.7 379.7,451.2 387.4,406.8 395.1,453.9 402.8,420.5 410.5,419.2 418.2,382.2 425.9,413.9 433.6,393.8 441.3,365.6 449.0,354.6 456.7,347.0 464.5,430.9 472.2,364.7 479.9,345.8 487.6,326.8 495.3,333.3 503.0,337.9 510.7,307.5 518.4,302.3 526.1,309.1 533.8,303.0 541.5,299.4 549.2,318.6 556.9,309.0 564.6,299.3 572.3,301.5 580.0,305.7 587.7,302.8 595.4,350.6 603.1,312.8 610.8,344.9 618.5,299.8 626.2,329.0 633.9,302.4 641.6,300.7 649.3,302.7 657.0,302.1 664.7,303.0 672.4,301.6 680.1,313.0 687.8,303.5 695.5,303.1 703.3,303.2 711.0,345.7 718.7,346.2 726.4,348.6 734.1,351.1 741.8,379.5 749.5,364.8 757.2,362.7 764.9,357.8 772.6,352.9 780.3,365.2 788.0,355.9 795.7,378.0 803.4,356.6 811.1,357.2 818.8,361.0 826.5,357.5 834.2,353.3 841.9,366.4 849.6,352.2 857.3,354.7 865.0,351.4 872.7,411.3 880.4,339.7 888.1,336.7 895.8,358.6 903.5,361.7 911.2,332.5 918.9,327.3 926.6,324.5 934.4,321.5 942.1,312.9 949.8,312.3 957.5,366.0 965.2,312.7 972.9,366.4 980.6,316.9 988.3,360.3 996.0,370.3 1003.7,368.3 1011.4,371.8 1019.1,361.8 1026.8,396.7 1034.5,376.3 1042.2,358.6"/>
<polyline points="117.8,789.5 125.5,600.0 133.2,534.0 140.9,514.9 148.6,526.2 156.3,473.6 164.0,476.1 171.7,445.3 179.4,440.1 187.1,432.6 194.8,419.0 202.5,411.4 210.2,412.4 217.9,409.7 225.6,412.9 233.4,411.1 241.1,426.8 248.8,409.2 256.5,479.4 264.2,545.0 271.9,423.5 279.6,435.5 287.3,438.9 295.0,421.3 302.7,453.6 310.4,501.4 318.1,411.0 325.8,400.9 333.5,397.7 341.2,522.8 348.9,485.7 356.6,451.3 364.3,425.4 372.0,530.9 379.7,476.9 387.4,430.2 395.1,480.3 402.8,445.7 410.5,421.9 418.2,402.8 425.9,472.4 433.6,493.1 441.3,390.5 449.0,389.1 456.7,373.4 464.5,450.8 472.2,394.3 479.9,370.3 487.6,351.9 495.3,462.8 503.0,335.2 510.7,361.8 518.4,329.6 526.1,356.9 533.8,325.8 541.5,327.1 549.2,326.5 556.9,323.0 564.6,325.3 572.3,323.6 580.0,398.2 587.7,325.3 595.4,326.2 603.1,398.7 610.8,367.0 618.5,353.4 626.2,337.3 633.9,326.9 641.6,338.6 649.3,328.4 657.0,362.9 664.7,324.9 672.4,341.3 680.1,337.7 687.8,326.8 695.5,326.3 703.3,330.5 711.0,372.0 718.7,374.4 726.4,382.3 734.1,373.4 741.8,435.6 749.5,378.5 757.2,378.8 764.9,375.2 772.6,380.8 780.3,416.7 788.0,377.3 795.7,406.5 803.4,386.3 811.1,465.3 818.8,385.8 826.5,382.9 834.2,390.5 841.9,380.5 849.6,398.6 857.3,388.4 865.0,379.3 872.7,440.0 880.4,363.1 888.1,371.5 895.8,390.1 903.5,360.1 911.2,358.3 918.9,351.6 926.6,349.7 934.4,347.1 942.1,353.4 949.8,350.7 957.5,333.7 965.2,373.9 972.9,356.8 980.6,343.7 988.3,411.3 996.0,397.8 1003.7,394.6 1011.4,407.6 1019.1,416.5 1026.8,387.5 1034.5,387.0 1042.2,383.4"/>
</g>
<polygon points="117.8,789.5 125.5,600.0 133.2,515.0 140.9,467.0 148.6,429.0 156.3,399.0 164.0,369.0 171.7,351.0 179.4,342.0 187.1,329.0 194.8,318.0 202.5,305.0 210.2,294.0 217.9,288.0 225.6,282.0 233.4,276.0 241.1,267.0 248.8,249.0 256.5,400.0 264.2,376.0 271.9,326.0 279.6,276.0 287.3,370.0 295.0,313.0 302.7,275.0 310.4,250.0 318.1,230.0 325.8,216.0 333.5,216.0 341.2,450.0 348.9,430.0 356.6,408.0 364.3,307.0 372.0,423.0 379.7,381.0 387.4,320.0 395.1,400.0 402.8,390.0 410.5,325.0 418.2,288.0 425.9,390.0 433.6,320.0 441.3,270.0 449.0,248.0 456.7,228.0 464.5,385.0 472.2,340.0 479.9,285.0 487.6,255.0 495.3,230.0 503.0,225.0 510.7,212.0 518.4,204.0 526.1,195.0 533.8,186.0 541.5,177.0 549.2,173.0 556.9,171.0 564.6,168.0 572.3,165.0 580.0,162.0 587.7,159.0 595.4,156.7 603.1,153.0 610.8,150.0 618.5,146.0 626.2,142.0 633.9,139.0 641.6,135.0 649.3,132.0 657.0,130.0 664.7,128.2 672.4,127.5 680.1,127.0 687.8,126.0 695.5,125.0 703.3,124.0 711.0,123.7 718.7,120.0 726.4,115.0 734.1,110.0 741.8,188.0 749.5,140.0 757.2,128.0 764.9,120.0 772.6,114.0 780.3,110.0 788.0,108.0 795.7,230.0 803.4,172.0 811.1,145.0 818.8,128.0 826.5,128.0 834.2,124.0 841.9,122.0 849.6,120.0 857.3,118.0 865.0,115.0 872.7,262.0 880.4,195.0 888.1,160.0 895.8,140.0 903.5,125.0 911.2,118.0 918.9,125.0 926.6,120.0 934.4,117.0 942.1,114.0 949.8,112.0 957.5,110.0 965.2,108.0 972.9,106.0 980.6,105.0 988.3,250.0 996.0,180.0 1003.7,151.0 1011.4,262.0 1019.1,200.0 1026.8,160.0 1034.5,145.0 1042.2,140.0 1042.2,348.8 1034.5,355.8 1026.8,361.8 1019.1,381.2 1011.4,408.0 1003.7,360.5 996.0,405.1 988.3,368.5 980.6,305.4 972.9,302.6 965.2,325.2 957.5,336.2 949.8,300.7 942.1,301.2 934.4,342.2 926.6,325.7 918.9,324.6 911.2,373.2 903.5,332.9 895.8,331.9 888.1,340.5 880.4,331.5 872.7,411.0 865.0,341.5 857.3,341.2 849.6,345.6 841.9,346.4 834.2,363.7 826.5,350.8 818.8,349.8 811.1,414.0 803.4,347.7 795.7,383.4 788.0,369.8 780.3,347.0 772.6,342.8 764.9,373.6 757.2,344.8 749.5,365.0 741.8,418.6 734.1,342.0 726.4,339.8 718.7,342.7 711.0,334.0 703.3,306.5 695.5,292.0 687.8,310.5 680.1,292.6 672.4,298.4 664.7,301.7 657.0,291.5 649.3,313.6 641.6,288.8 633.9,289.2 626.2,291.8 618.5,289.0 610.8,309.7 603.1,340.2 595.4,293.5 587.7,288.5 580.0,292.0 572.3,311.1 564.6,302.9 556.9,288.2 549.2,295.1 541.5,350.9 533.8,299.2 526.1,328.6 518.4,295.8 510.7,294.0 503.0,327.1 495.3,352.7 487.6,321.8 479.9,362.0 472.2,362.2 464.5,461.3 456.7,361.2 449.0,371.5 441.3,380.2 433.6,399.1 425.9,447.7 418.2,422.3 410.5,450.0 402.8,475.0 395.1,473.2 387.4,427.8 379.7,480.4 372.0,529.1 364.3,429.4 356.6,449.7 348.9,502.6 341.2,522.3 333.5,390.0 325.8,383.5 318.1,392.4 310.4,396.4 302.7,399.0 295.0,420.0 287.3,428.2 279.6,395.7 271.9,428.3 264.2,450.0 256.5,505.0 248.8,438.0 241.1,398.7 233.4,417.5 225.6,425.7 217.9,401.3 210.2,406.2 202.5,402.6 194.8,430.2 187.1,426.9 179.4,431.5 171.7,436.3 164.0,462.2 156.3,474.3 148.6,488.0 140.9,534.3 133.2,536.1 125.5,606.0 117.8,789.5" fill="#bfbfbf"/>
<polygon points="117.8,789.5 125.5,612.0 133.2,524.0 140.9,482.0 148.6,460.0 156.3,432.0 164.0,398.0 171.7,372.0 179.4,363.0 187.1,351.0 194.8,334.0 202.5,327.0 210.2,325.0 217.9,320.0 225.6,312.0 233.4,306.0 241.1,300.0 248.8,295.0 256.5,455.0 264.2,390.0 271.9,345.0 279.6,308.0 287.3,400.0 295.0,330.0 302.7,296.0 310.4,280.0 318.1,263.0 325.8,255.0 333.5,249.0 341.2,510.0 348.9,440.0 356.6,385.0 364.3,337.0 372.0,510.0 379.7,430.0 387.4,357.0 395.1,455.0 402.8,400.0 410.5,355.0 418.2,319.0 425.9,415.0 433.6,370.0 441.3,330.0 449.0,300.0 456.7,267.5 464.5,420.0 472.2,320.0 479.9,276.0 487.6,262.0 495.3,252.0 503.0,243.0 510.7,232.0 518.4,224.0 526.1,220.0 533.8,215.0 541.5,210.0 549.2,208.0 556.9,206.0 564.6,203.0 572.3,201.0 580.0,199.0 587.7,197.0 595.4,192.0 603.1,190.0 610.8,188.0 618.5,184.0 626.2,182.0 633.9,180.0 641.6,175.0 649.3,172.0 657.0,172.0 664.7,170.0 672.4,165.4 680.1,166.0 687.8,166.5 695.5,166.0 703.3,165.0 711.0,164.2 718.7,163.0 726.4,161.0 734.1,159.7 741.8,230.0 749.5,203.0 757.2,188.0 764.9,181.0 772.6,179.0 780.3,180.0 788.0,185.0 795.7,280.0 803.4,225.0 811.1,212.0 818.8,205.0 826.5,195.0 834.2,188.0 841.9,180.0 849.6,177.0 857.3,176.6 865.0,176.6 872.7,330.0 880.4,235.0 888.1,190.0 895.8,175.0 903.5,167.0 911.2,160.0 918.9,157.0 926.6,155.0 934.4,153.0 942.1,150.0 949.8,147.0 957.5,144.0 965.2,141.7 972.9,142.0 980.6,144.0 988.3,290.0 996.0,240.0 1003.7,201.6 1011.4,310.0 1019.1,230.0 1026.8,212.0 1034.5,195.0 1042.2,183.0 1042.2,258.0 1034.5,272.0 1026.8,285.0 1019.1,296.0 1011.4,355.0 1003.7,260.0 996.0,300.0 988.3,337.0 980.6,227.2 972.9,225.0 965.2,226.0 957.5,227.0 949.8,227.2 942.1,239.6 934.4,237.0 926.6,235.0 918.9,240.0 911.2,250.0 903.5,256.0 895.8,261.0 888.1,268.0 880.4,290.0 872.7,377.0 865.0,283.5 857.3,283.5 849.6,285.0 841.9,289.0 834.2,292.0 826.5,302.0 818.8,291.0 811.1,296.0 803.4,305.0 795.7,344.0 788.0,290.0 780.3,283.4 772.6,284.0 764.9,289.0 757.2,292.0 749.5,298.0 741.8,318.0 734.1,228.4 726.4,229.0 718.7,230.0 711.0,231.7 703.3,232.0 695.5,234.0 687.8,235.1 680.1,237.0 672.4,238.5 664.7,240.0 657.0,243.0 649.3,243.0 641.6,246.0 633.9,250.0 626.2,250.2 618.5,249.0 610.8,255.7 603.1,255.7 595.4,255.7 587.7,257.0 580.0,260.0 572.3,262.0 564.6,265.0 556.9,268.0 549.2,271.5 541.5,272.6 533.8,280.0 526.1,288.0 518.4,295.0 510.7,300.0 503.0,305.0 495.3,305.0 487.6,322.0 479.9,340.0 472.2,385.0 464.5,444.0 456.7,300.0 449.0,340.0 441.3,375.0 433.6,410.0 425.9,438.0 418.2,350.0 410.5,400.0 402.8,440.0 395.1,478.0 387.4,384.0 379.7,460.0 372.0,532.0 364.3,365.0 356.6,420.0 348.9,480.0 341.2,530.0 333.5,307.6 325.8,310.0 318.1,314.0 310.4,330.0 302.7,350.0 295.0,385.0 287.3,425.0 279.6,345.0 271.9,395.0 264.2,440.0 256.5,480.0 248.8,346.0 241.1,352.0 233.4,358.0 225.6,366.0 217.9,376.0 210.2,380.0 202.5,382.0 194.8,384.0 187.1,393.0 179.4,404.0 171.7,415.0 164.0,435.0 156.3,462.0 148.6,478.0 140.9,492.0 133.2,538.0 125.5,622.0 117.8,789.5" fill="#d0716d"/>
<polyline points="117.8,789.5 125.5,603.0 133.2,527.0 140.9,486.0 148.6,466.0 156.3,438.0 164.0,408.0 171.7,388.0 179.4,376.0 187.1,368.0 194.8,358.0 202.5,350.0 210.2,348.5 217.9,346.0 225.6,341.0 233.4,330.0 241.1,320.0 248.8,314.0 256.5,468.0 264.2,421.0 271.9,375.0 279.6,329.0 287.3,412.0 295.0,368.0 302.7,321.0 310.4,297.0 318.1,283.0 325.8,275.0 333.5,268.0 341.2,519.5 348.9,464.0 356.6,409.0 364.3,354.0 372.0,521.6 379.7,446.0 387.4,371.0 395.1,467.6 402.8,423.0 410.5,379.0 418.2,335.0 425.9,426.0 433.6,362.0 441.3,330.0 449.0,305.0 456.7,285.5 464.5,431.6 472.2,352.0 479.9,307.0 487.6,286.0 495.3,277.0 503.0,270.5 510.7,264.0 518.4,258.0 526.1,248.0 533.8,243.0 541.5,239.5 549.2,236.5 556.9,233.5 564.6,231.5 572.3,228.5 580.0,226.5 587.7,223.5 595.4,219.5 603.1,216.5 610.8,213.5 618.5,211.5 626.2,210.5 633.9,209.5 641.6,204.5 649.3,201.5 657.0,201.5 664.7,198.5 672.4,196.1 680.1,197.5 687.8,196.5 695.5,196.0 703.3,195.0 711.0,194.5 718.7,195.5 726.4,191.5 734.1,186.7 741.8,270.0 749.5,241.0 757.2,232.0 764.9,226.0 772.6,223.0 780.3,220.3 788.0,225.0 795.7,306.0 803.4,263.0 811.1,245.0 818.8,233.0 826.5,235.0 834.2,229.0 841.9,222.0 849.6,221.0 857.3,220.0 865.0,219.4 872.7,354.0 880.4,275.0 888.1,240.0 895.8,219.0 903.5,208.0 911.2,204.0 918.9,199.0 926.6,195.0 934.4,190.5 942.1,189.0 949.8,184.0 957.5,179.0 965.2,176.0 972.9,175.5 980.6,180.0 988.3,312.0 996.0,249.0 1003.7,231.0 1011.4,328.0 1019.1,262.0 1026.8,247.0 1034.5,230.0 1042.2,210.0" fill="none" stroke="#f00000" stroke-width="5.2" stroke-linejoin="round"/>
</g>
<rect x="722.4" y="673.2" width="297" height="93.2" fill="#fff" stroke="#111" stroke-width="1.3"/>
<line x1="733.5" y1="701.6" x2="779.3" y2="701.6" stroke="#f00000" stroke-width="5.3"/>
<line x1="733.5" y1="737.4" x2="779.3" y2="737.4" stroke="#bfbfbf" stroke-width="2.5"/>
<text x="797" y="712.7" font-size="32.6">Mean</text>
<text x="797" y="748.2" font-size="32.6">All realizations</text>
<text transform="translate(277.5,435) rotate(90)" font-size="19">Hendrix M</text>
<text transform="translate(315.1,524.5) rotate(90)" font-size="19">Chaffee S</text>
<text transform="translate(357.9,535) rotate(90)" font-size="19.3">Lovell</text>
<text transform="translate(388.6,482.5) rotate(90)" font-size="22">Vavilov</text>
<text transform="translate(468.4,450.3) rotate(90)" font-size="21.5">Chawla</text>
<text transform="translate(713,276) rotate(90)" font-size="22">Zucchius</text>
<text transform="translate(785.8,360) rotate(90)" font-size="22">Das</text>
<text transform="translate(856,378.5) rotate(90)" font-size="21.6">Crookes</text>
<text transform="translate(960.4,297.8) rotate(90)" font-size="22">Jackson</text>
<text transform="translate(1007.8,361.8) rotate(90)" font-size="21.5">Tycho</text>
<path d="M117.8,789.5v16M117.8,95.5v-16M156.3,789.5v8M156.3,95.5v-8M194.8,789.5v8M194.8,95.5v-8M233.4,789.5v8M233.4,95.5v-8M271.9,789.5v16M271.9,95.5v-16M310.4,789.5v8M310.4,95.5v-8M348.9,789.5v8M348.9,95.5v-8M387.4,789.5v8M387.4,95.5v-8M425.9,789.5v16M425.9,95.5v-16M464.5,789.5v8M464.5,95.5v-8M503.0,789.5v8M503.0,95.5v-8M541.5,789.5v8M541.5,95.5v-8M580.0,789.5v16M580.0,95.5v-16M618.5,789.5v8M618.5,95.5v-8M657.0,789.5v8M657.0,95.5v-8M695.6,789.5v8M695.6,95.5v-8M734.1,789.5v16M734.1,95.5v-16M772.6,789.5v8M772.6,95.5v-8M811.1,789.5v8M811.1,95.5v-8M849.6,789.5v8M849.6,95.5v-8M888.1,789.5v16M888.1,95.5v-16M926.7,789.5v8M926.7,95.5v-8M965.2,789.5v8M965.2,95.5v-8M1003.7,789.5v8M1003.7,95.5v-8M1042.2,789.5v16M1042.2,95.5v-16M117.8,789.5h-16.5M1042.2,789.5h16.5M117.8,761.7h-8.5M1042.2,761.7h8.5M117.8,734.0h-8.5M1042.2,734.0h8.5M117.8,706.2h-8.5M1042.2,706.2h8.5M117.8,678.5h-8.5M1042.2,678.5h8.5M117.8,650.7h-16.5M1042.2,650.7h16.5M117.8,622.9h-8.5M1042.2,622.9h8.5M117.8,595.2h-8.5M1042.2,595.2h8.5M117.8,567.4h-8.5M1042.2,567.4h8.5M117.8,539.7h-8.5M1042.2,539.7h8.5M117.8,511.9h-16.5M1042.2,511.9h16.5M117.8,484.1h-8.5M1042.2,484.1h8.5M117.8,456.4h-8.5M1042.2,456.4h8.5M117.8,428.6h-8.5M1042.2,428.6h8.5M117.8,400.9h-8.5M1042.2,400.9h8.5M117.8,373.1h-16.5M1042.2,373.1h16.5M117.8,345.3h-8.5M1042.2,345.3h8.5M117.8,317.6h-8.5M1042.2,317.6h8.5M117.8,289.8h-8.5M1042.2,289.8h8.5M117.8,262.1h-8.5M1042.2,262.1h8.5M117.8,234.3h-16.5M1042.2,234.3h16.5M117.8,206.5h-8.5M1042.2,206.5h8.5M117.8,178.8h-8.5M1042.2,178.8h8.5M117.8,151.0h-8.5M1042.2,151.0h8.5M117.8,123.3h-8.5M1042.2,123.3h8.5M117.8,95.5h-16.5M1042.2,95.5h16.5" stroke="#000" stroke-width="1.8" fill="none"/>
<rect x="117.8" y="95.5" width="924.4000000000001" height="694.0" fill="none" stroke="#000" stroke-width="3"/>
<text x="113.6" y="835.6" font-size="33.5" text-anchor="middle">0.0</text>
<text x="113.8" y="69.4" font-size="33.5" text-anchor="middle">2.4</text>
<text x="268.5" y="835.6" font-size="33.5" text-anchor="middle">0.4</text>
<text x="268.3" y="69.4" font-size="33.5" text-anchor="middle">2.0</text>
<text x="422.2" y="835.6" font-size="33.5" text-anchor="middle">0.8</text>
<text x="423.3" y="69.4" font-size="33.5" text-anchor="middle">1.6</text>
<text x="578.0" y="835.6" font-size="33.5" text-anchor="middle">1.2</text>
<text x="577.5" y="69.4" font-size="33.5" text-anchor="middle">1.2</text>
<text x="732.4" y="835.6" font-size="33.5" text-anchor="middle">1.6</text>
<text x="732.3" y="69.4" font-size="33.5" text-anchor="middle">0.8</text>
<text x="886.6" y="835.6" font-size="33.5" text-anchor="middle">2.0</text>
<text x="886.4" y="69.4" font-size="33.5" text-anchor="middle">0.4</text>
<text x="1041.0" y="835.6" font-size="33.5" text-anchor="middle">2.4</text>
<text x="1041.9" y="69.4" font-size="33.5" text-anchor="middle">0.0</text>
<text x="89.3" y="799.8" font-size="33.5" text-anchor="end">0.0</text>
<text x="89.3" y="661.0" font-size="33.5" text-anchor="end">0.5</text>
<text x="89.3" y="522.2" font-size="33.5" text-anchor="end">1.0</text>
<text x="89.3" y="383.4" font-size="33.5" text-anchor="end">1.5</text>
<text x="89.3" y="244.6" font-size="33.5" text-anchor="end">2.0</text>
<text x="89.3" y="105.8" font-size="33.5" text-anchor="end">2.5</text>
<text x="577.5" y="31" font-size="40.6" text-anchor="middle">Age (Ga)</text>
<text x="577.6" y="879.6" font-size="40.8" text-anchor="middle">Model run time (Gyr)</text>
<text transform="translate(30,440.5) rotate(-90)" font-size="40.7" text-anchor="middle">Mean surface exposure time (Myr)</text>
</svg>
</body></html>
